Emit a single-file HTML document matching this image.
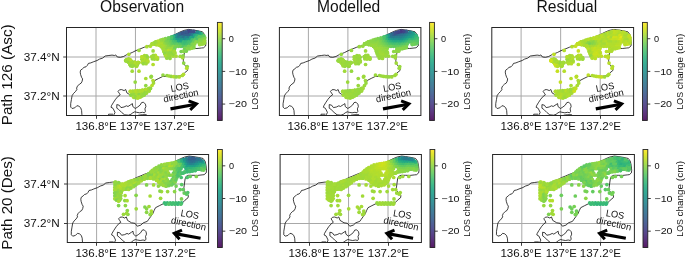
<!DOCTYPE html><html><head><meta charset="utf-8"><style>html,body{margin:0;padding:0;background:#fff;}svg{display:block;will-change:transform;}</style></head><body>
<svg width="685" height="258" viewBox="0 0 685 258" font-family="Liberation Sans, sans-serif">
<rect width="685" height="258" fill="#fff"/>
<defs><linearGradient id="cb" x1="0" y1="1" x2="0" y2="0">
<stop offset="0.000" stop-color="#440154"/>
<stop offset="0.050" stop-color="#471365"/>
<stop offset="0.100" stop-color="#482475"/>
<stop offset="0.150" stop-color="#463480"/>
<stop offset="0.200" stop-color="#414487"/>
<stop offset="0.250" stop-color="#3b528b"/>
<stop offset="0.300" stop-color="#355f8d"/>
<stop offset="0.350" stop-color="#2f6c8e"/>
<stop offset="0.400" stop-color="#2a788e"/>
<stop offset="0.450" stop-color="#25848e"/>
<stop offset="0.500" stop-color="#21918c"/>
<stop offset="0.550" stop-color="#1e9c89"/>
<stop offset="0.600" stop-color="#22a884"/>
<stop offset="0.650" stop-color="#2fb47c"/>
<stop offset="0.700" stop-color="#44bf70"/>
<stop offset="0.750" stop-color="#5ec962"/>
<stop offset="0.800" stop-color="#7ad151"/>
<stop offset="0.850" stop-color="#9bd93c"/>
<stop offset="0.900" stop-color="#bddf26"/>
<stop offset="0.950" stop-color="#dfe318"/>
<stop offset="1.000" stop-color="#440256"/>
</linearGradient></defs>
<text x="100.00" y="11.60" font-size="15.60" fill="#111" text-anchor="start" textLength="84.2" lengthAdjust="spacingAndGlyphs" >Observation</text>
<text x="317.00" y="11.60" font-size="15.60" fill="#111" text-anchor="start" textLength="63.3" lengthAdjust="spacingAndGlyphs" >Modelled</text>
<text x="536.40" y="11.60" font-size="15.60" fill="#111" text-anchor="start" textLength="60.9" lengthAdjust="spacingAndGlyphs" >Residual</text>
<text transform="translate(11.6,125.3) rotate(-90)" font-size="15.2" fill="#111" textLength="101" lengthAdjust="spacingAndGlyphs">Path 126 (Asc)</text>
<text transform="translate(11.6,249.7) rotate(-90)" font-size="15.2" fill="#111" textLength="93.5" lengthAdjust="spacingAndGlyphs">Path 20 (Des)</text>
<defs><path id="coast" d="M82.0 116.5 L81.9 114.6 L81.6 110.5 L80.7 107.8 L78.9 106.2 L76.9 105.7 L74.8 107.8 L72.1 108.5 L70.7 107.1 L70.7 103.7 L71.4 99.6 L72.1 95.6 L73.5 93.5 L75.5 91.5 L76.9 89.5 L76.6 88.1 L77.5 86.1 L79.6 84.0 L81.1 83.2 L82.1 81.3 L82.6 78.9 L81.6 77.4 L80.6 74.5 L80.2 72.1 L80.6 70.2 L82.6 68.7 L84.0 67.3 L86.0 66.8 L87.4 65.3 L88.4 63.4 L90.8 62.9 L93.2 61.9 L97.1 60.5 L99.5 59.1 L102.6 58.1 L105.2 56.0 L108.9 55.5 L112.0 55.1 L114.7 55.5 L115.7 54.9 L117.3 57.0 L120.4 57.3 L123.5 56.5 L127.1 54.5 L132.2 52.5 L135.7 50.7 L139.5 49.2 L144.3 47.2 L150.0 45.5 L156.0 43.0 L162.0 40.5 L168.0 38.0 L174.0 35.0 L180.0 32.0 L184.0 30.4 L188.6 29.4 L192.4 29.9 L198.1 30.8 L202.5 31.8 L204.5 34.5 L205.4 38.6 L205.9 43.4 L205.6 46.0 L203.5 47.8 L201.5 48.0 L197.0 48.5 L192.4 48.4 L188.0 48.4 L185.5 49.5 L184.5 52.0 L183.9 56.2 L183.3 60.8 L183.5 63.3 L185.2 65.6 L187.8 68.5 L187.5 70.5 L184.4 73.0 L181.8 75.7 L175.0 76.4 L168.3 76.4 L162.9 76.4 L158.8 78.4 L154.9 80.4 L153.5 83.2 L152.1 86.5 L150.1 89.2 L148.1 91.9 L146.7 93.9 L142.7 95.3 L140.2 97.6 L136.7 98.7 L134.3 95.8 L130.9 95.3 L126.9 92.9 L125.7 89.5 L124.1 90.6 L121.7 89.6 L119.5 89.8 L118.0 91.4 L119.2 93.2 L120.2 94.8 L118.2 96.2 L115.6 99.2 L113.2 102.8 L111.4 105.8 L111.0 107.3 L113.0 108.3 L115.0 112.4 L114.0 114.5 L113.5 116.5M116.8 104.6 L119.2 105.2 L121.0 107.6 L124.0 107.0 L126.4 105.8 L128.0 106.5 L130.9 104.6 L132.4 103.6 L132.8 106.5 L135.3 108.5 L137.7 107.0 L140.1 105.1 L141.6 102.6 L143.5 102.2 L145.4 104.1 L145.9 106.5 L144.9 108.9 L145.4 111.4 L144.5 112.8 L142.5 112.3 L139.6 112.8 L136.7 112.3 L134.8 111.8 L132.8 112.8 L130.9 114.3 L128.5 115.2 L124.6 114.8 L121.6 112.4 L118.6 109.4 L116.8 108.2 L116.8 104.6M108.2 116.5 L108.6 114.2 L113.0 114.2M137.0 116.5 L138.6 115.2 L142.5 114.7 L146.4 114.7 L147.0 116.5" fill="none" stroke="#000" stroke-width="0.75" stroke-linejoin="round"/></defs>
<clipPath id="c00"><rect x="66.50" y="27.50" width="142.00" height="88.00"/></clipPath>
<g stroke="#a8a8a8" stroke-width="1" fill="none">
<line x1="96.00" y1="27.50" x2="96.00" y2="115.50"/>
<line x1="135.45" y1="27.50" x2="135.45" y2="115.50"/>
<line x1="174.90" y1="27.50" x2="174.90" y2="115.50"/>
<line x1="66.50" y1="57.00" x2="208.50" y2="57.00"/>
<line x1="66.50" y1="96.00" x2="208.50" y2="96.00"/>
</g>
<g clip-path="url(#c00)">
<g transform="translate(96.000,0) scale(1.00000,1) translate(-96.0,0)">
<use href="#coast"/>
<circle cx="183.5" cy="33.3" r="1.85" fill="#306a8e"/>
<circle cx="186.0" cy="33.3" r="1.85" fill="#433d84"/>
<circle cx="188.5" cy="33.3" r="1.85" fill="#3a548c"/>
<circle cx="191.0" cy="33.3" r="1.85" fill="#2c718e"/>
<circle cx="193.5" cy="33.3" r="1.85" fill="#297b8e"/>
<circle cx="196.0" cy="33.3" r="1.85" fill="#238a8d"/>
<circle cx="198.5" cy="33.3" r="1.85" fill="#1fa088"/>
<circle cx="177.2" cy="35.4" r="1.85" fill="#23898e"/>
<circle cx="179.7" cy="35.4" r="1.85" fill="#287d8e"/>
<circle cx="182.2" cy="35.4" r="1.85" fill="#297a8e"/>
<circle cx="184.7" cy="35.4" r="1.85" fill="#31668e"/>
<circle cx="187.2" cy="35.4" r="1.85" fill="#34618d"/>
<circle cx="189.7" cy="35.4" r="1.85" fill="#32648e"/>
<circle cx="192.2" cy="35.4" r="1.85" fill="#277f8e"/>
<circle cx="194.7" cy="35.4" r="1.85" fill="#22a785"/>
<circle cx="197.2" cy="35.4" r="1.85" fill="#32b67a"/>
<circle cx="199.7" cy="35.4" r="1.85" fill="#5ac864"/>
<circle cx="202.2" cy="35.4" r="1.85" fill="#73d056"/>
<circle cx="171.0" cy="37.6" r="1.85" fill="#58c765"/>
<circle cx="173.5" cy="37.6" r="1.85" fill="#2cb17e"/>
<circle cx="176.0" cy="37.6" r="1.85" fill="#1e9b8a"/>
<circle cx="178.5" cy="37.6" r="1.85" fill="#27808e"/>
<circle cx="181.0" cy="37.6" r="1.85" fill="#25848e"/>
<circle cx="183.5" cy="37.6" r="1.85" fill="#2b758e"/>
<circle cx="186.0" cy="37.6" r="1.85" fill="#23898e"/>
<circle cx="188.5" cy="37.6" r="1.85" fill="#27808e"/>
<circle cx="191.0" cy="37.6" r="1.85" fill="#21a585"/>
<circle cx="193.5" cy="37.6" r="1.85" fill="#1fa088"/>
<circle cx="196.0" cy="37.6" r="1.85" fill="#40bd72"/>
<circle cx="198.5" cy="37.6" r="1.85" fill="#5ac864"/>
<circle cx="201.0" cy="37.6" r="1.85" fill="#5ec962"/>
<circle cx="203.5" cy="37.6" r="1.85" fill="#73d056"/>
<circle cx="162.2" cy="39.8" r="1.85" fill="#81d34d"/>
<circle cx="164.7" cy="39.8" r="1.85" fill="#89d548"/>
<circle cx="167.2" cy="39.8" r="1.85" fill="#69cd5b"/>
<circle cx="169.7" cy="39.8" r="1.85" fill="#63cb5f"/>
<circle cx="172.2" cy="39.8" r="1.85" fill="#42be71"/>
<circle cx="174.7" cy="39.8" r="1.85" fill="#2eb37c"/>
<circle cx="177.2" cy="39.8" r="1.85" fill="#1e9c89"/>
<circle cx="179.7" cy="39.8" r="1.85" fill="#1e9b8a"/>
<circle cx="182.2" cy="39.8" r="1.85" fill="#1e9d89"/>
<circle cx="184.7" cy="39.8" r="1.85" fill="#218f8d"/>
<circle cx="187.2" cy="39.8" r="1.85" fill="#1f9f88"/>
<circle cx="189.7" cy="39.8" r="1.85" fill="#22a884"/>
<circle cx="192.2" cy="39.8" r="1.85" fill="#46c06f"/>
<circle cx="194.7" cy="39.8" r="1.85" fill="#60ca60"/>
<circle cx="197.2" cy="39.8" r="1.85" fill="#52c569"/>
<circle cx="199.7" cy="39.8" r="1.85" fill="#7fd34e"/>
<circle cx="202.2" cy="39.8" r="1.85" fill="#7fd34e"/>
<circle cx="156.0" cy="41.9" r="1.85" fill="#98d83e"/>
<circle cx="158.5" cy="41.9" r="1.85" fill="#9bd93c"/>
<circle cx="161.0" cy="41.9" r="1.85" fill="#a8db34"/>
<circle cx="163.5" cy="41.9" r="1.85" fill="#98d83e"/>
<circle cx="166.0" cy="41.9" r="1.85" fill="#7cd250"/>
<circle cx="168.5" cy="41.9" r="1.85" fill="#77d153"/>
<circle cx="171.0" cy="41.9" r="1.85" fill="#67cc5c"/>
<circle cx="173.5" cy="41.9" r="1.85" fill="#4ec36b"/>
<circle cx="176.0" cy="41.9" r="1.85" fill="#44bf70"/>
<circle cx="178.5" cy="41.9" r="1.85" fill="#24aa83"/>
<circle cx="181.0" cy="41.9" r="1.85" fill="#21a685"/>
<circle cx="183.5" cy="41.9" r="1.85" fill="#38b977"/>
<circle cx="186.0" cy="41.9" r="1.85" fill="#37b878"/>
<circle cx="188.5" cy="41.9" r="1.85" fill="#42be71"/>
<circle cx="191.0" cy="41.9" r="1.85" fill="#46c06f"/>
<circle cx="193.5" cy="41.9" r="1.85" fill="#67cc5c"/>
<circle cx="196.0" cy="41.9" r="1.85" fill="#89d548"/>
<circle cx="198.5" cy="41.9" r="1.85" fill="#84d44b"/>
<circle cx="201.0" cy="41.9" r="1.85" fill="#89d548"/>
<circle cx="203.5" cy="41.9" r="1.85" fill="#93d741"/>
<circle cx="154.7" cy="44.1" r="1.85" fill="#addc30"/>
<circle cx="157.2" cy="44.1" r="1.85" fill="#90d743"/>
<circle cx="159.7" cy="44.1" r="1.85" fill="#aadc32"/>
<circle cx="162.2" cy="44.1" r="1.85" fill="#aadc32"/>
<circle cx="164.7" cy="44.1" r="1.85" fill="#93d741"/>
<circle cx="167.2" cy="44.1" r="1.85" fill="#81d34d"/>
<circle cx="169.7" cy="44.1" r="1.85" fill="#77d153"/>
<circle cx="172.2" cy="44.1" r="1.85" fill="#63cb5f"/>
<circle cx="174.7" cy="44.1" r="1.85" fill="#58c765"/>
<circle cx="177.2" cy="44.1" r="1.85" fill="#60ca60"/>
<circle cx="179.7" cy="44.1" r="1.85" fill="#56c667"/>
<circle cx="182.2" cy="44.1" r="1.85" fill="#44bf70"/>
<circle cx="184.7" cy="44.1" r="1.85" fill="#3bbb75"/>
<circle cx="187.2" cy="44.1" r="1.85" fill="#44bf70"/>
<circle cx="189.7" cy="44.1" r="1.85" fill="#4ec36b"/>
<circle cx="192.2" cy="44.1" r="1.85" fill="#7fd34e"/>
<circle cx="194.7" cy="44.1" r="1.85" fill="#8bd646"/>
<circle cx="199.7" cy="44.1" r="1.85" fill="#a5db36"/>
<circle cx="163.5" cy="46.3" r="1.85" fill="#b5de2b"/>
<circle cx="166.0" cy="46.3" r="1.85" fill="#9bd93c"/>
<circle cx="168.5" cy="46.3" r="1.85" fill="#89d548"/>
<circle cx="171.0" cy="46.3" r="1.85" fill="#7cd250"/>
<circle cx="173.5" cy="46.3" r="1.85" fill="#86d549"/>
<circle cx="176.0" cy="46.3" r="1.85" fill="#77d153"/>
<circle cx="178.5" cy="46.3" r="1.85" fill="#75d054"/>
<circle cx="181.0" cy="46.3" r="1.85" fill="#69cd5b"/>
<circle cx="183.5" cy="46.3" r="1.85" fill="#54c568"/>
<circle cx="186.0" cy="46.3" r="1.85" fill="#5ac864"/>
<circle cx="188.5" cy="46.3" r="1.85" fill="#77d153"/>
<circle cx="191.0" cy="46.3" r="1.85" fill="#77d153"/>
<circle cx="193.5" cy="46.3" r="1.85" fill="#86d549"/>
<circle cx="164.7" cy="48.4" r="1.85" fill="#a2da37"/>
<circle cx="167.2" cy="48.4" r="1.85" fill="#93d741"/>
<circle cx="169.7" cy="48.4" r="1.85" fill="#98d83e"/>
<circle cx="172.2" cy="48.4" r="1.85" fill="#9dd93b"/>
<circle cx="174.7" cy="48.4" r="1.85" fill="#75d054"/>
<circle cx="184.7" cy="48.4" r="1.85" fill="#81d34d"/>
<circle cx="187.2" cy="48.4" r="1.85" fill="#75d054"/>
<circle cx="189.7" cy="48.4" r="1.85" fill="#81d34d"/>
<circle cx="166.0" cy="50.6" r="1.85" fill="#9bd93c"/>
<circle cx="168.5" cy="50.6" r="1.85" fill="#b5de2b"/>
<circle cx="171.0" cy="50.6" r="1.85" fill="#aadc32"/>
<circle cx="173.5" cy="50.6" r="1.85" fill="#90d743"/>
<circle cx="164.7" cy="52.8" r="1.85" fill="#9bd93c"/>
<circle cx="167.2" cy="52.8" r="1.85" fill="#9bd93c"/>
<circle cx="169.7" cy="52.8" r="1.85" fill="#95d840"/>
<circle cx="172.2" cy="52.8" r="1.85" fill="#8ed645"/>
<circle cx="166.0" cy="54.9" r="1.85" fill="#addc30"/>
<circle cx="168.5" cy="54.9" r="1.85" fill="#98d83e"/>
<circle cx="171.0" cy="54.9" r="1.85" fill="#98d83e"/>
<circle cx="167.2" cy="57.1" r="1.85" fill="#a2da37"/>
<circle cx="169.7" cy="57.1" r="1.85" fill="#9dd93b"/>
<circle cx="152.2" cy="43.8" r="1.85" fill="#a5db36"/>
<circle cx="152.2" cy="43.9" r="1.85" fill="#a5db36"/>
<circle cx="152.6" cy="44.2" r="1.85" fill="#b2dd2d"/>
<circle cx="156.1" cy="44.4" r="1.85" fill="#98d83e"/>
<circle cx="156.2" cy="44.4" r="1.85" fill="#a0da39"/>
<circle cx="156.4" cy="44.4" r="1.85" fill="#a2da37"/>
<circle cx="156.5" cy="44.5" r="1.85" fill="#aadc32"/>
<circle cx="158.8" cy="45.2" r="1.85" fill="#b2dd2d"/>
<circle cx="161.0" cy="46.0" r="1.85" fill="#b0dd2f"/>
<circle cx="161.2" cy="46.0" r="1.85" fill="#9dd93b"/>
<circle cx="161.3" cy="46.1" r="1.85" fill="#b8de29"/>
<circle cx="161.4" cy="46.2" r="1.85" fill="#a2da37"/>
<circle cx="161.6" cy="46.3" r="1.85" fill="#addc30"/>
<circle cx="161.7" cy="46.4" r="1.85" fill="#b0dd2f"/>
<circle cx="161.8" cy="46.6" r="1.85" fill="#9dd93b"/>
<circle cx="161.9" cy="46.7" r="1.85" fill="#a5db36"/>
<circle cx="162.0" cy="46.9" r="1.85" fill="#a8db34"/>
<circle cx="163.0" cy="49.1" r="1.85" fill="#a0da39"/>
<circle cx="164.0" cy="51.4" r="1.85" fill="#b5de2b"/>
<circle cx="164.0" cy="51.5" r="1.85" fill="#a0da39"/>
<circle cx="164.7" cy="53.7" r="1.85" fill="#90d743"/>
<circle cx="165.5" cy="55.8" r="1.85" fill="#aadc32"/>
<circle cx="166.9" cy="58.2" r="1.85" fill="#98d83e"/>
<circle cx="170.0" cy="58.4" r="1.85" fill="#93d741"/>
<circle cx="173.1" cy="56.1" r="1.85" fill="#a5db36"/>
<circle cx="173.5" cy="54.1" r="1.85" fill="#90d743"/>
<circle cx="173.9" cy="52.2" r="1.85" fill="#90d743"/>
<circle cx="174.0" cy="52.0" r="1.85" fill="#a5db36"/>
<circle cx="174.0" cy="51.9" r="1.85" fill="#8ed645"/>
<circle cx="174.1" cy="51.7" r="1.85" fill="#9bd93c"/>
<circle cx="174.2" cy="51.6" r="1.85" fill="#9bd93c"/>
<circle cx="174.3" cy="51.5" r="1.85" fill="#a2da37"/>
<circle cx="184.6" cy="49.6" r="1.85" fill="#8bd646"/>
<circle cx="184.7" cy="49.6" r="1.85" fill="#6ccd5a"/>
<circle cx="187.2" cy="49.2" r="1.85" fill="#86d549"/>
<circle cx="189.7" cy="48.7" r="1.85" fill="#81d34d"/>
<circle cx="191.8" cy="48.2" r="1.85" fill="#98d83e"/>
<circle cx="193.9" cy="47.7" r="1.85" fill="#84d44b"/>
<circle cx="199.7" cy="44.6" r="1.85" fill="#9bd93c"/>
<circle cx="201.6" cy="44.2" r="1.85" fill="#98d83e"/>
<circle cx="203.5" cy="43.8" r="1.85" fill="#98d83e"/>
<circle cx="204.6" cy="42.9" r="1.85" fill="#9dd93b"/>
<circle cx="204.7" cy="40.4" r="1.85" fill="#9bd93c"/>
<circle cx="204.8" cy="37.8" r="1.85" fill="#84d44b"/>
<circle cx="203.7" cy="35.5" r="1.85" fill="#60ca60"/>
<circle cx="201.2" cy="33.6" r="1.85" fill="#32b67a"/>
<circle cx="199.4" cy="32.9" r="1.85" fill="#1fa287"/>
<circle cx="197.5" cy="32.1" r="1.85" fill="#23898e"/>
<circle cx="193.8" cy="31.4" r="1.85" fill="#3d4e8a"/>
<circle cx="191.2" cy="31.3" r="1.85" fill="#3d4e8a"/>
<circle cx="188.5" cy="31.1" r="1.85" fill="#404588"/>
<circle cx="186.0" cy="31.9" r="1.85" fill="#375a8c"/>
<circle cx="183.5" cy="32.7" r="1.85" fill="#375a8c"/>
<circle cx="181.5" cy="33.4" r="1.85" fill="#39558c"/>
<circle cx="179.6" cy="34.0" r="1.85" fill="#32658e"/>
<circle cx="177.6" cy="34.9" r="1.85" fill="#2c738e"/>
<circle cx="175.7" cy="35.8" r="1.85" fill="#25838e"/>
<circle cx="175.5" cy="35.8" r="1.85" fill="#218f8d"/>
<circle cx="173.5" cy="36.4" r="1.85" fill="#2cb17e"/>
<circle cx="171.5" cy="37.0" r="1.85" fill="#48c16e"/>
<circle cx="171.4" cy="37.1" r="1.85" fill="#4ec36b"/>
<circle cx="168.4" cy="37.8" r="1.85" fill="#6ece58"/>
<circle cx="165.4" cy="38.5" r="1.85" fill="#7fd34e"/>
<circle cx="163.0" cy="39.3" r="1.85" fill="#93d741"/>
<circle cx="160.5" cy="40.0" r="1.85" fill="#98d83e"/>
<circle cx="158.1" cy="41.0" r="1.85" fill="#b2dd2d"/>
<circle cx="155.7" cy="41.9" r="1.85" fill="#a0da39"/>
<circle cx="154.0" cy="42.9" r="1.85" fill="#9bd93c"/>
<circle cx="152.2" cy="43.8" r="1.85" fill="#a5db36"/>
<circle cx="127.1" cy="61.1" r="1.85" fill="#9bd93c"/>
<circle cx="129.6" cy="61.1" r="1.85" fill="#9dd93b"/>
<circle cx="130.8" cy="63.2" r="1.85" fill="#9dd93b"/>
<circle cx="133.3" cy="63.2" r="1.85" fill="#9dd93b"/>
<circle cx="135.8" cy="63.2" r="1.85" fill="#b8de29"/>
<circle cx="132.1" cy="65.4" r="1.85" fill="#a0da39"/>
<circle cx="134.6" cy="65.4" r="1.85" fill="#98d83e"/>
<circle cx="125.8" cy="60.5" r="1.85" fill="#9dd93b"/>
<circle cx="125.9" cy="61.0" r="1.85" fill="#98d83e"/>
<circle cx="127.4" cy="61.2" r="1.85" fill="#9bd93c"/>
<circle cx="127.5" cy="61.3" r="1.85" fill="#a0da39"/>
<circle cx="127.7" cy="61.3" r="1.85" fill="#9dd93b"/>
<circle cx="127.8" cy="61.4" r="1.85" fill="#93d741"/>
<circle cx="128.0" cy="61.5" r="1.85" fill="#95d840"/>
<circle cx="128.1" cy="61.6" r="1.85" fill="#b0dd2f"/>
<circle cx="128.2" cy="61.7" r="1.85" fill="#b2dd2d"/>
<circle cx="128.3" cy="61.8" r="1.85" fill="#93d741"/>
<circle cx="130.0" cy="63.9" r="1.85" fill="#93d741"/>
<circle cx="130.1" cy="64.0" r="1.85" fill="#b0dd2f"/>
<circle cx="130.2" cy="64.2" r="1.85" fill="#b2dd2d"/>
<circle cx="130.3" cy="64.3" r="1.85" fill="#98d83e"/>
<circle cx="130.3" cy="64.5" r="1.85" fill="#addc30"/>
<circle cx="130.4" cy="64.6" r="1.85" fill="#a0da39"/>
<circle cx="130.6" cy="65.8" r="1.85" fill="#93d741"/>
<circle cx="132.4" cy="66.3" r="1.85" fill="#98d83e"/>
<circle cx="136.2" cy="66.3" r="1.85" fill="#a2da37"/>
<circle cx="136.8" cy="66.1" r="1.85" fill="#a8db34"/>
<circle cx="136.6" cy="65.2" r="1.85" fill="#90d743"/>
<circle cx="136.6" cy="65.0" r="1.85" fill="#9dd93b"/>
<circle cx="136.6" cy="64.9" r="1.85" fill="#addc30"/>
<circle cx="136.6" cy="64.7" r="1.85" fill="#a0da39"/>
<circle cx="136.6" cy="64.6" r="1.85" fill="#90d743"/>
<circle cx="136.7" cy="64.4" r="1.85" fill="#95d840"/>
<circle cx="136.7" cy="64.3" r="1.85" fill="#b2dd2d"/>
<circle cx="136.8" cy="64.1" r="1.85" fill="#95d840"/>
<circle cx="136.9" cy="64.0" r="1.85" fill="#90d743"/>
<circle cx="137.0" cy="63.8" r="1.85" fill="#aadc32"/>
<circle cx="137.1" cy="63.7" r="1.85" fill="#b2dd2d"/>
<circle cx="137.2" cy="63.6" r="1.85" fill="#a8db34"/>
<circle cx="137.4" cy="63.5" r="1.85" fill="#b2dd2d"/>
<circle cx="138.7" cy="62.7" r="1.85" fill="#90d743"/>
<circle cx="138.7" cy="62.6" r="1.85" fill="#a0da39"/>
<circle cx="137.9" cy="62.3" r="1.85" fill="#addc30"/>
<circle cx="134.8" cy="62.3" r="1.85" fill="#9bd93c"/>
<circle cx="134.6" cy="62.3" r="1.85" fill="#a0da39"/>
<circle cx="134.5" cy="62.3" r="1.85" fill="#b2dd2d"/>
<circle cx="131.9" cy="61.8" r="1.85" fill="#a5db36"/>
<circle cx="131.8" cy="61.7" r="1.85" fill="#a0da39"/>
<circle cx="131.6" cy="61.7" r="1.85" fill="#95d840"/>
<circle cx="131.5" cy="61.6" r="1.85" fill="#98d83e"/>
<circle cx="131.3" cy="61.6" r="1.85" fill="#a0da39"/>
<circle cx="131.2" cy="61.5" r="1.85" fill="#b8de29"/>
<circle cx="131.1" cy="61.4" r="1.85" fill="#a8db34"/>
<circle cx="131.0" cy="61.3" r="1.85" fill="#b2dd2d"/>
<circle cx="130.9" cy="61.1" r="1.85" fill="#a2da37"/>
<circle cx="130.8" cy="61.0" r="1.85" fill="#aadc32"/>
<circle cx="130.8" cy="60.9" r="1.85" fill="#9bd93c"/>
<circle cx="130.2" cy="59.7" r="1.85" fill="#b8de29"/>
<circle cx="128.6" cy="58.9" r="1.85" fill="#a8db34"/>
<circle cx="126.4" cy="59.5" r="1.85" fill="#aadc32"/>
<circle cx="125.8" cy="60.5" r="1.85" fill="#9dd93b"/>
<circle cx="143.2" cy="57.6" r="1.85" fill="#9bd93c"/>
<circle cx="145.7" cy="57.6" r="1.85" fill="#b5de2b"/>
<circle cx="144.4" cy="59.8" r="1.85" fill="#b2dd2d"/>
<circle cx="146.9" cy="59.8" r="1.85" fill="#a5db36"/>
<circle cx="143.2" cy="62.0" r="1.85" fill="#b8de29"/>
<circle cx="145.7" cy="62.0" r="1.85" fill="#a8db34"/>
<circle cx="141.9" cy="56.9" r="1.85" fill="#b5de2b"/>
<circle cx="141.9" cy="59.3" r="1.85" fill="#a2da37"/>
<circle cx="142.3" cy="62.2" r="1.85" fill="#b2dd2d"/>
<circle cx="143.3" cy="63.7" r="1.85" fill="#95d840"/>
<circle cx="146.1" cy="63.7" r="1.85" fill="#a2da37"/>
<circle cx="147.8" cy="62.0" r="1.85" fill="#9dd93b"/>
<circle cx="147.9" cy="60.9" r="1.85" fill="#b5de2b"/>
<circle cx="147.7" cy="57.3" r="1.85" fill="#a0da39"/>
<circle cx="146.7" cy="55.8" r="1.85" fill="#90d743"/>
<circle cx="144.5" cy="55.5" r="1.85" fill="#a2da37"/>
<circle cx="141.9" cy="56.9" r="1.85" fill="#b5de2b"/>
<circle cx="153.1" cy="57.6" r="1.85" fill="#a0da39"/>
<circle cx="155.6" cy="57.6" r="1.85" fill="#b0dd2f"/>
<circle cx="151.9" cy="56.6" r="1.85" fill="#a2da37"/>
<circle cx="152.3" cy="58.8" r="1.85" fill="#95d840"/>
<circle cx="154.5" cy="59.1" r="1.85" fill="#a0da39"/>
<circle cx="157.3" cy="59.1" r="1.85" fill="#bade28"/>
<circle cx="157.6" cy="58.8" r="1.85" fill="#9dd93b"/>
<circle cx="157.3" cy="57.6" r="1.85" fill="#b0dd2f"/>
<circle cx="155.4" cy="55.4" r="1.85" fill="#b5de2b"/>
<circle cx="153.3" cy="55.4" r="1.85" fill="#9dd93b"/>
<circle cx="151.9" cy="56.6" r="1.85" fill="#a2da37"/>
<circle cx="144.1" cy="90.4" r="1.85" fill="#a8db34"/>
<circle cx="146.6" cy="90.4" r="1.85" fill="#addc30"/>
<circle cx="149.1" cy="90.4" r="1.85" fill="#90d743"/>
<circle cx="132.8" cy="92.6" r="1.85" fill="#98d83e"/>
<circle cx="135.3" cy="92.6" r="1.85" fill="#a8db34"/>
<circle cx="137.8" cy="92.6" r="1.85" fill="#b0dd2f"/>
<circle cx="140.3" cy="92.6" r="1.85" fill="#b0dd2f"/>
<circle cx="142.8" cy="92.6" r="1.85" fill="#a5db36"/>
<circle cx="145.3" cy="92.6" r="1.85" fill="#93d741"/>
<circle cx="131.6" cy="94.7" r="1.85" fill="#a0da39"/>
<circle cx="134.1" cy="94.7" r="1.85" fill="#95d840"/>
<circle cx="136.6" cy="94.7" r="1.85" fill="#a8db34"/>
<circle cx="139.1" cy="94.7" r="1.85" fill="#8ed645"/>
<circle cx="141.6" cy="94.7" r="1.85" fill="#9dd93b"/>
<circle cx="144.1" cy="94.7" r="1.85" fill="#8ed645"/>
<circle cx="135.3" cy="96.9" r="1.85" fill="#90d743"/>
<circle cx="137.8" cy="96.9" r="1.85" fill="#aadc32"/>
<circle cx="140.3" cy="96.9" r="1.85" fill="#addc30"/>
<circle cx="130.3" cy="91.4" r="1.85" fill="#b2dd2d"/>
<circle cx="130.8" cy="95.1" r="1.85" fill="#8ed645"/>
<circle cx="133.7" cy="97.3" r="1.85" fill="#a5db36"/>
<circle cx="135.7" cy="97.7" r="1.85" fill="#93d741"/>
<circle cx="137.8" cy="98.1" r="1.85" fill="#addc30"/>
<circle cx="139.9" cy="97.1" r="1.85" fill="#aadc32"/>
<circle cx="142.0" cy="96.1" r="1.85" fill="#98d83e"/>
<circle cx="144.1" cy="95.1" r="1.85" fill="#95d840"/>
<circle cx="146.6" cy="93.1" r="1.85" fill="#9bd93c"/>
<circle cx="149.1" cy="91.1" r="1.85" fill="#a2da37"/>
<circle cx="149.8" cy="88.5" r="1.85" fill="#a2da37"/>
<circle cx="149.8" cy="88.2" r="1.85" fill="#b2dd2d"/>
<circle cx="148.4" cy="88.5" r="1.85" fill="#a0da39"/>
<circle cx="145.4" cy="89.4" r="1.85" fill="#b0dd2f"/>
<circle cx="142.5" cy="90.3" r="1.85" fill="#98d83e"/>
<circle cx="142.3" cy="90.4" r="1.85" fill="#9dd93b"/>
<circle cx="142.1" cy="90.4" r="1.85" fill="#b0dd2f"/>
<circle cx="139.8" cy="90.6" r="1.85" fill="#b0dd2f"/>
<circle cx="137.5" cy="90.7" r="1.85" fill="#a8db34"/>
<circle cx="135.1" cy="90.9" r="1.85" fill="#b5de2b"/>
<circle cx="132.7" cy="91.2" r="1.85" fill="#a8db34"/>
<circle cx="130.3" cy="91.4" r="1.85" fill="#b2dd2d"/>
<circle cx="163.0" cy="75.0" r="1.85" fill="#93d741"/>
<circle cx="167.0" cy="75.5" r="1.85" fill="#93d741"/>
<circle cx="169.1" cy="76.0" r="1.85" fill="#a2da37"/>
<circle cx="171.2" cy="76.4" r="1.85" fill="#93d741"/>
<circle cx="173.7" cy="76.7" r="1.85" fill="#addc30"/>
<circle cx="176.2" cy="76.9" r="1.85" fill="#93d741"/>
<circle cx="179.2" cy="76.9" r="1.85" fill="#a8db34"/>
<circle cx="182.3" cy="75.5" r="1.85" fill="#a8db34"/>
<circle cx="183.5" cy="74.3" r="1.85" fill="#b0dd2f"/>
<circle cx="151.0" cy="77.1" r="1.85" fill="#9dd93b"/>
<circle cx="153.0" cy="80.6" r="1.85" fill="#b2dd2d"/>
<circle cx="153.5" cy="83.1" r="1.85" fill="#a0da39"/>
<circle cx="152.0" cy="85.5" r="1.85" fill="#b5de2b"/>
<circle cx="150.5" cy="88.5" r="1.85" fill="#90d743"/>
<circle cx="175.1" cy="53.0" r="1.85" fill="#a0da39"/>
<circle cx="176.1" cy="56.1" r="1.85" fill="#a8db34"/>
<circle cx="180.2" cy="56.3" r="1.85" fill="#a0da39"/>
<circle cx="183.0" cy="55.8" r="1.85" fill="#89d548"/>
<circle cx="181.2" cy="51.5" r="1.85" fill="#7ad151"/>
<circle cx="183.7" cy="51.4" r="1.85" fill="#86d549"/>
<circle cx="186.2" cy="51.2" r="1.85" fill="#7ad151"/>
<circle cx="128.8" cy="54.3" r="1.85" fill="#a8db34"/>
<circle cx="153.1" cy="64.5" r="1.85" fill="#b2dd2d"/>
<circle cx="132.2" cy="71.2" r="1.85" fill="#a0da39"/>
<circle cx="139.0" cy="71.2" r="1.85" fill="#addc30"/>
<circle cx="153.1" cy="50.9" r="1.85" fill="#9dd93b"/>
<circle cx="139.0" cy="50.4" r="1.85" fill="#9bd93c"/>
<circle cx="151.3" cy="76.3" r="1.85" fill="#93d741"/>
<circle cx="135.2" cy="82.1" r="1.85" fill="#93d741"/>
<circle cx="145.8" cy="78.5" r="1.85" fill="#a8db34"/>
<circle cx="145.8" cy="85.6" r="1.85" fill="#90d743"/>
<circle cx="146.8" cy="46.7" r="1.85" fill="#a8db34"/>
<circle cx="150.3" cy="46.2" r="1.85" fill="#aadc32"/>
<circle cx="183.7" cy="63.1" r="1.85" fill="#8ed645"/>
<circle cx="187.2" cy="66.5" r="1.85" fill="#8ed645"/>
<circle cx="186.7" cy="68.2" r="1.85" fill="#b5de2b"/>
<circle cx="182.7" cy="57.8" r="1.85" fill="#a0da39"/>
</g>
<g transform="translate(0.00,0)">
<text transform="translate(171.2,91.9) rotate(-10.4)" font-size="9.5" fill="#111" textLength="18.5" lengthAdjust="spacingAndGlyphs">LOS</text>
<text transform="translate(164,102.4) rotate(-11.7)" font-size="9.5" fill="#111" textLength="35.7" lengthAdjust="spacingAndGlyphs">direction</text>
<path d="M170.5 108.9 L195.8 104.2" stroke="#000" stroke-width="3.2" fill="none"/>
<path d="M188.6 100.9 L196.4 103.9 L190.2 109.8" stroke="#000" stroke-width="3.0" fill="none" stroke-linejoin="miter"/>
</g>
</g>
<rect x="66.50" y="27.50" width="142.00" height="88.00" fill="none" stroke="#262626" stroke-width="1"/>
<g stroke="#262626" stroke-width="0.9">
<line x1="96.50" y1="115.50" x2="96.50" y2="118.80"/>
<line x1="135.50" y1="115.50" x2="135.50" y2="118.80"/>
<line x1="174.50" y1="115.50" x2="174.50" y2="118.80"/>
<line x1="63.20" y1="57.00" x2="66.50" y2="57.00"/>
<line x1="63.20" y1="96.00" x2="66.50" y2="96.00"/>
</g>
<text x="96.05" y="129.60" font-size="10.70" fill="#111" text-anchor="middle" textLength="41.3" lengthAdjust="spacingAndGlyphs" >136.8°E</text>
<text x="135.35" y="129.60" font-size="10.70" fill="#111" text-anchor="middle" textLength="31.0" lengthAdjust="spacingAndGlyphs" >137°E</text>
<text x="174.40" y="129.60" font-size="10.70" fill="#111" text-anchor="middle" textLength="41.3" lengthAdjust="spacingAndGlyphs" >137.2°E</text>
<text x="23.70" y="60.90" font-size="10.70" fill="#111" text-anchor="start" textLength="36.0" lengthAdjust="spacingAndGlyphs" >37.4°N</text>
<text x="23.70" y="99.80" font-size="10.70" fill="#111" text-anchor="start" textLength="36.0" lengthAdjust="spacingAndGlyphs" >37.2°N</text>
<rect x="217.40" y="22.40" width="4.8" height="1.300" fill="#fbe723"/>
<rect x="217.40" y="23.40" width="4.8" height="1.300" fill="#f6e620"/>
<rect x="217.40" y="24.40" width="4.8" height="1.300" fill="#efe51c"/>
<rect x="217.40" y="25.40" width="4.8" height="1.300" fill="#e7e419"/>
<rect x="217.40" y="26.40" width="4.8" height="1.300" fill="#e2e418"/>
<rect x="217.40" y="27.40" width="4.8" height="1.300" fill="#dae319"/>
<rect x="217.40" y="28.40" width="4.8" height="1.300" fill="#d5e21a"/>
<rect x="217.40" y="29.40" width="4.8" height="1.300" fill="#cde11d"/>
<rect x="217.40" y="30.40" width="4.8" height="1.300" fill="#c5e021"/>
<rect x="217.40" y="31.40" width="4.8" height="1.300" fill="#c0df25"/>
<rect x="217.40" y="32.40" width="4.8" height="1.300" fill="#b8de29"/>
<rect x="217.40" y="33.40" width="4.8" height="1.300" fill="#b0dd2f"/>
<rect x="217.40" y="34.40" width="4.8" height="1.300" fill="#aadc32"/>
<rect x="217.40" y="35.40" width="4.8" height="1.300" fill="#a2da37"/>
<rect x="217.40" y="36.40" width="4.8" height="1.300" fill="#9dd93b"/>
<rect x="217.40" y="37.40" width="4.8" height="1.300" fill="#95d840"/>
<rect x="217.40" y="38.40" width="4.8" height="1.300" fill="#8ed645"/>
<rect x="217.40" y="39.40" width="4.8" height="1.300" fill="#89d548"/>
<rect x="217.40" y="40.40" width="4.8" height="1.300" fill="#81d34d"/>
<rect x="217.40" y="41.40" width="4.8" height="1.300" fill="#7cd250"/>
<rect x="217.40" y="42.40" width="4.8" height="1.300" fill="#75d054"/>
<rect x="217.40" y="43.40" width="4.8" height="1.300" fill="#6ece58"/>
<rect x="217.40" y="44.40" width="4.8" height="1.300" fill="#69cd5b"/>
<rect x="217.40" y="45.40" width="4.8" height="1.300" fill="#63cb5f"/>
<rect x="217.40" y="46.40" width="4.8" height="1.300" fill="#5ec962"/>
<rect x="217.40" y="47.40" width="4.8" height="1.300" fill="#58c765"/>
<rect x="217.40" y="48.40" width="4.8" height="1.300" fill="#52c569"/>
<rect x="217.40" y="49.40" width="4.8" height="1.300" fill="#4ec36b"/>
<rect x="217.40" y="50.40" width="4.8" height="1.300" fill="#48c16e"/>
<rect x="217.40" y="51.40" width="4.8" height="1.300" fill="#42be71"/>
<rect x="217.40" y="52.40" width="4.8" height="1.300" fill="#3fbc73"/>
<rect x="217.40" y="53.40" width="4.8" height="1.300" fill="#3aba76"/>
<rect x="217.40" y="54.40" width="4.8" height="1.300" fill="#37b878"/>
<rect x="217.40" y="55.40" width="4.8" height="1.300" fill="#32b67a"/>
<rect x="217.40" y="56.40" width="4.8" height="1.300" fill="#2eb37c"/>
<rect x="217.40" y="57.40" width="4.8" height="1.300" fill="#2cb17e"/>
<rect x="217.40" y="58.40" width="4.8" height="1.300" fill="#28ae80"/>
<rect x="217.40" y="59.40" width="4.8" height="1.300" fill="#26ad81"/>
<rect x="217.40" y="60.40" width="4.8" height="1.300" fill="#24aa83"/>
<rect x="217.40" y="61.40" width="4.8" height="1.300" fill="#22a785"/>
<rect x="217.40" y="62.40" width="4.8" height="1.300" fill="#21a585"/>
<rect x="217.40" y="63.40" width="4.8" height="1.300" fill="#1fa287"/>
<rect x="217.40" y="64.40" width="4.8" height="1.300" fill="#1fa088"/>
<rect x="217.40" y="65.40" width="4.8" height="1.300" fill="#1f9e89"/>
<rect x="217.40" y="66.40" width="4.8" height="1.300" fill="#1e9b8a"/>
<rect x="217.40" y="67.40" width="4.8" height="1.300" fill="#1f998a"/>
<rect x="217.40" y="68.40" width="4.8" height="1.300" fill="#1f968b"/>
<rect x="217.40" y="69.40" width="4.8" height="1.300" fill="#20938c"/>
<rect x="217.40" y="70.40" width="4.8" height="1.300" fill="#20928c"/>
<rect x="217.40" y="71.40" width="4.8" height="1.300" fill="#218f8d"/>
<rect x="217.40" y="72.40" width="4.8" height="1.300" fill="#228d8d"/>
<rect x="217.40" y="73.40" width="4.8" height="1.300" fill="#238a8d"/>
<rect x="217.40" y="74.40" width="4.8" height="1.300" fill="#24878e"/>
<rect x="217.40" y="75.40" width="4.8" height="1.300" fill="#25858e"/>
<rect x="217.40" y="76.40" width="4.8" height="1.300" fill="#26828e"/>
<rect x="217.40" y="77.40" width="4.8" height="1.300" fill="#26818e"/>
<rect x="217.40" y="78.40" width="4.8" height="1.300" fill="#277e8e"/>
<rect x="217.40" y="79.40" width="4.8" height="1.300" fill="#297b8e"/>
<rect x="217.40" y="80.40" width="4.8" height="1.300" fill="#29798e"/>
<rect x="217.40" y="81.40" width="4.8" height="1.300" fill="#2a768e"/>
<rect x="217.40" y="82.40" width="4.8" height="1.300" fill="#2c738e"/>
<rect x="217.40" y="83.40" width="4.8" height="1.300" fill="#2c718e"/>
<rect x="217.40" y="84.40" width="4.8" height="1.300" fill="#2e6f8e"/>
<rect x="217.40" y="85.40" width="4.8" height="1.300" fill="#2e6d8e"/>
<rect x="217.40" y="86.40" width="4.8" height="1.300" fill="#306a8e"/>
<rect x="217.40" y="87.40" width="4.8" height="1.300" fill="#31678e"/>
<rect x="217.40" y="88.40" width="4.8" height="1.300" fill="#32658e"/>
<rect x="217.40" y="89.40" width="4.8" height="1.300" fill="#33628d"/>
<rect x="217.40" y="90.40" width="4.8" height="1.300" fill="#34608d"/>
<rect x="217.40" y="91.40" width="4.8" height="1.300" fill="#365d8d"/>
<rect x="217.40" y="92.40" width="4.8" height="1.300" fill="#375a8c"/>
<rect x="217.40" y="93.40" width="4.8" height="1.300" fill="#38588c"/>
<rect x="217.40" y="94.40" width="4.8" height="1.300" fill="#3a548c"/>
<rect x="217.40" y="95.40" width="4.8" height="1.300" fill="#3b528b"/>
<rect x="217.40" y="96.40" width="4.8" height="1.300" fill="#3c4f8a"/>
<rect x="217.40" y="97.40" width="4.8" height="1.300" fill="#3e4c8a"/>
<rect x="217.40" y="98.40" width="4.8" height="1.300" fill="#3e4989"/>
<rect x="217.40" y="99.40" width="4.8" height="1.300" fill="#404688"/>
<rect x="217.40" y="100.40" width="4.8" height="1.300" fill="#414287"/>
<rect x="217.40" y="101.40" width="4.8" height="1.300" fill="#424086"/>
<rect x="217.40" y="102.40" width="4.8" height="1.300" fill="#433d84"/>
<rect x="217.40" y="103.40" width="4.8" height="1.300" fill="#443a83"/>
<rect x="217.40" y="104.40" width="4.8" height="1.300" fill="#453781"/>
<rect x="217.40" y="105.40" width="4.8" height="1.300" fill="#46337f"/>
<rect x="217.40" y="106.40" width="4.8" height="1.300" fill="#46307e"/>
<rect x="217.40" y="107.40" width="4.8" height="1.300" fill="#472d7b"/>
<rect x="217.40" y="108.40" width="4.8" height="1.300" fill="#472a7a"/>
<rect x="217.40" y="109.40" width="4.8" height="1.300" fill="#482677"/>
<rect x="217.40" y="110.40" width="4.8" height="1.300" fill="#482374"/>
<rect x="217.40" y="111.40" width="4.8" height="1.300" fill="#482071"/>
<rect x="217.40" y="112.40" width="4.8" height="1.300" fill="#481c6e"/>
<rect x="217.40" y="113.40" width="4.8" height="1.300" fill="#48186a"/>
<rect x="217.40" y="114.40" width="4.8" height="1.300" fill="#481668"/>
<rect x="217.40" y="115.40" width="4.8" height="1.300" fill="#471164"/>
<rect x="217.40" y="116.40" width="4.8" height="1.300" fill="#470e61"/>
<rect x="217.40" y="117.40" width="4.8" height="1.300" fill="#460a5d"/>
<rect x="217.40" y="118.40" width="4.8" height="1.300" fill="#450559"/>
<rect x="217.40" y="119.40" width="4.8" height="1.300" fill="#440256"/>
<rect x="217.40" y="22.40" width="4.8" height="98.00" fill="none" stroke="#262626" stroke-width="0.9"/>
<g stroke="#262626" stroke-width="0.9">
<line x1="222.20" y1="38.73" x2="225.20" y2="38.73"/>
<line x1="222.20" y1="71.40" x2="225.20" y2="71.40"/>
<line x1="222.20" y1="104.07" x2="225.20" y2="104.07"/>
</g>
<text x="228.80" y="42.03" font-size="9.20" fill="#111" text-anchor="start" textLength="5.1" lengthAdjust="spacingAndGlyphs" >0</text>
<text x="228.80" y="74.70" font-size="9.20" fill="#111" text-anchor="start" textLength="18.2" lengthAdjust="spacingAndGlyphs" >−10</text>
<text x="228.80" y="107.37" font-size="9.20" fill="#111" text-anchor="start" textLength="18.2" lengthAdjust="spacingAndGlyphs" >−20</text>
<text transform="translate(257.70,109.60) rotate(-90)" font-size="8.8" fill="#111" textLength="17.6" lengthAdjust="spacingAndGlyphs">LOS</text>
<text transform="translate(257.70,89.30) rotate(-90)" font-size="8.8" fill="#111" textLength="32.4" lengthAdjust="spacingAndGlyphs">change</text>
<text transform="translate(257.70,54.10) rotate(-90)" font-size="8.8" fill="#111" textLength="20.4" lengthAdjust="spacingAndGlyphs">(cm)</text>
<clipPath id="c01"><rect x="279.40" y="27.50" width="141.50" height="88.00"/></clipPath>
<g stroke="#a8a8a8" stroke-width="1" fill="none">
<line x1="308.40" y1="27.50" x2="308.40" y2="115.50"/>
<line x1="347.90" y1="27.50" x2="347.90" y2="115.50"/>
<line x1="387.40" y1="27.50" x2="387.40" y2="115.50"/>
<line x1="279.40" y1="57.00" x2="420.90" y2="57.00"/>
<line x1="279.40" y1="96.00" x2="420.90" y2="96.00"/>
</g>
<g clip-path="url(#c01)">
<g transform="translate(308.400,0) scale(1.00127,1) translate(-96.0,0)">
<use href="#coast"/>
<circle cx="183.5" cy="33.3" r="1.85" fill="#3c4f8a"/>
<circle cx="186.0" cy="33.3" r="1.85" fill="#3b518b"/>
<circle cx="188.5" cy="33.3" r="1.85" fill="#3a538b"/>
<circle cx="191.0" cy="33.3" r="1.85" fill="#375b8d"/>
<circle cx="193.5" cy="33.3" r="1.85" fill="#2f6b8e"/>
<circle cx="196.0" cy="33.3" r="1.85" fill="#287d8e"/>
<circle cx="198.5" cy="33.3" r="1.85" fill="#20938c"/>
<circle cx="177.2" cy="35.4" r="1.85" fill="#277e8e"/>
<circle cx="179.7" cy="35.4" r="1.85" fill="#306a8e"/>
<circle cx="182.2" cy="35.4" r="1.85" fill="#33628d"/>
<circle cx="184.7" cy="35.4" r="1.85" fill="#31688e"/>
<circle cx="187.2" cy="35.4" r="1.85" fill="#2f6c8e"/>
<circle cx="189.7" cy="35.4" r="1.85" fill="#2c718e"/>
<circle cx="192.2" cy="35.4" r="1.85" fill="#2a788e"/>
<circle cx="194.7" cy="35.4" r="1.85" fill="#24878e"/>
<circle cx="197.2" cy="35.4" r="1.85" fill="#20938c"/>
<circle cx="199.7" cy="35.4" r="1.85" fill="#1fa088"/>
<circle cx="202.2" cy="35.4" r="1.85" fill="#25ac82"/>
<circle cx="171.0" cy="37.6" r="1.85" fill="#56c667"/>
<circle cx="173.5" cy="37.6" r="1.85" fill="#38b977"/>
<circle cx="176.0" cy="37.6" r="1.85" fill="#1fa188"/>
<circle cx="178.5" cy="37.6" r="1.85" fill="#27808e"/>
<circle cx="181.0" cy="37.6" r="1.85" fill="#297a8e"/>
<circle cx="183.5" cy="37.6" r="1.85" fill="#277f8e"/>
<circle cx="186.0" cy="37.6" r="1.85" fill="#27808e"/>
<circle cx="188.5" cy="37.6" r="1.85" fill="#277f8e"/>
<circle cx="191.0" cy="37.6" r="1.85" fill="#24868e"/>
<circle cx="193.5" cy="37.6" r="1.85" fill="#20928c"/>
<circle cx="196.0" cy="37.6" r="1.85" fill="#1f9e89"/>
<circle cx="198.5" cy="37.6" r="1.85" fill="#1fa287"/>
<circle cx="201.0" cy="37.6" r="1.85" fill="#25ac82"/>
<circle cx="203.5" cy="37.6" r="1.85" fill="#38b977"/>
<circle cx="162.2" cy="39.8" r="1.85" fill="#89d548"/>
<circle cx="164.7" cy="39.8" r="1.85" fill="#86d549"/>
<circle cx="167.2" cy="39.8" r="1.85" fill="#77d153"/>
<circle cx="169.7" cy="39.8" r="1.85" fill="#65cb5e"/>
<circle cx="172.2" cy="39.8" r="1.85" fill="#52c569"/>
<circle cx="174.7" cy="39.8" r="1.85" fill="#35b779"/>
<circle cx="177.2" cy="39.8" r="1.85" fill="#21a585"/>
<circle cx="179.7" cy="39.8" r="1.85" fill="#1f988b"/>
<circle cx="182.2" cy="39.8" r="1.85" fill="#1f948c"/>
<circle cx="184.7" cy="39.8" r="1.85" fill="#1f958b"/>
<circle cx="187.2" cy="39.8" r="1.85" fill="#20928c"/>
<circle cx="189.7" cy="39.8" r="1.85" fill="#1f968b"/>
<circle cx="192.2" cy="39.8" r="1.85" fill="#1fa187"/>
<circle cx="194.7" cy="39.8" r="1.85" fill="#25ac82"/>
<circle cx="197.2" cy="39.8" r="1.85" fill="#37b878"/>
<circle cx="199.7" cy="39.8" r="1.85" fill="#34b679"/>
<circle cx="202.2" cy="39.8" r="1.85" fill="#3bbb75"/>
<circle cx="156.0" cy="41.9" r="1.85" fill="#90d743"/>
<circle cx="158.5" cy="41.9" r="1.85" fill="#8ed645"/>
<circle cx="161.0" cy="41.9" r="1.85" fill="#8bd646"/>
<circle cx="163.5" cy="41.9" r="1.85" fill="#89d548"/>
<circle cx="166.0" cy="41.9" r="1.85" fill="#8bd646"/>
<circle cx="168.5" cy="41.9" r="1.85" fill="#7cd250"/>
<circle cx="171.0" cy="41.9" r="1.85" fill="#67cc5c"/>
<circle cx="173.5" cy="41.9" r="1.85" fill="#54c568"/>
<circle cx="176.0" cy="41.9" r="1.85" fill="#3dbc74"/>
<circle cx="178.5" cy="41.9" r="1.85" fill="#2fb47c"/>
<circle cx="181.0" cy="41.9" r="1.85" fill="#28ae80"/>
<circle cx="183.5" cy="41.9" r="1.85" fill="#25ac82"/>
<circle cx="186.0" cy="41.9" r="1.85" fill="#28ae80"/>
<circle cx="188.5" cy="41.9" r="1.85" fill="#26ad81"/>
<circle cx="191.0" cy="41.9" r="1.85" fill="#2cb17e"/>
<circle cx="193.5" cy="41.9" r="1.85" fill="#38b977"/>
<circle cx="196.0" cy="41.9" r="1.85" fill="#46c06f"/>
<circle cx="198.5" cy="41.9" r="1.85" fill="#56c667"/>
<circle cx="201.0" cy="41.9" r="1.85" fill="#58c765"/>
<circle cx="203.5" cy="41.9" r="1.85" fill="#5ec962"/>
<circle cx="154.7" cy="44.1" r="1.85" fill="#8ed645"/>
<circle cx="157.2" cy="44.1" r="1.85" fill="#93d741"/>
<circle cx="159.7" cy="44.1" r="1.85" fill="#90d743"/>
<circle cx="162.2" cy="44.1" r="1.85" fill="#90d743"/>
<circle cx="164.7" cy="44.1" r="1.85" fill="#93d741"/>
<circle cx="167.2" cy="44.1" r="1.85" fill="#89d548"/>
<circle cx="169.7" cy="44.1" r="1.85" fill="#7cd250"/>
<circle cx="172.2" cy="44.1" r="1.85" fill="#70cf57"/>
<circle cx="174.7" cy="44.1" r="1.85" fill="#60ca60"/>
<circle cx="177.2" cy="44.1" r="1.85" fill="#50c46a"/>
<circle cx="179.7" cy="44.1" r="1.85" fill="#46c06f"/>
<circle cx="182.2" cy="44.1" r="1.85" fill="#42be71"/>
<circle cx="184.7" cy="44.1" r="1.85" fill="#48c16e"/>
<circle cx="187.2" cy="44.1" r="1.85" fill="#42be71"/>
<circle cx="189.7" cy="44.1" r="1.85" fill="#4ec36b"/>
<circle cx="192.2" cy="44.1" r="1.85" fill="#54c568"/>
<circle cx="194.7" cy="44.1" r="1.85" fill="#63cb5f"/>
<circle cx="199.7" cy="44.1" r="1.85" fill="#65cb5e"/>
<circle cx="163.5" cy="46.3" r="1.85" fill="#9bd93c"/>
<circle cx="166.0" cy="46.3" r="1.85" fill="#90d743"/>
<circle cx="168.5" cy="46.3" r="1.85" fill="#90d743"/>
<circle cx="171.0" cy="46.3" r="1.85" fill="#84d44b"/>
<circle cx="173.5" cy="46.3" r="1.85" fill="#77d153"/>
<circle cx="176.0" cy="46.3" r="1.85" fill="#6ece58"/>
<circle cx="178.5" cy="46.3" r="1.85" fill="#6ccd5a"/>
<circle cx="181.0" cy="46.3" r="1.85" fill="#63cb5f"/>
<circle cx="183.5" cy="46.3" r="1.85" fill="#5ec962"/>
<circle cx="186.0" cy="46.3" r="1.85" fill="#5ec962"/>
<circle cx="188.5" cy="46.3" r="1.85" fill="#65cb5e"/>
<circle cx="191.0" cy="46.3" r="1.85" fill="#6ece58"/>
<circle cx="193.5" cy="46.3" r="1.85" fill="#75d054"/>
<circle cx="164.7" cy="48.4" r="1.85" fill="#a0da39"/>
<circle cx="167.2" cy="48.4" r="1.85" fill="#9bd93c"/>
<circle cx="169.7" cy="48.4" r="1.85" fill="#98d83e"/>
<circle cx="172.2" cy="48.4" r="1.85" fill="#90d743"/>
<circle cx="174.7" cy="48.4" r="1.85" fill="#8bd646"/>
<circle cx="184.7" cy="48.4" r="1.85" fill="#7cd250"/>
<circle cx="187.2" cy="48.4" r="1.85" fill="#81d34d"/>
<circle cx="189.7" cy="48.4" r="1.85" fill="#84d44b"/>
<circle cx="166.0" cy="50.6" r="1.85" fill="#9bd93c"/>
<circle cx="168.5" cy="50.6" r="1.85" fill="#9bd93c"/>
<circle cx="171.0" cy="50.6" r="1.85" fill="#95d840"/>
<circle cx="173.5" cy="50.6" r="1.85" fill="#9bd93c"/>
<circle cx="164.7" cy="52.8" r="1.85" fill="#a2da37"/>
<circle cx="167.2" cy="52.8" r="1.85" fill="#a2da37"/>
<circle cx="169.7" cy="52.8" r="1.85" fill="#9dd93b"/>
<circle cx="172.2" cy="52.8" r="1.85" fill="#9bd93c"/>
<circle cx="166.0" cy="54.9" r="1.85" fill="#a0da39"/>
<circle cx="168.5" cy="54.9" r="1.85" fill="#a0da39"/>
<circle cx="171.0" cy="54.9" r="1.85" fill="#a2da37"/>
<circle cx="167.2" cy="57.1" r="1.85" fill="#9bd93c"/>
<circle cx="169.7" cy="57.1" r="1.85" fill="#9bd93c"/>
<circle cx="152.2" cy="43.8" r="1.85" fill="#90d743"/>
<circle cx="152.2" cy="43.9" r="1.85" fill="#90d743"/>
<circle cx="152.6" cy="44.2" r="1.85" fill="#95d840"/>
<circle cx="156.1" cy="44.4" r="1.85" fill="#98d83e"/>
<circle cx="156.2" cy="44.4" r="1.85" fill="#98d83e"/>
<circle cx="156.4" cy="44.4" r="1.85" fill="#90d743"/>
<circle cx="156.5" cy="44.5" r="1.85" fill="#90d743"/>
<circle cx="158.8" cy="45.2" r="1.85" fill="#95d840"/>
<circle cx="161.0" cy="46.0" r="1.85" fill="#95d840"/>
<circle cx="161.2" cy="46.0" r="1.85" fill="#9dd93b"/>
<circle cx="161.3" cy="46.1" r="1.85" fill="#98d83e"/>
<circle cx="161.4" cy="46.2" r="1.85" fill="#a0da39"/>
<circle cx="161.6" cy="46.3" r="1.85" fill="#98d83e"/>
<circle cx="161.7" cy="46.4" r="1.85" fill="#98d83e"/>
<circle cx="161.8" cy="46.6" r="1.85" fill="#98d83e"/>
<circle cx="161.9" cy="46.7" r="1.85" fill="#a0da39"/>
<circle cx="162.0" cy="46.9" r="1.85" fill="#95d840"/>
<circle cx="163.0" cy="49.1" r="1.85" fill="#9dd93b"/>
<circle cx="164.0" cy="51.4" r="1.85" fill="#95d840"/>
<circle cx="164.0" cy="51.5" r="1.85" fill="#95d840"/>
<circle cx="164.7" cy="53.7" r="1.85" fill="#95d840"/>
<circle cx="165.5" cy="55.8" r="1.85" fill="#98d83e"/>
<circle cx="166.9" cy="58.2" r="1.85" fill="#98d83e"/>
<circle cx="170.0" cy="58.4" r="1.85" fill="#9dd93b"/>
<circle cx="173.1" cy="56.1" r="1.85" fill="#9bd93c"/>
<circle cx="173.5" cy="54.1" r="1.85" fill="#9dd93b"/>
<circle cx="173.9" cy="52.2" r="1.85" fill="#98d83e"/>
<circle cx="174.0" cy="52.0" r="1.85" fill="#95d840"/>
<circle cx="174.0" cy="51.9" r="1.85" fill="#9bd93c"/>
<circle cx="174.1" cy="51.7" r="1.85" fill="#98d83e"/>
<circle cx="174.2" cy="51.6" r="1.85" fill="#93d741"/>
<circle cx="174.3" cy="51.5" r="1.85" fill="#93d741"/>
<circle cx="184.6" cy="49.6" r="1.85" fill="#7fd34e"/>
<circle cx="184.7" cy="49.6" r="1.85" fill="#86d549"/>
<circle cx="187.2" cy="49.2" r="1.85" fill="#84d44b"/>
<circle cx="189.7" cy="48.7" r="1.85" fill="#86d549"/>
<circle cx="191.8" cy="48.2" r="1.85" fill="#84d44b"/>
<circle cx="193.9" cy="47.7" r="1.85" fill="#81d34d"/>
<circle cx="199.7" cy="44.6" r="1.85" fill="#6ece58"/>
<circle cx="201.6" cy="44.2" r="1.85" fill="#70cf57"/>
<circle cx="203.5" cy="43.8" r="1.85" fill="#6ccd5a"/>
<circle cx="204.6" cy="42.9" r="1.85" fill="#63cb5f"/>
<circle cx="204.7" cy="40.4" r="1.85" fill="#54c568"/>
<circle cx="204.8" cy="37.8" r="1.85" fill="#42be71"/>
<circle cx="203.7" cy="35.5" r="1.85" fill="#31b57b"/>
<circle cx="201.2" cy="33.6" r="1.85" fill="#20a486"/>
<circle cx="199.4" cy="32.9" r="1.85" fill="#1f978b"/>
<circle cx="197.5" cy="32.1" r="1.85" fill="#25848e"/>
<circle cx="193.8" cy="31.4" r="1.85" fill="#355f8d"/>
<circle cx="191.2" cy="31.3" r="1.85" fill="#404688"/>
<circle cx="188.5" cy="31.1" r="1.85" fill="#443983"/>
<circle cx="186.0" cy="31.9" r="1.85" fill="#414487"/>
<circle cx="183.5" cy="32.7" r="1.85" fill="#3e4a89"/>
<circle cx="181.5" cy="33.4" r="1.85" fill="#3a538b"/>
<circle cx="179.6" cy="34.0" r="1.85" fill="#31668e"/>
<circle cx="177.6" cy="34.9" r="1.85" fill="#2b748e"/>
<circle cx="175.7" cy="35.8" r="1.85" fill="#1f958b"/>
<circle cx="175.5" cy="35.8" r="1.85" fill="#1e9b8a"/>
<circle cx="173.5" cy="36.4" r="1.85" fill="#2fb47c"/>
<circle cx="171.5" cy="37.0" r="1.85" fill="#4cc26c"/>
<circle cx="171.4" cy="37.1" r="1.85" fill="#4cc26c"/>
<circle cx="168.4" cy="37.8" r="1.85" fill="#6ccd5a"/>
<circle cx="165.4" cy="38.5" r="1.85" fill="#7cd250"/>
<circle cx="163.0" cy="39.3" r="1.85" fill="#81d34d"/>
<circle cx="160.5" cy="40.0" r="1.85" fill="#89d548"/>
<circle cx="158.1" cy="41.0" r="1.85" fill="#8bd646"/>
<circle cx="155.7" cy="41.9" r="1.85" fill="#8ed645"/>
<circle cx="154.0" cy="42.9" r="1.85" fill="#90d743"/>
<circle cx="152.2" cy="43.8" r="1.85" fill="#90d743"/>
<circle cx="127.1" cy="61.1" r="1.85" fill="#95d840"/>
<circle cx="129.6" cy="61.1" r="1.85" fill="#a0da39"/>
<circle cx="130.8" cy="63.2" r="1.85" fill="#9dd93b"/>
<circle cx="133.3" cy="63.2" r="1.85" fill="#95d840"/>
<circle cx="135.8" cy="63.2" r="1.85" fill="#9dd93b"/>
<circle cx="132.1" cy="65.4" r="1.85" fill="#95d840"/>
<circle cx="134.6" cy="65.4" r="1.85" fill="#9dd93b"/>
<circle cx="125.8" cy="60.5" r="1.85" fill="#95d840"/>
<circle cx="125.9" cy="61.0" r="1.85" fill="#9dd93b"/>
<circle cx="127.4" cy="61.2" r="1.85" fill="#9dd93b"/>
<circle cx="127.5" cy="61.3" r="1.85" fill="#98d83e"/>
<circle cx="127.7" cy="61.3" r="1.85" fill="#95d840"/>
<circle cx="127.8" cy="61.4" r="1.85" fill="#9bd93c"/>
<circle cx="128.0" cy="61.5" r="1.85" fill="#9bd93c"/>
<circle cx="128.1" cy="61.6" r="1.85" fill="#a0da39"/>
<circle cx="128.2" cy="61.7" r="1.85" fill="#9dd93b"/>
<circle cx="128.3" cy="61.8" r="1.85" fill="#a0da39"/>
<circle cx="130.0" cy="63.9" r="1.85" fill="#9dd93b"/>
<circle cx="130.1" cy="64.0" r="1.85" fill="#98d83e"/>
<circle cx="130.2" cy="64.2" r="1.85" fill="#9bd93c"/>
<circle cx="130.3" cy="64.3" r="1.85" fill="#a0da39"/>
<circle cx="130.3" cy="64.5" r="1.85" fill="#95d840"/>
<circle cx="130.4" cy="64.6" r="1.85" fill="#9bd93c"/>
<circle cx="130.6" cy="65.8" r="1.85" fill="#a0da39"/>
<circle cx="132.4" cy="66.3" r="1.85" fill="#98d83e"/>
<circle cx="136.2" cy="66.3" r="1.85" fill="#9dd93b"/>
<circle cx="136.8" cy="66.1" r="1.85" fill="#98d83e"/>
<circle cx="136.6" cy="65.2" r="1.85" fill="#95d840"/>
<circle cx="136.6" cy="65.0" r="1.85" fill="#98d83e"/>
<circle cx="136.6" cy="64.9" r="1.85" fill="#98d83e"/>
<circle cx="136.6" cy="64.7" r="1.85" fill="#9dd93b"/>
<circle cx="136.6" cy="64.6" r="1.85" fill="#9bd93c"/>
<circle cx="136.7" cy="64.4" r="1.85" fill="#98d83e"/>
<circle cx="136.7" cy="64.3" r="1.85" fill="#9bd93c"/>
<circle cx="136.8" cy="64.1" r="1.85" fill="#a2da37"/>
<circle cx="136.9" cy="64.0" r="1.85" fill="#9dd93b"/>
<circle cx="137.0" cy="63.8" r="1.85" fill="#98d83e"/>
<circle cx="137.1" cy="63.7" r="1.85" fill="#a0da39"/>
<circle cx="137.2" cy="63.6" r="1.85" fill="#98d83e"/>
<circle cx="137.4" cy="63.5" r="1.85" fill="#a0da39"/>
<circle cx="138.7" cy="62.7" r="1.85" fill="#9bd93c"/>
<circle cx="138.7" cy="62.6" r="1.85" fill="#95d840"/>
<circle cx="137.9" cy="62.3" r="1.85" fill="#9bd93c"/>
<circle cx="134.8" cy="62.3" r="1.85" fill="#9bd93c"/>
<circle cx="134.6" cy="62.3" r="1.85" fill="#a0da39"/>
<circle cx="134.5" cy="62.3" r="1.85" fill="#95d840"/>
<circle cx="131.9" cy="61.8" r="1.85" fill="#98d83e"/>
<circle cx="131.8" cy="61.7" r="1.85" fill="#9bd93c"/>
<circle cx="131.6" cy="61.7" r="1.85" fill="#a0da39"/>
<circle cx="131.5" cy="61.6" r="1.85" fill="#95d840"/>
<circle cx="131.3" cy="61.6" r="1.85" fill="#a0da39"/>
<circle cx="131.2" cy="61.5" r="1.85" fill="#a0da39"/>
<circle cx="131.1" cy="61.4" r="1.85" fill="#9bd93c"/>
<circle cx="131.0" cy="61.3" r="1.85" fill="#9bd93c"/>
<circle cx="130.9" cy="61.1" r="1.85" fill="#98d83e"/>
<circle cx="130.8" cy="61.0" r="1.85" fill="#a2da37"/>
<circle cx="130.8" cy="60.9" r="1.85" fill="#9bd93c"/>
<circle cx="130.2" cy="59.7" r="1.85" fill="#a0da39"/>
<circle cx="128.6" cy="58.9" r="1.85" fill="#9bd93c"/>
<circle cx="126.4" cy="59.5" r="1.85" fill="#9bd93c"/>
<circle cx="125.8" cy="60.5" r="1.85" fill="#95d840"/>
<circle cx="143.2" cy="57.6" r="1.85" fill="#9bd93c"/>
<circle cx="145.7" cy="57.6" r="1.85" fill="#98d83e"/>
<circle cx="144.4" cy="59.8" r="1.85" fill="#98d83e"/>
<circle cx="146.9" cy="59.8" r="1.85" fill="#95d840"/>
<circle cx="143.2" cy="62.0" r="1.85" fill="#a0da39"/>
<circle cx="145.7" cy="62.0" r="1.85" fill="#9dd93b"/>
<circle cx="141.9" cy="56.9" r="1.85" fill="#9bd93c"/>
<circle cx="141.9" cy="59.3" r="1.85" fill="#a0da39"/>
<circle cx="142.3" cy="62.2" r="1.85" fill="#9dd93b"/>
<circle cx="143.3" cy="63.7" r="1.85" fill="#9dd93b"/>
<circle cx="146.1" cy="63.7" r="1.85" fill="#95d840"/>
<circle cx="147.8" cy="62.0" r="1.85" fill="#9dd93b"/>
<circle cx="147.9" cy="60.9" r="1.85" fill="#9dd93b"/>
<circle cx="147.7" cy="57.3" r="1.85" fill="#95d840"/>
<circle cx="146.7" cy="55.8" r="1.85" fill="#9dd93b"/>
<circle cx="144.5" cy="55.5" r="1.85" fill="#98d83e"/>
<circle cx="141.9" cy="56.9" r="1.85" fill="#9bd93c"/>
<circle cx="153.1" cy="57.6" r="1.85" fill="#9dd93b"/>
<circle cx="155.6" cy="57.6" r="1.85" fill="#9dd93b"/>
<circle cx="151.9" cy="56.6" r="1.85" fill="#98d83e"/>
<circle cx="152.3" cy="58.8" r="1.85" fill="#9bd93c"/>
<circle cx="154.5" cy="59.1" r="1.85" fill="#a0da39"/>
<circle cx="157.3" cy="59.1" r="1.85" fill="#95d840"/>
<circle cx="157.6" cy="58.8" r="1.85" fill="#a0da39"/>
<circle cx="157.3" cy="57.6" r="1.85" fill="#a0da39"/>
<circle cx="155.4" cy="55.4" r="1.85" fill="#9bd93c"/>
<circle cx="153.3" cy="55.4" r="1.85" fill="#9dd93b"/>
<circle cx="151.9" cy="56.6" r="1.85" fill="#98d83e"/>
<circle cx="144.1" cy="90.4" r="1.85" fill="#a0da39"/>
<circle cx="146.6" cy="90.4" r="1.85" fill="#95d840"/>
<circle cx="149.1" cy="90.4" r="1.85" fill="#9bd93c"/>
<circle cx="132.8" cy="92.6" r="1.85" fill="#a2da37"/>
<circle cx="135.3" cy="92.6" r="1.85" fill="#98d83e"/>
<circle cx="137.8" cy="92.6" r="1.85" fill="#a2da37"/>
<circle cx="140.3" cy="92.6" r="1.85" fill="#95d840"/>
<circle cx="142.8" cy="92.6" r="1.85" fill="#9dd93b"/>
<circle cx="145.3" cy="92.6" r="1.85" fill="#98d83e"/>
<circle cx="131.6" cy="94.7" r="1.85" fill="#95d840"/>
<circle cx="134.1" cy="94.7" r="1.85" fill="#a0da39"/>
<circle cx="136.6" cy="94.7" r="1.85" fill="#9bd93c"/>
<circle cx="139.1" cy="94.7" r="1.85" fill="#9dd93b"/>
<circle cx="141.6" cy="94.7" r="1.85" fill="#95d840"/>
<circle cx="144.1" cy="94.7" r="1.85" fill="#95d840"/>
<circle cx="135.3" cy="96.9" r="1.85" fill="#9dd93b"/>
<circle cx="137.8" cy="96.9" r="1.85" fill="#9bd93c"/>
<circle cx="140.3" cy="96.9" r="1.85" fill="#a0da39"/>
<circle cx="130.3" cy="91.4" r="1.85" fill="#a0da39"/>
<circle cx="130.8" cy="95.1" r="1.85" fill="#9dd93b"/>
<circle cx="133.7" cy="97.3" r="1.85" fill="#9dd93b"/>
<circle cx="135.7" cy="97.7" r="1.85" fill="#a0da39"/>
<circle cx="137.8" cy="98.1" r="1.85" fill="#98d83e"/>
<circle cx="139.9" cy="97.1" r="1.85" fill="#98d83e"/>
<circle cx="142.0" cy="96.1" r="1.85" fill="#9bd93c"/>
<circle cx="144.1" cy="95.1" r="1.85" fill="#95d840"/>
<circle cx="146.6" cy="93.1" r="1.85" fill="#95d840"/>
<circle cx="149.1" cy="91.1" r="1.85" fill="#9dd93b"/>
<circle cx="149.8" cy="88.5" r="1.85" fill="#9dd93b"/>
<circle cx="149.8" cy="88.2" r="1.85" fill="#9bd93c"/>
<circle cx="148.4" cy="88.5" r="1.85" fill="#98d83e"/>
<circle cx="145.4" cy="89.4" r="1.85" fill="#95d840"/>
<circle cx="142.5" cy="90.3" r="1.85" fill="#9dd93b"/>
<circle cx="142.3" cy="90.4" r="1.85" fill="#a0da39"/>
<circle cx="142.1" cy="90.4" r="1.85" fill="#95d840"/>
<circle cx="139.8" cy="90.6" r="1.85" fill="#a0da39"/>
<circle cx="137.5" cy="90.7" r="1.85" fill="#95d840"/>
<circle cx="135.1" cy="90.9" r="1.85" fill="#95d840"/>
<circle cx="132.7" cy="91.2" r="1.85" fill="#98d83e"/>
<circle cx="130.3" cy="91.4" r="1.85" fill="#a0da39"/>
<circle cx="163.0" cy="75.0" r="1.85" fill="#9bd93c"/>
<circle cx="167.0" cy="75.5" r="1.85" fill="#98d83e"/>
<circle cx="169.1" cy="76.0" r="1.85" fill="#98d83e"/>
<circle cx="171.2" cy="76.4" r="1.85" fill="#9dd93b"/>
<circle cx="173.7" cy="76.7" r="1.85" fill="#9bd93c"/>
<circle cx="176.2" cy="76.9" r="1.85" fill="#95d840"/>
<circle cx="179.2" cy="76.9" r="1.85" fill="#9dd93b"/>
<circle cx="182.3" cy="75.5" r="1.85" fill="#9dd93b"/>
<circle cx="183.5" cy="74.3" r="1.85" fill="#a0da39"/>
<circle cx="151.0" cy="77.1" r="1.85" fill="#a0da39"/>
<circle cx="153.0" cy="80.6" r="1.85" fill="#9bd93c"/>
<circle cx="153.5" cy="83.1" r="1.85" fill="#95d840"/>
<circle cx="152.0" cy="85.5" r="1.85" fill="#9bd93c"/>
<circle cx="150.5" cy="88.5" r="1.85" fill="#a0da39"/>
<circle cx="175.1" cy="53.0" r="1.85" fill="#98d83e"/>
<circle cx="176.1" cy="56.1" r="1.85" fill="#9bd93c"/>
<circle cx="180.2" cy="56.3" r="1.85" fill="#98d83e"/>
<circle cx="183.0" cy="55.8" r="1.85" fill="#98d83e"/>
<circle cx="181.2" cy="51.5" r="1.85" fill="#8ed645"/>
<circle cx="183.7" cy="51.4" r="1.85" fill="#90d743"/>
<circle cx="186.2" cy="51.2" r="1.85" fill="#8ed645"/>
<circle cx="128.8" cy="54.3" r="1.85" fill="#95d840"/>
<circle cx="153.1" cy="64.5" r="1.85" fill="#9dd93b"/>
<circle cx="132.2" cy="71.2" r="1.85" fill="#a0da39"/>
<circle cx="139.0" cy="71.2" r="1.85" fill="#95d840"/>
<circle cx="153.1" cy="50.9" r="1.85" fill="#9dd93b"/>
<circle cx="139.0" cy="50.4" r="1.85" fill="#98d83e"/>
<circle cx="151.3" cy="76.3" r="1.85" fill="#9bd93c"/>
<circle cx="135.2" cy="82.1" r="1.85" fill="#9bd93c"/>
<circle cx="145.8" cy="78.5" r="1.85" fill="#98d83e"/>
<circle cx="145.8" cy="85.6" r="1.85" fill="#98d83e"/>
<circle cx="146.8" cy="46.7" r="1.85" fill="#98d83e"/>
<circle cx="150.3" cy="46.2" r="1.85" fill="#95d840"/>
<circle cx="183.7" cy="63.1" r="1.85" fill="#a0da39"/>
<circle cx="187.2" cy="66.5" r="1.85" fill="#98d83e"/>
<circle cx="186.7" cy="68.2" r="1.85" fill="#98d83e"/>
<circle cx="182.7" cy="57.8" r="1.85" fill="#9dd93b"/>
</g>
<g transform="translate(212.50,0)">
<text transform="translate(171.2,91.9) rotate(-10.4)" font-size="9.5" fill="#111" textLength="18.5" lengthAdjust="spacingAndGlyphs">LOS</text>
<text transform="translate(164,102.4) rotate(-11.7)" font-size="9.5" fill="#111" textLength="35.7" lengthAdjust="spacingAndGlyphs">direction</text>
<path d="M170.5 108.9 L195.8 104.2" stroke="#000" stroke-width="3.2" fill="none"/>
<path d="M188.6 100.9 L196.4 103.9 L190.2 109.8" stroke="#000" stroke-width="3.0" fill="none" stroke-linejoin="miter"/>
</g>
</g>
<rect x="279.40" y="27.50" width="141.50" height="88.00" fill="none" stroke="#262626" stroke-width="1"/>
<g stroke="#262626" stroke-width="0.9">
<line x1="308.50" y1="115.50" x2="308.50" y2="118.80"/>
<line x1="347.50" y1="115.50" x2="347.50" y2="118.80"/>
<line x1="387.50" y1="115.50" x2="387.50" y2="118.80"/>
</g>
<text x="308.05" y="129.60" font-size="10.70" fill="#111" text-anchor="middle" textLength="41.3" lengthAdjust="spacingAndGlyphs" >136.8°E</text>
<text x="347.35" y="129.60" font-size="10.70" fill="#111" text-anchor="middle" textLength="31.0" lengthAdjust="spacingAndGlyphs" >137°E</text>
<text x="387.40" y="129.60" font-size="10.70" fill="#111" text-anchor="middle" textLength="41.3" lengthAdjust="spacingAndGlyphs" >137.2°E</text>
<rect x="429.60" y="22.40" width="4.8" height="1.300" fill="#fbe723"/>
<rect x="429.60" y="23.40" width="4.8" height="1.300" fill="#f6e620"/>
<rect x="429.60" y="24.40" width="4.8" height="1.300" fill="#efe51c"/>
<rect x="429.60" y="25.40" width="4.8" height="1.300" fill="#e7e419"/>
<rect x="429.60" y="26.40" width="4.8" height="1.300" fill="#e2e418"/>
<rect x="429.60" y="27.40" width="4.8" height="1.300" fill="#dae319"/>
<rect x="429.60" y="28.40" width="4.8" height="1.300" fill="#d5e21a"/>
<rect x="429.60" y="29.40" width="4.8" height="1.300" fill="#cde11d"/>
<rect x="429.60" y="30.40" width="4.8" height="1.300" fill="#c5e021"/>
<rect x="429.60" y="31.40" width="4.8" height="1.300" fill="#c0df25"/>
<rect x="429.60" y="32.40" width="4.8" height="1.300" fill="#b8de29"/>
<rect x="429.60" y="33.40" width="4.8" height="1.300" fill="#b0dd2f"/>
<rect x="429.60" y="34.40" width="4.8" height="1.300" fill="#aadc32"/>
<rect x="429.60" y="35.40" width="4.8" height="1.300" fill="#a2da37"/>
<rect x="429.60" y="36.40" width="4.8" height="1.300" fill="#9dd93b"/>
<rect x="429.60" y="37.40" width="4.8" height="1.300" fill="#95d840"/>
<rect x="429.60" y="38.40" width="4.8" height="1.300" fill="#8ed645"/>
<rect x="429.60" y="39.40" width="4.8" height="1.300" fill="#89d548"/>
<rect x="429.60" y="40.40" width="4.8" height="1.300" fill="#81d34d"/>
<rect x="429.60" y="41.40" width="4.8" height="1.300" fill="#7cd250"/>
<rect x="429.60" y="42.40" width="4.8" height="1.300" fill="#75d054"/>
<rect x="429.60" y="43.40" width="4.8" height="1.300" fill="#6ece58"/>
<rect x="429.60" y="44.40" width="4.8" height="1.300" fill="#69cd5b"/>
<rect x="429.60" y="45.40" width="4.8" height="1.300" fill="#63cb5f"/>
<rect x="429.60" y="46.40" width="4.8" height="1.300" fill="#5ec962"/>
<rect x="429.60" y="47.40" width="4.8" height="1.300" fill="#58c765"/>
<rect x="429.60" y="48.40" width="4.8" height="1.300" fill="#52c569"/>
<rect x="429.60" y="49.40" width="4.8" height="1.300" fill="#4ec36b"/>
<rect x="429.60" y="50.40" width="4.8" height="1.300" fill="#48c16e"/>
<rect x="429.60" y="51.40" width="4.8" height="1.300" fill="#42be71"/>
<rect x="429.60" y="52.40" width="4.8" height="1.300" fill="#3fbc73"/>
<rect x="429.60" y="53.40" width="4.8" height="1.300" fill="#3aba76"/>
<rect x="429.60" y="54.40" width="4.8" height="1.300" fill="#37b878"/>
<rect x="429.60" y="55.40" width="4.8" height="1.300" fill="#32b67a"/>
<rect x="429.60" y="56.40" width="4.8" height="1.300" fill="#2eb37c"/>
<rect x="429.60" y="57.40" width="4.8" height="1.300" fill="#2cb17e"/>
<rect x="429.60" y="58.40" width="4.8" height="1.300" fill="#28ae80"/>
<rect x="429.60" y="59.40" width="4.8" height="1.300" fill="#26ad81"/>
<rect x="429.60" y="60.40" width="4.8" height="1.300" fill="#24aa83"/>
<rect x="429.60" y="61.40" width="4.8" height="1.300" fill="#22a785"/>
<rect x="429.60" y="62.40" width="4.8" height="1.300" fill="#21a585"/>
<rect x="429.60" y="63.40" width="4.8" height="1.300" fill="#1fa287"/>
<rect x="429.60" y="64.40" width="4.8" height="1.300" fill="#1fa088"/>
<rect x="429.60" y="65.40" width="4.8" height="1.300" fill="#1f9e89"/>
<rect x="429.60" y="66.40" width="4.8" height="1.300" fill="#1e9b8a"/>
<rect x="429.60" y="67.40" width="4.8" height="1.300" fill="#1f998a"/>
<rect x="429.60" y="68.40" width="4.8" height="1.300" fill="#1f968b"/>
<rect x="429.60" y="69.40" width="4.8" height="1.300" fill="#20938c"/>
<rect x="429.60" y="70.40" width="4.8" height="1.300" fill="#20928c"/>
<rect x="429.60" y="71.40" width="4.8" height="1.300" fill="#218f8d"/>
<rect x="429.60" y="72.40" width="4.8" height="1.300" fill="#228d8d"/>
<rect x="429.60" y="73.40" width="4.8" height="1.300" fill="#238a8d"/>
<rect x="429.60" y="74.40" width="4.8" height="1.300" fill="#24878e"/>
<rect x="429.60" y="75.40" width="4.8" height="1.300" fill="#25858e"/>
<rect x="429.60" y="76.40" width="4.8" height="1.300" fill="#26828e"/>
<rect x="429.60" y="77.40" width="4.8" height="1.300" fill="#26818e"/>
<rect x="429.60" y="78.40" width="4.8" height="1.300" fill="#277e8e"/>
<rect x="429.60" y="79.40" width="4.8" height="1.300" fill="#297b8e"/>
<rect x="429.60" y="80.40" width="4.8" height="1.300" fill="#29798e"/>
<rect x="429.60" y="81.40" width="4.8" height="1.300" fill="#2a768e"/>
<rect x="429.60" y="82.40" width="4.8" height="1.300" fill="#2c738e"/>
<rect x="429.60" y="83.40" width="4.8" height="1.300" fill="#2c718e"/>
<rect x="429.60" y="84.40" width="4.8" height="1.300" fill="#2e6f8e"/>
<rect x="429.60" y="85.40" width="4.8" height="1.300" fill="#2e6d8e"/>
<rect x="429.60" y="86.40" width="4.8" height="1.300" fill="#306a8e"/>
<rect x="429.60" y="87.40" width="4.8" height="1.300" fill="#31678e"/>
<rect x="429.60" y="88.40" width="4.8" height="1.300" fill="#32658e"/>
<rect x="429.60" y="89.40" width="4.8" height="1.300" fill="#33628d"/>
<rect x="429.60" y="90.40" width="4.8" height="1.300" fill="#34608d"/>
<rect x="429.60" y="91.40" width="4.8" height="1.300" fill="#365d8d"/>
<rect x="429.60" y="92.40" width="4.8" height="1.300" fill="#375a8c"/>
<rect x="429.60" y="93.40" width="4.8" height="1.300" fill="#38588c"/>
<rect x="429.60" y="94.40" width="4.8" height="1.300" fill="#3a548c"/>
<rect x="429.60" y="95.40" width="4.8" height="1.300" fill="#3b528b"/>
<rect x="429.60" y="96.40" width="4.8" height="1.300" fill="#3c4f8a"/>
<rect x="429.60" y="97.40" width="4.8" height="1.300" fill="#3e4c8a"/>
<rect x="429.60" y="98.40" width="4.8" height="1.300" fill="#3e4989"/>
<rect x="429.60" y="99.40" width="4.8" height="1.300" fill="#404688"/>
<rect x="429.60" y="100.40" width="4.8" height="1.300" fill="#414287"/>
<rect x="429.60" y="101.40" width="4.8" height="1.300" fill="#424086"/>
<rect x="429.60" y="102.40" width="4.8" height="1.300" fill="#433d84"/>
<rect x="429.60" y="103.40" width="4.8" height="1.300" fill="#443a83"/>
<rect x="429.60" y="104.40" width="4.8" height="1.300" fill="#453781"/>
<rect x="429.60" y="105.40" width="4.8" height="1.300" fill="#46337f"/>
<rect x="429.60" y="106.40" width="4.8" height="1.300" fill="#46307e"/>
<rect x="429.60" y="107.40" width="4.8" height="1.300" fill="#472d7b"/>
<rect x="429.60" y="108.40" width="4.8" height="1.300" fill="#472a7a"/>
<rect x="429.60" y="109.40" width="4.8" height="1.300" fill="#482677"/>
<rect x="429.60" y="110.40" width="4.8" height="1.300" fill="#482374"/>
<rect x="429.60" y="111.40" width="4.8" height="1.300" fill="#482071"/>
<rect x="429.60" y="112.40" width="4.8" height="1.300" fill="#481c6e"/>
<rect x="429.60" y="113.40" width="4.8" height="1.300" fill="#48186a"/>
<rect x="429.60" y="114.40" width="4.8" height="1.300" fill="#481668"/>
<rect x="429.60" y="115.40" width="4.8" height="1.300" fill="#471164"/>
<rect x="429.60" y="116.40" width="4.8" height="1.300" fill="#470e61"/>
<rect x="429.60" y="117.40" width="4.8" height="1.300" fill="#460a5d"/>
<rect x="429.60" y="118.40" width="4.8" height="1.300" fill="#450559"/>
<rect x="429.60" y="119.40" width="4.8" height="1.300" fill="#440256"/>
<rect x="429.60" y="22.40" width="4.8" height="98.00" fill="none" stroke="#262626" stroke-width="0.9"/>
<g stroke="#262626" stroke-width="0.9">
<line x1="434.40" y1="38.73" x2="437.40" y2="38.73"/>
<line x1="434.40" y1="71.40" x2="437.40" y2="71.40"/>
<line x1="434.40" y1="104.07" x2="437.40" y2="104.07"/>
</g>
<text x="441.00" y="42.03" font-size="9.20" fill="#111" text-anchor="start" textLength="5.1" lengthAdjust="spacingAndGlyphs" >0</text>
<text x="441.00" y="74.70" font-size="9.20" fill="#111" text-anchor="start" textLength="18.2" lengthAdjust="spacingAndGlyphs" >−10</text>
<text x="441.00" y="107.37" font-size="9.20" fill="#111" text-anchor="start" textLength="18.2" lengthAdjust="spacingAndGlyphs" >−20</text>
<text transform="translate(469.90,109.60) rotate(-90)" font-size="8.8" fill="#111" textLength="17.6" lengthAdjust="spacingAndGlyphs">LOS</text>
<text transform="translate(469.90,89.30) rotate(-90)" font-size="8.8" fill="#111" textLength="32.4" lengthAdjust="spacingAndGlyphs">change</text>
<text transform="translate(469.90,54.10) rotate(-90)" font-size="8.8" fill="#111" textLength="20.4" lengthAdjust="spacingAndGlyphs">(cm)</text>
<clipPath id="c02"><rect x="491.80" y="27.50" width="141.80" height="88.00"/></clipPath>
<g stroke="#a8a8a8" stroke-width="1" fill="none">
<line x1="521.10" y1="27.50" x2="521.10" y2="115.50"/>
<line x1="560.65" y1="27.50" x2="560.65" y2="115.50"/>
<line x1="600.20" y1="27.50" x2="600.20" y2="115.50"/>
<line x1="491.80" y1="57.00" x2="633.60" y2="57.00"/>
<line x1="491.80" y1="96.00" x2="633.60" y2="96.00"/>
</g>
<g clip-path="url(#c02)">
<g transform="translate(521.100,0) scale(1.00253,1) translate(-96.0,0)">
<use href="#coast"/>
<circle cx="183.5" cy="33.3" r="1.85" fill="#a0da39"/>
<circle cx="186.0" cy="33.3" r="1.85" fill="#a0da39"/>
<circle cx="188.5" cy="33.3" r="1.85" fill="#c2df23"/>
<circle cx="191.0" cy="33.3" r="1.85" fill="#c0df25"/>
<circle cx="193.5" cy="33.3" r="1.85" fill="#addc30"/>
<circle cx="196.0" cy="33.3" r="1.85" fill="#b2dd2d"/>
<circle cx="198.5" cy="33.3" r="1.85" fill="#bade28"/>
<circle cx="177.2" cy="35.4" r="1.85" fill="#b8de29"/>
<circle cx="179.7" cy="35.4" r="1.85" fill="#b5de2b"/>
<circle cx="182.2" cy="35.4" r="1.85" fill="#addc30"/>
<circle cx="184.7" cy="35.4" r="1.85" fill="#b2dd2d"/>
<circle cx="187.2" cy="35.4" r="1.85" fill="#b2dd2d"/>
<circle cx="189.7" cy="35.4" r="1.85" fill="#b8de29"/>
<circle cx="192.2" cy="35.4" r="1.85" fill="#b0dd2f"/>
<circle cx="194.7" cy="35.4" r="1.85" fill="#d0e11c"/>
<circle cx="197.2" cy="35.4" r="1.85" fill="#c0df25"/>
<circle cx="199.7" cy="35.4" r="1.85" fill="#a5db36"/>
<circle cx="202.2" cy="35.4" r="1.85" fill="#addc30"/>
<circle cx="171.0" cy="37.6" r="1.85" fill="#addc30"/>
<circle cx="173.5" cy="37.6" r="1.85" fill="#b8de29"/>
<circle cx="176.0" cy="37.6" r="1.85" fill="#b8de29"/>
<circle cx="178.5" cy="37.6" r="1.85" fill="#b8de29"/>
<circle cx="181.0" cy="37.6" r="1.85" fill="#aadc32"/>
<circle cx="183.5" cy="37.6" r="1.85" fill="#c2df23"/>
<circle cx="186.0" cy="37.6" r="1.85" fill="#a5db36"/>
<circle cx="188.5" cy="37.6" r="1.85" fill="#d0e11c"/>
<circle cx="191.0" cy="37.6" r="1.85" fill="#cde11d"/>
<circle cx="193.5" cy="37.6" r="1.85" fill="#c5e021"/>
<circle cx="196.0" cy="37.6" r="1.85" fill="#e5e419"/>
<circle cx="198.5" cy="37.6" r="1.85" fill="#b0dd2f"/>
<circle cx="201.0" cy="37.6" r="1.85" fill="#addc30"/>
<circle cx="203.5" cy="37.6" r="1.85" fill="#b5de2b"/>
<circle cx="162.2" cy="39.8" r="1.85" fill="#aadc32"/>
<circle cx="164.7" cy="39.8" r="1.85" fill="#a8db34"/>
<circle cx="167.2" cy="39.8" r="1.85" fill="#b5de2b"/>
<circle cx="169.7" cy="39.8" r="1.85" fill="#bade28"/>
<circle cx="172.2" cy="39.8" r="1.85" fill="#b8de29"/>
<circle cx="174.7" cy="39.8" r="1.85" fill="#b8de29"/>
<circle cx="177.2" cy="39.8" r="1.85" fill="#aadc32"/>
<circle cx="179.7" cy="39.8" r="1.85" fill="#b2dd2d"/>
<circle cx="182.2" cy="39.8" r="1.85" fill="#aadc32"/>
<circle cx="184.7" cy="39.8" r="1.85" fill="#bade28"/>
<circle cx="187.2" cy="39.8" r="1.85" fill="#c5e021"/>
<circle cx="189.7" cy="39.8" r="1.85" fill="#c0df25"/>
<circle cx="192.2" cy="39.8" r="1.85" fill="#c5e021"/>
<circle cx="194.7" cy="39.8" r="1.85" fill="#d5e21a"/>
<circle cx="197.2" cy="39.8" r="1.85" fill="#c2df23"/>
<circle cx="199.7" cy="39.8" r="1.85" fill="#a5db36"/>
<circle cx="202.2" cy="39.8" r="1.85" fill="#a2da37"/>
<circle cx="156.0" cy="41.9" r="1.85" fill="#b2dd2d"/>
<circle cx="158.5" cy="41.9" r="1.85" fill="#b5de2b"/>
<circle cx="161.0" cy="41.9" r="1.85" fill="#9dd93b"/>
<circle cx="163.5" cy="41.9" r="1.85" fill="#89d548"/>
<circle cx="166.0" cy="41.9" r="1.85" fill="#90d743"/>
<circle cx="168.5" cy="41.9" r="1.85" fill="#89d548"/>
<circle cx="171.0" cy="41.9" r="1.85" fill="#9bd93c"/>
<circle cx="173.5" cy="41.9" r="1.85" fill="#b0dd2f"/>
<circle cx="176.0" cy="41.9" r="1.85" fill="#a0da39"/>
<circle cx="178.5" cy="41.9" r="1.85" fill="#b0dd2f"/>
<circle cx="181.0" cy="41.9" r="1.85" fill="#b5de2b"/>
<circle cx="183.5" cy="41.9" r="1.85" fill="#a5db36"/>
<circle cx="186.0" cy="41.9" r="1.85" fill="#a5db36"/>
<circle cx="188.5" cy="41.9" r="1.85" fill="#b0dd2f"/>
<circle cx="191.0" cy="41.9" r="1.85" fill="#aadc32"/>
<circle cx="193.5" cy="41.9" r="1.85" fill="#b2dd2d"/>
<circle cx="196.0" cy="41.9" r="1.85" fill="#c2df23"/>
<circle cx="198.5" cy="41.9" r="1.85" fill="#b2dd2d"/>
<circle cx="201.0" cy="41.9" r="1.85" fill="#bade28"/>
<circle cx="203.5" cy="41.9" r="1.85" fill="#aadc32"/>
<circle cx="154.7" cy="44.1" r="1.85" fill="#aadc32"/>
<circle cx="157.2" cy="44.1" r="1.85" fill="#b2dd2d"/>
<circle cx="159.7" cy="44.1" r="1.85" fill="#9dd93b"/>
<circle cx="162.2" cy="44.1" r="1.85" fill="#89d548"/>
<circle cx="164.7" cy="44.1" r="1.85" fill="#77d153"/>
<circle cx="167.2" cy="44.1" r="1.85" fill="#84d44b"/>
<circle cx="169.7" cy="44.1" r="1.85" fill="#8ed645"/>
<circle cx="172.2" cy="44.1" r="1.85" fill="#a2da37"/>
<circle cx="174.7" cy="44.1" r="1.85" fill="#b0dd2f"/>
<circle cx="177.2" cy="44.1" r="1.85" fill="#a5db36"/>
<circle cx="179.7" cy="44.1" r="1.85" fill="#a2da37"/>
<circle cx="182.2" cy="44.1" r="1.85" fill="#b8de29"/>
<circle cx="184.7" cy="44.1" r="1.85" fill="#b2dd2d"/>
<circle cx="187.2" cy="44.1" r="1.85" fill="#b0dd2f"/>
<circle cx="189.7" cy="44.1" r="1.85" fill="#b2dd2d"/>
<circle cx="192.2" cy="44.1" r="1.85" fill="#b5de2b"/>
<circle cx="194.7" cy="44.1" r="1.85" fill="#bade28"/>
<circle cx="199.7" cy="44.1" r="1.85" fill="#bddf26"/>
<circle cx="163.5" cy="46.3" r="1.85" fill="#9bd93c"/>
<circle cx="166.0" cy="46.3" r="1.85" fill="#a2da37"/>
<circle cx="168.5" cy="46.3" r="1.85" fill="#a2da37"/>
<circle cx="171.0" cy="46.3" r="1.85" fill="#aadc32"/>
<circle cx="173.5" cy="46.3" r="1.85" fill="#bade28"/>
<circle cx="176.0" cy="46.3" r="1.85" fill="#aadc32"/>
<circle cx="178.5" cy="46.3" r="1.85" fill="#b2dd2d"/>
<circle cx="181.0" cy="46.3" r="1.85" fill="#b2dd2d"/>
<circle cx="183.5" cy="46.3" r="1.85" fill="#b0dd2f"/>
<circle cx="186.0" cy="46.3" r="1.85" fill="#b2dd2d"/>
<circle cx="188.5" cy="46.3" r="1.85" fill="#b2dd2d"/>
<circle cx="191.0" cy="46.3" r="1.85" fill="#bddf26"/>
<circle cx="193.5" cy="46.3" r="1.85" fill="#bddf26"/>
<circle cx="164.7" cy="48.4" r="1.85" fill="#a5db36"/>
<circle cx="167.2" cy="48.4" r="1.85" fill="#bade28"/>
<circle cx="169.7" cy="48.4" r="1.85" fill="#c5e021"/>
<circle cx="172.2" cy="48.4" r="1.85" fill="#bddf26"/>
<circle cx="174.7" cy="48.4" r="1.85" fill="#bddf26"/>
<circle cx="184.7" cy="48.4" r="1.85" fill="#aadc32"/>
<circle cx="187.2" cy="48.4" r="1.85" fill="#bade28"/>
<circle cx="189.7" cy="48.4" r="1.85" fill="#addc30"/>
<circle cx="166.0" cy="50.6" r="1.85" fill="#b2dd2d"/>
<circle cx="168.5" cy="50.6" r="1.85" fill="#c2df23"/>
<circle cx="171.0" cy="50.6" r="1.85" fill="#c0df25"/>
<circle cx="173.5" cy="50.6" r="1.85" fill="#c8e020"/>
<circle cx="164.7" cy="52.8" r="1.85" fill="#b0dd2f"/>
<circle cx="167.2" cy="52.8" r="1.85" fill="#b0dd2f"/>
<circle cx="169.7" cy="52.8" r="1.85" fill="#c5e021"/>
<circle cx="172.2" cy="52.8" r="1.85" fill="#cae11f"/>
<circle cx="166.0" cy="54.9" r="1.85" fill="#98d83e"/>
<circle cx="168.5" cy="54.9" r="1.85" fill="#c8e020"/>
<circle cx="171.0" cy="54.9" r="1.85" fill="#cae11f"/>
<circle cx="167.2" cy="57.1" r="1.85" fill="#b2dd2d"/>
<circle cx="169.7" cy="57.1" r="1.85" fill="#c5e021"/>
<circle cx="152.2" cy="43.8" r="1.85" fill="#bddf26"/>
<circle cx="152.2" cy="43.9" r="1.85" fill="#bddf26"/>
<circle cx="152.6" cy="44.2" r="1.85" fill="#c2df23"/>
<circle cx="156.1" cy="44.4" r="1.85" fill="#addc30"/>
<circle cx="156.2" cy="44.4" r="1.85" fill="#a5db36"/>
<circle cx="156.4" cy="44.4" r="1.85" fill="#b8de29"/>
<circle cx="156.5" cy="44.5" r="1.85" fill="#b8de29"/>
<circle cx="158.8" cy="45.2" r="1.85" fill="#a8db34"/>
<circle cx="161.0" cy="46.0" r="1.85" fill="#a5db36"/>
<circle cx="161.2" cy="46.0" r="1.85" fill="#b8de29"/>
<circle cx="161.3" cy="46.1" r="1.85" fill="#a8db34"/>
<circle cx="161.4" cy="46.2" r="1.85" fill="#b2dd2d"/>
<circle cx="161.6" cy="46.3" r="1.85" fill="#a0da39"/>
<circle cx="161.7" cy="46.4" r="1.85" fill="#a2da37"/>
<circle cx="161.8" cy="46.6" r="1.85" fill="#bade28"/>
<circle cx="161.9" cy="46.7" r="1.85" fill="#b8de29"/>
<circle cx="162.0" cy="46.9" r="1.85" fill="#aadc32"/>
<circle cx="163.0" cy="49.1" r="1.85" fill="#bddf26"/>
<circle cx="164.0" cy="51.4" r="1.85" fill="#a8db34"/>
<circle cx="164.0" cy="51.5" r="1.85" fill="#a2da37"/>
<circle cx="164.7" cy="53.7" r="1.85" fill="#addc30"/>
<circle cx="165.5" cy="55.8" r="1.85" fill="#95d840"/>
<circle cx="166.9" cy="58.2" r="1.85" fill="#b0dd2f"/>
<circle cx="170.0" cy="58.4" r="1.85" fill="#bade28"/>
<circle cx="173.1" cy="56.1" r="1.85" fill="#b8de29"/>
<circle cx="173.5" cy="54.1" r="1.85" fill="#c8e020"/>
<circle cx="173.9" cy="52.2" r="1.85" fill="#c5e021"/>
<circle cx="174.0" cy="52.0" r="1.85" fill="#d0e11c"/>
<circle cx="174.0" cy="51.9" r="1.85" fill="#cde11d"/>
<circle cx="174.1" cy="51.7" r="1.85" fill="#cae11f"/>
<circle cx="174.2" cy="51.6" r="1.85" fill="#bade28"/>
<circle cx="174.3" cy="51.5" r="1.85" fill="#c0df25"/>
<circle cx="184.6" cy="49.6" r="1.85" fill="#b0dd2f"/>
<circle cx="184.7" cy="49.6" r="1.85" fill="#b5de2b"/>
<circle cx="187.2" cy="49.2" r="1.85" fill="#addc30"/>
<circle cx="189.7" cy="48.7" r="1.85" fill="#b0dd2f"/>
<circle cx="191.8" cy="48.2" r="1.85" fill="#b2dd2d"/>
<circle cx="193.9" cy="47.7" r="1.85" fill="#b5de2b"/>
<circle cx="199.7" cy="44.6" r="1.85" fill="#b8de29"/>
<circle cx="201.6" cy="44.2" r="1.85" fill="#bade28"/>
<circle cx="203.5" cy="43.8" r="1.85" fill="#cae11f"/>
<circle cx="204.6" cy="42.9" r="1.85" fill="#b0dd2f"/>
<circle cx="204.7" cy="40.4" r="1.85" fill="#b5de2b"/>
<circle cx="204.8" cy="37.8" r="1.85" fill="#bddf26"/>
<circle cx="203.7" cy="35.5" r="1.85" fill="#c2df23"/>
<circle cx="201.2" cy="33.6" r="1.85" fill="#a5db36"/>
<circle cx="199.4" cy="32.9" r="1.85" fill="#b0dd2f"/>
<circle cx="197.5" cy="32.1" r="1.85" fill="#b8de29"/>
<circle cx="193.8" cy="31.4" r="1.85" fill="#b2dd2d"/>
<circle cx="191.2" cy="31.3" r="1.85" fill="#bade28"/>
<circle cx="188.5" cy="31.1" r="1.85" fill="#c2df23"/>
<circle cx="186.0" cy="31.9" r="1.85" fill="#addc30"/>
<circle cx="183.5" cy="32.7" r="1.85" fill="#a5db36"/>
<circle cx="181.5" cy="33.4" r="1.85" fill="#b8de29"/>
<circle cx="179.6" cy="34.0" r="1.85" fill="#a0da39"/>
<circle cx="177.6" cy="34.9" r="1.85" fill="#addc30"/>
<circle cx="175.7" cy="35.8" r="1.85" fill="#b5de2b"/>
<circle cx="175.5" cy="35.8" r="1.85" fill="#bddf26"/>
<circle cx="173.5" cy="36.4" r="1.85" fill="#addc30"/>
<circle cx="171.5" cy="37.0" r="1.85" fill="#a8db34"/>
<circle cx="171.4" cy="37.1" r="1.85" fill="#b8de29"/>
<circle cx="168.4" cy="37.8" r="1.85" fill="#bade28"/>
<circle cx="165.4" cy="38.5" r="1.85" fill="#aadc32"/>
<circle cx="163.0" cy="39.3" r="1.85" fill="#b5de2b"/>
<circle cx="160.5" cy="40.0" r="1.85" fill="#addc30"/>
<circle cx="158.1" cy="41.0" r="1.85" fill="#a5db36"/>
<circle cx="155.7" cy="41.9" r="1.85" fill="#aadc32"/>
<circle cx="154.0" cy="42.9" r="1.85" fill="#bddf26"/>
<circle cx="152.2" cy="43.8" r="1.85" fill="#bddf26"/>
<circle cx="127.1" cy="61.1" r="1.85" fill="#bddf26"/>
<circle cx="129.6" cy="61.1" r="1.85" fill="#9bd93c"/>
<circle cx="130.8" cy="63.2" r="1.85" fill="#bddf26"/>
<circle cx="133.3" cy="63.2" r="1.85" fill="#a0da39"/>
<circle cx="135.8" cy="63.2" r="1.85" fill="#a8db34"/>
<circle cx="132.1" cy="65.4" r="1.85" fill="#bade28"/>
<circle cx="134.6" cy="65.4" r="1.85" fill="#a5db36"/>
<circle cx="125.8" cy="60.5" r="1.85" fill="#d0e11c"/>
<circle cx="125.9" cy="61.0" r="1.85" fill="#c8e020"/>
<circle cx="127.4" cy="61.2" r="1.85" fill="#bade28"/>
<circle cx="127.5" cy="61.3" r="1.85" fill="#bade28"/>
<circle cx="127.7" cy="61.3" r="1.85" fill="#b8de29"/>
<circle cx="127.8" cy="61.4" r="1.85" fill="#bade28"/>
<circle cx="128.0" cy="61.5" r="1.85" fill="#bddf26"/>
<circle cx="128.1" cy="61.6" r="1.85" fill="#b0dd2f"/>
<circle cx="128.2" cy="61.7" r="1.85" fill="#aadc32"/>
<circle cx="128.3" cy="61.8" r="1.85" fill="#b0dd2f"/>
<circle cx="130.0" cy="63.9" r="1.85" fill="#c0df25"/>
<circle cx="130.1" cy="64.0" r="1.85" fill="#b5de2b"/>
<circle cx="130.2" cy="64.2" r="1.85" fill="#bddf26"/>
<circle cx="130.3" cy="64.3" r="1.85" fill="#cde11d"/>
<circle cx="130.3" cy="64.5" r="1.85" fill="#c2df23"/>
<circle cx="130.4" cy="64.6" r="1.85" fill="#cae11f"/>
<circle cx="130.6" cy="65.8" r="1.85" fill="#c8e020"/>
<circle cx="132.4" cy="66.3" r="1.85" fill="#b5de2b"/>
<circle cx="136.2" cy="66.3" r="1.85" fill="#b5de2b"/>
<circle cx="136.8" cy="66.1" r="1.85" fill="#a2da37"/>
<circle cx="136.6" cy="65.2" r="1.85" fill="#a5db36"/>
<circle cx="136.6" cy="65.0" r="1.85" fill="#9dd93b"/>
<circle cx="136.6" cy="64.9" r="1.85" fill="#9dd93b"/>
<circle cx="136.6" cy="64.7" r="1.85" fill="#addc30"/>
<circle cx="136.6" cy="64.6" r="1.85" fill="#a8db34"/>
<circle cx="136.7" cy="64.4" r="1.85" fill="#a0da39"/>
<circle cx="136.7" cy="64.3" r="1.85" fill="#a5db36"/>
<circle cx="136.8" cy="64.1" r="1.85" fill="#b0dd2f"/>
<circle cx="136.9" cy="64.0" r="1.85" fill="#aadc32"/>
<circle cx="137.0" cy="63.8" r="1.85" fill="#9dd93b"/>
<circle cx="137.1" cy="63.7" r="1.85" fill="#a5db36"/>
<circle cx="137.2" cy="63.6" r="1.85" fill="#9bd93c"/>
<circle cx="137.4" cy="63.5" r="1.85" fill="#addc30"/>
<circle cx="138.7" cy="62.7" r="1.85" fill="#a8db34"/>
<circle cx="138.7" cy="62.6" r="1.85" fill="#9dd93b"/>
<circle cx="137.9" cy="62.3" r="1.85" fill="#a2da37"/>
<circle cx="134.8" cy="62.3" r="1.85" fill="#a8db34"/>
<circle cx="134.6" cy="62.3" r="1.85" fill="#a8db34"/>
<circle cx="134.5" cy="62.3" r="1.85" fill="#98d83e"/>
<circle cx="131.9" cy="61.8" r="1.85" fill="#9dd93b"/>
<circle cx="131.8" cy="61.7" r="1.85" fill="#addc30"/>
<circle cx="131.6" cy="61.7" r="1.85" fill="#b5de2b"/>
<circle cx="131.5" cy="61.6" r="1.85" fill="#b2dd2d"/>
<circle cx="131.3" cy="61.6" r="1.85" fill="#a8db34"/>
<circle cx="131.2" cy="61.5" r="1.85" fill="#addc30"/>
<circle cx="131.1" cy="61.4" r="1.85" fill="#a2da37"/>
<circle cx="131.0" cy="61.3" r="1.85" fill="#addc30"/>
<circle cx="130.9" cy="61.1" r="1.85" fill="#9dd93b"/>
<circle cx="130.8" cy="61.0" r="1.85" fill="#9bd93c"/>
<circle cx="130.8" cy="60.9" r="1.85" fill="#b0dd2f"/>
<circle cx="130.2" cy="59.7" r="1.85" fill="#a2da37"/>
<circle cx="128.6" cy="58.9" r="1.85" fill="#a8db34"/>
<circle cx="126.4" cy="59.5" r="1.85" fill="#b2dd2d"/>
<circle cx="125.8" cy="60.5" r="1.85" fill="#d0e11c"/>
<circle cx="143.2" cy="57.6" r="1.85" fill="#a8db34"/>
<circle cx="145.7" cy="57.6" r="1.85" fill="#a5db36"/>
<circle cx="144.4" cy="59.8" r="1.85" fill="#a8db34"/>
<circle cx="146.9" cy="59.8" r="1.85" fill="#b8de29"/>
<circle cx="143.2" cy="62.0" r="1.85" fill="#aadc32"/>
<circle cx="145.7" cy="62.0" r="1.85" fill="#a5db36"/>
<circle cx="141.9" cy="56.9" r="1.85" fill="#b2dd2d"/>
<circle cx="141.9" cy="59.3" r="1.85" fill="#98d83e"/>
<circle cx="142.3" cy="62.2" r="1.85" fill="#a8db34"/>
<circle cx="143.3" cy="63.7" r="1.85" fill="#b0dd2f"/>
<circle cx="146.1" cy="63.7" r="1.85" fill="#b2dd2d"/>
<circle cx="147.8" cy="62.0" r="1.85" fill="#b8de29"/>
<circle cx="147.9" cy="60.9" r="1.85" fill="#a5db36"/>
<circle cx="147.7" cy="57.3" r="1.85" fill="#b5de2b"/>
<circle cx="146.7" cy="55.8" r="1.85" fill="#addc30"/>
<circle cx="144.5" cy="55.5" r="1.85" fill="#a8db34"/>
<circle cx="141.9" cy="56.9" r="1.85" fill="#b2dd2d"/>
<circle cx="153.1" cy="57.6" r="1.85" fill="#addc30"/>
<circle cx="155.6" cy="57.6" r="1.85" fill="#b0dd2f"/>
<circle cx="151.9" cy="56.6" r="1.85" fill="#aadc32"/>
<circle cx="152.3" cy="58.8" r="1.85" fill="#a8db34"/>
<circle cx="154.5" cy="59.1" r="1.85" fill="#a2da37"/>
<circle cx="157.3" cy="59.1" r="1.85" fill="#a0da39"/>
<circle cx="157.6" cy="58.8" r="1.85" fill="#9bd93c"/>
<circle cx="157.3" cy="57.6" r="1.85" fill="#9dd93b"/>
<circle cx="155.4" cy="55.4" r="1.85" fill="#a8db34"/>
<circle cx="153.3" cy="55.4" r="1.85" fill="#bade28"/>
<circle cx="151.9" cy="56.6" r="1.85" fill="#aadc32"/>
<circle cx="144.1" cy="90.4" r="1.85" fill="#a5db36"/>
<circle cx="146.6" cy="90.4" r="1.85" fill="#b2dd2d"/>
<circle cx="149.1" cy="90.4" r="1.85" fill="#c5e021"/>
<circle cx="132.8" cy="92.6" r="1.85" fill="#b2dd2d"/>
<circle cx="135.3" cy="92.6" r="1.85" fill="#bddf26"/>
<circle cx="137.8" cy="92.6" r="1.85" fill="#aadc32"/>
<circle cx="140.3" cy="92.6" r="1.85" fill="#a5db36"/>
<circle cx="142.8" cy="92.6" r="1.85" fill="#b2dd2d"/>
<circle cx="145.3" cy="92.6" r="1.85" fill="#a2da37"/>
<circle cx="131.6" cy="94.7" r="1.85" fill="#b2dd2d"/>
<circle cx="134.1" cy="94.7" r="1.85" fill="#addc30"/>
<circle cx="136.6" cy="94.7" r="1.85" fill="#b2dd2d"/>
<circle cx="139.1" cy="94.7" r="1.85" fill="#aadc32"/>
<circle cx="141.6" cy="94.7" r="1.85" fill="#a8db34"/>
<circle cx="144.1" cy="94.7" r="1.85" fill="#a8db34"/>
<circle cx="135.3" cy="96.9" r="1.85" fill="#b8de29"/>
<circle cx="137.8" cy="96.9" r="1.85" fill="#aadc32"/>
<circle cx="140.3" cy="96.9" r="1.85" fill="#aadc32"/>
<circle cx="130.3" cy="91.4" r="1.85" fill="#b0dd2f"/>
<circle cx="130.8" cy="95.1" r="1.85" fill="#a5db36"/>
<circle cx="133.7" cy="97.3" r="1.85" fill="#aadc32"/>
<circle cx="135.7" cy="97.7" r="1.85" fill="#bade28"/>
<circle cx="137.8" cy="98.1" r="1.85" fill="#a5db36"/>
<circle cx="139.9" cy="97.1" r="1.85" fill="#9dd93b"/>
<circle cx="142.0" cy="96.1" r="1.85" fill="#addc30"/>
<circle cx="144.1" cy="95.1" r="1.85" fill="#b0dd2f"/>
<circle cx="146.6" cy="93.1" r="1.85" fill="#a5db36"/>
<circle cx="149.1" cy="91.1" r="1.85" fill="#cae11f"/>
<circle cx="149.8" cy="88.5" r="1.85" fill="#b5de2b"/>
<circle cx="149.8" cy="88.2" r="1.85" fill="#b5de2b"/>
<circle cx="148.4" cy="88.5" r="1.85" fill="#b0dd2f"/>
<circle cx="145.4" cy="89.4" r="1.85" fill="#9dd93b"/>
<circle cx="142.5" cy="90.3" r="1.85" fill="#a0da39"/>
<circle cx="142.3" cy="90.4" r="1.85" fill="#b2dd2d"/>
<circle cx="142.1" cy="90.4" r="1.85" fill="#a8db34"/>
<circle cx="139.8" cy="90.6" r="1.85" fill="#b8de29"/>
<circle cx="137.5" cy="90.7" r="1.85" fill="#a0da39"/>
<circle cx="135.1" cy="90.9" r="1.85" fill="#a5db36"/>
<circle cx="132.7" cy="91.2" r="1.85" fill="#a5db36"/>
<circle cx="130.3" cy="91.4" r="1.85" fill="#b0dd2f"/>
<circle cx="163.0" cy="75.0" r="1.85" fill="#bddf26"/>
<circle cx="167.0" cy="75.5" r="1.85" fill="#addc30"/>
<circle cx="169.1" cy="76.0" r="1.85" fill="#addc30"/>
<circle cx="171.2" cy="76.4" r="1.85" fill="#b5de2b"/>
<circle cx="173.7" cy="76.7" r="1.85" fill="#c0df25"/>
<circle cx="176.2" cy="76.9" r="1.85" fill="#c5e021"/>
<circle cx="179.2" cy="76.9" r="1.85" fill="#a0da39"/>
<circle cx="182.3" cy="75.5" r="1.85" fill="#9dd93b"/>
<circle cx="183.5" cy="74.3" r="1.85" fill="#aadc32"/>
<circle cx="151.0" cy="77.1" r="1.85" fill="#c8e020"/>
<circle cx="153.0" cy="80.6" r="1.85" fill="#a8db34"/>
<circle cx="153.5" cy="83.1" r="1.85" fill="#a5db36"/>
<circle cx="152.0" cy="85.5" r="1.85" fill="#a8db34"/>
<circle cx="150.5" cy="88.5" r="1.85" fill="#c2df23"/>
<circle cx="175.1" cy="53.0" r="1.85" fill="#bade28"/>
<circle cx="176.1" cy="56.1" r="1.85" fill="#c0df25"/>
<circle cx="180.2" cy="56.3" r="1.85" fill="#bade28"/>
<circle cx="183.0" cy="55.8" r="1.85" fill="#b0dd2f"/>
<circle cx="181.2" cy="51.5" r="1.85" fill="#b8de29"/>
<circle cx="183.7" cy="51.4" r="1.85" fill="#bade28"/>
<circle cx="186.2" cy="51.2" r="1.85" fill="#addc30"/>
<circle cx="128.8" cy="54.3" r="1.85" fill="#bddf26"/>
<circle cx="153.1" cy="64.5" r="1.85" fill="#b2dd2d"/>
<circle cx="132.2" cy="71.2" r="1.85" fill="#c5e021"/>
<circle cx="139.0" cy="71.2" r="1.85" fill="#b5de2b"/>
<circle cx="153.1" cy="50.9" r="1.85" fill="#c8e020"/>
<circle cx="139.0" cy="50.4" r="1.85" fill="#b2dd2d"/>
<circle cx="151.3" cy="76.3" r="1.85" fill="#b5de2b"/>
<circle cx="135.2" cy="82.1" r="1.85" fill="#c2df23"/>
<circle cx="145.8" cy="78.5" r="1.85" fill="#b5de2b"/>
<circle cx="145.8" cy="85.6" r="1.85" fill="#aadc32"/>
<circle cx="146.8" cy="46.7" r="1.85" fill="#b2dd2d"/>
<circle cx="150.3" cy="46.2" r="1.85" fill="#c5e021"/>
<circle cx="183.7" cy="63.1" r="1.85" fill="#b8de29"/>
<circle cx="187.2" cy="66.5" r="1.85" fill="#addc30"/>
<circle cx="186.7" cy="68.2" r="1.85" fill="#b8de29"/>
<circle cx="182.7" cy="57.8" r="1.85" fill="#c2df23"/>
</g>
<g transform="translate(425.30,0)">
<text transform="translate(171.2,91.9) rotate(-10.4)" font-size="9.5" fill="#111" textLength="18.5" lengthAdjust="spacingAndGlyphs">LOS</text>
<text transform="translate(164,102.4) rotate(-11.7)" font-size="9.5" fill="#111" textLength="35.7" lengthAdjust="spacingAndGlyphs">direction</text>
<path d="M170.5 108.9 L195.8 104.2" stroke="#000" stroke-width="3.2" fill="none"/>
<path d="M188.6 100.9 L196.4 103.9 L190.2 109.8" stroke="#000" stroke-width="3.0" fill="none" stroke-linejoin="miter"/>
</g>
</g>
<rect x="491.80" y="27.50" width="141.80" height="88.00" fill="none" stroke="#262626" stroke-width="1"/>
<g stroke="#262626" stroke-width="0.9">
<line x1="521.50" y1="115.50" x2="521.50" y2="118.80"/>
<line x1="560.50" y1="115.50" x2="560.50" y2="118.80"/>
<line x1="600.50" y1="115.50" x2="600.50" y2="118.80"/>
</g>
<text x="521.05" y="129.60" font-size="10.70" fill="#111" text-anchor="middle" textLength="41.3" lengthAdjust="spacingAndGlyphs" >136.8°E</text>
<text x="560.35" y="129.60" font-size="10.70" fill="#111" text-anchor="middle" textLength="31.0" lengthAdjust="spacingAndGlyphs" >137°E</text>
<text x="600.40" y="129.60" font-size="10.70" fill="#111" text-anchor="middle" textLength="41.3" lengthAdjust="spacingAndGlyphs" >137.2°E</text>
<rect x="642.50" y="22.40" width="4.8" height="1.300" fill="#fbe723"/>
<rect x="642.50" y="23.40" width="4.8" height="1.300" fill="#f6e620"/>
<rect x="642.50" y="24.40" width="4.8" height="1.300" fill="#efe51c"/>
<rect x="642.50" y="25.40" width="4.8" height="1.300" fill="#e7e419"/>
<rect x="642.50" y="26.40" width="4.8" height="1.300" fill="#e2e418"/>
<rect x="642.50" y="27.40" width="4.8" height="1.300" fill="#dae319"/>
<rect x="642.50" y="28.40" width="4.8" height="1.300" fill="#d5e21a"/>
<rect x="642.50" y="29.40" width="4.8" height="1.300" fill="#cde11d"/>
<rect x="642.50" y="30.40" width="4.8" height="1.300" fill="#c5e021"/>
<rect x="642.50" y="31.40" width="4.8" height="1.300" fill="#c0df25"/>
<rect x="642.50" y="32.40" width="4.8" height="1.300" fill="#b8de29"/>
<rect x="642.50" y="33.40" width="4.8" height="1.300" fill="#b0dd2f"/>
<rect x="642.50" y="34.40" width="4.8" height="1.300" fill="#aadc32"/>
<rect x="642.50" y="35.40" width="4.8" height="1.300" fill="#a2da37"/>
<rect x="642.50" y="36.40" width="4.8" height="1.300" fill="#9dd93b"/>
<rect x="642.50" y="37.40" width="4.8" height="1.300" fill="#95d840"/>
<rect x="642.50" y="38.40" width="4.8" height="1.300" fill="#8ed645"/>
<rect x="642.50" y="39.40" width="4.8" height="1.300" fill="#89d548"/>
<rect x="642.50" y="40.40" width="4.8" height="1.300" fill="#81d34d"/>
<rect x="642.50" y="41.40" width="4.8" height="1.300" fill="#7cd250"/>
<rect x="642.50" y="42.40" width="4.8" height="1.300" fill="#75d054"/>
<rect x="642.50" y="43.40" width="4.8" height="1.300" fill="#6ece58"/>
<rect x="642.50" y="44.40" width="4.8" height="1.300" fill="#69cd5b"/>
<rect x="642.50" y="45.40" width="4.8" height="1.300" fill="#63cb5f"/>
<rect x="642.50" y="46.40" width="4.8" height="1.300" fill="#5ec962"/>
<rect x="642.50" y="47.40" width="4.8" height="1.300" fill="#58c765"/>
<rect x="642.50" y="48.40" width="4.8" height="1.300" fill="#52c569"/>
<rect x="642.50" y="49.40" width="4.8" height="1.300" fill="#4ec36b"/>
<rect x="642.50" y="50.40" width="4.8" height="1.300" fill="#48c16e"/>
<rect x="642.50" y="51.40" width="4.8" height="1.300" fill="#42be71"/>
<rect x="642.50" y="52.40" width="4.8" height="1.300" fill="#3fbc73"/>
<rect x="642.50" y="53.40" width="4.8" height="1.300" fill="#3aba76"/>
<rect x="642.50" y="54.40" width="4.8" height="1.300" fill="#37b878"/>
<rect x="642.50" y="55.40" width="4.8" height="1.300" fill="#32b67a"/>
<rect x="642.50" y="56.40" width="4.8" height="1.300" fill="#2eb37c"/>
<rect x="642.50" y="57.40" width="4.8" height="1.300" fill="#2cb17e"/>
<rect x="642.50" y="58.40" width="4.8" height="1.300" fill="#28ae80"/>
<rect x="642.50" y="59.40" width="4.8" height="1.300" fill="#26ad81"/>
<rect x="642.50" y="60.40" width="4.8" height="1.300" fill="#24aa83"/>
<rect x="642.50" y="61.40" width="4.8" height="1.300" fill="#22a785"/>
<rect x="642.50" y="62.40" width="4.8" height="1.300" fill="#21a585"/>
<rect x="642.50" y="63.40" width="4.8" height="1.300" fill="#1fa287"/>
<rect x="642.50" y="64.40" width="4.8" height="1.300" fill="#1fa088"/>
<rect x="642.50" y="65.40" width="4.8" height="1.300" fill="#1f9e89"/>
<rect x="642.50" y="66.40" width="4.8" height="1.300" fill="#1e9b8a"/>
<rect x="642.50" y="67.40" width="4.8" height="1.300" fill="#1f998a"/>
<rect x="642.50" y="68.40" width="4.8" height="1.300" fill="#1f968b"/>
<rect x="642.50" y="69.40" width="4.8" height="1.300" fill="#20938c"/>
<rect x="642.50" y="70.40" width="4.8" height="1.300" fill="#20928c"/>
<rect x="642.50" y="71.40" width="4.8" height="1.300" fill="#218f8d"/>
<rect x="642.50" y="72.40" width="4.8" height="1.300" fill="#228d8d"/>
<rect x="642.50" y="73.40" width="4.8" height="1.300" fill="#238a8d"/>
<rect x="642.50" y="74.40" width="4.8" height="1.300" fill="#24878e"/>
<rect x="642.50" y="75.40" width="4.8" height="1.300" fill="#25858e"/>
<rect x="642.50" y="76.40" width="4.8" height="1.300" fill="#26828e"/>
<rect x="642.50" y="77.40" width="4.8" height="1.300" fill="#26818e"/>
<rect x="642.50" y="78.40" width="4.8" height="1.300" fill="#277e8e"/>
<rect x="642.50" y="79.40" width="4.8" height="1.300" fill="#297b8e"/>
<rect x="642.50" y="80.40" width="4.8" height="1.300" fill="#29798e"/>
<rect x="642.50" y="81.40" width="4.8" height="1.300" fill="#2a768e"/>
<rect x="642.50" y="82.40" width="4.8" height="1.300" fill="#2c738e"/>
<rect x="642.50" y="83.40" width="4.8" height="1.300" fill="#2c718e"/>
<rect x="642.50" y="84.40" width="4.8" height="1.300" fill="#2e6f8e"/>
<rect x="642.50" y="85.40" width="4.8" height="1.300" fill="#2e6d8e"/>
<rect x="642.50" y="86.40" width="4.8" height="1.300" fill="#306a8e"/>
<rect x="642.50" y="87.40" width="4.8" height="1.300" fill="#31678e"/>
<rect x="642.50" y="88.40" width="4.8" height="1.300" fill="#32658e"/>
<rect x="642.50" y="89.40" width="4.8" height="1.300" fill="#33628d"/>
<rect x="642.50" y="90.40" width="4.8" height="1.300" fill="#34608d"/>
<rect x="642.50" y="91.40" width="4.8" height="1.300" fill="#365d8d"/>
<rect x="642.50" y="92.40" width="4.8" height="1.300" fill="#375a8c"/>
<rect x="642.50" y="93.40" width="4.8" height="1.300" fill="#38588c"/>
<rect x="642.50" y="94.40" width="4.8" height="1.300" fill="#3a548c"/>
<rect x="642.50" y="95.40" width="4.8" height="1.300" fill="#3b528b"/>
<rect x="642.50" y="96.40" width="4.8" height="1.300" fill="#3c4f8a"/>
<rect x="642.50" y="97.40" width="4.8" height="1.300" fill="#3e4c8a"/>
<rect x="642.50" y="98.40" width="4.8" height="1.300" fill="#3e4989"/>
<rect x="642.50" y="99.40" width="4.8" height="1.300" fill="#404688"/>
<rect x="642.50" y="100.40" width="4.8" height="1.300" fill="#414287"/>
<rect x="642.50" y="101.40" width="4.8" height="1.300" fill="#424086"/>
<rect x="642.50" y="102.40" width="4.8" height="1.300" fill="#433d84"/>
<rect x="642.50" y="103.40" width="4.8" height="1.300" fill="#443a83"/>
<rect x="642.50" y="104.40" width="4.8" height="1.300" fill="#453781"/>
<rect x="642.50" y="105.40" width="4.8" height="1.300" fill="#46337f"/>
<rect x="642.50" y="106.40" width="4.8" height="1.300" fill="#46307e"/>
<rect x="642.50" y="107.40" width="4.8" height="1.300" fill="#472d7b"/>
<rect x="642.50" y="108.40" width="4.8" height="1.300" fill="#472a7a"/>
<rect x="642.50" y="109.40" width="4.8" height="1.300" fill="#482677"/>
<rect x="642.50" y="110.40" width="4.8" height="1.300" fill="#482374"/>
<rect x="642.50" y="111.40" width="4.8" height="1.300" fill="#482071"/>
<rect x="642.50" y="112.40" width="4.8" height="1.300" fill="#481c6e"/>
<rect x="642.50" y="113.40" width="4.8" height="1.300" fill="#48186a"/>
<rect x="642.50" y="114.40" width="4.8" height="1.300" fill="#481668"/>
<rect x="642.50" y="115.40" width="4.8" height="1.300" fill="#471164"/>
<rect x="642.50" y="116.40" width="4.8" height="1.300" fill="#470e61"/>
<rect x="642.50" y="117.40" width="4.8" height="1.300" fill="#460a5d"/>
<rect x="642.50" y="118.40" width="4.8" height="1.300" fill="#450559"/>
<rect x="642.50" y="119.40" width="4.8" height="1.300" fill="#440256"/>
<rect x="642.50" y="22.40" width="4.8" height="98.00" fill="none" stroke="#262626" stroke-width="0.9"/>
<g stroke="#262626" stroke-width="0.9">
<line x1="647.30" y1="38.73" x2="650.30" y2="38.73"/>
<line x1="647.30" y1="71.40" x2="650.30" y2="71.40"/>
<line x1="647.30" y1="104.07" x2="650.30" y2="104.07"/>
</g>
<text x="653.90" y="42.03" font-size="9.20" fill="#111" text-anchor="start" textLength="5.1" lengthAdjust="spacingAndGlyphs" >0</text>
<text x="653.90" y="74.70" font-size="9.20" fill="#111" text-anchor="start" textLength="18.2" lengthAdjust="spacingAndGlyphs" >−10</text>
<text x="653.90" y="107.37" font-size="9.20" fill="#111" text-anchor="start" textLength="18.2" lengthAdjust="spacingAndGlyphs" >−20</text>
<text transform="translate(682.80,109.60) rotate(-90)" font-size="8.8" fill="#111" textLength="17.6" lengthAdjust="spacingAndGlyphs">LOS</text>
<text transform="translate(682.80,89.30) rotate(-90)" font-size="8.8" fill="#111" textLength="32.4" lengthAdjust="spacingAndGlyphs">change</text>
<text transform="translate(682.80,54.10) rotate(-90)" font-size="8.8" fill="#111" textLength="20.4" lengthAdjust="spacingAndGlyphs">(cm)</text>
<clipPath id="c10"><rect x="67.30" y="154.50" width="141.30" height="88.00"/></clipPath>
<g stroke="#a8a8a8" stroke-width="1" fill="none">
<line x1="96.60" y1="154.50" x2="96.60" y2="242.50"/>
<line x1="136.05" y1="154.50" x2="136.05" y2="242.50"/>
<line x1="175.50" y1="154.50" x2="175.50" y2="242.50"/>
<line x1="67.30" y1="184.00" x2="208.60" y2="184.00"/>
<line x1="67.30" y1="223.50" x2="208.60" y2="223.50"/>
</g>
<g clip-path="url(#c10)">
<g transform="translate(96.600,184.0) scale(1.00000,1.0128) translate(-96.0,-57.0)">
<use href="#coast"/>
</g>
<g transform="translate(96.600,0) scale(1.00000,1) translate(-96.6,0)">
<circle cx="183.5" cy="160.1" r="1.85" fill="#20a486"/>
<circle cx="186.0" cy="160.1" r="1.85" fill="#26828e"/>
<circle cx="188.5" cy="160.1" r="1.85" fill="#2e6d8e"/>
<circle cx="191.0" cy="160.1" r="1.85" fill="#33638d"/>
<circle cx="193.5" cy="160.1" r="1.85" fill="#2d718e"/>
<circle cx="196.0" cy="160.1" r="1.85" fill="#2c738e"/>
<circle cx="198.5" cy="160.1" r="1.85" fill="#287d8e"/>
<circle cx="177.2" cy="162.2" r="1.85" fill="#6ccd5a"/>
<circle cx="179.7" cy="162.2" r="1.85" fill="#56c667"/>
<circle cx="182.2" cy="162.2" r="1.85" fill="#2fb47c"/>
<circle cx="184.7" cy="162.2" r="1.85" fill="#20a386"/>
<circle cx="187.2" cy="162.2" r="1.85" fill="#25848e"/>
<circle cx="189.7" cy="162.2" r="1.85" fill="#2b758e"/>
<circle cx="192.2" cy="162.2" r="1.85" fill="#2e6d8e"/>
<circle cx="194.7" cy="162.2" r="1.85" fill="#2c718e"/>
<circle cx="197.2" cy="162.2" r="1.85" fill="#277f8e"/>
<circle cx="199.7" cy="162.2" r="1.85" fill="#218e8d"/>
<circle cx="202.2" cy="162.2" r="1.85" fill="#1f958b"/>
<circle cx="166.0" cy="164.4" r="1.85" fill="#89d548"/>
<circle cx="168.5" cy="164.4" r="1.85" fill="#addc30"/>
<circle cx="171.0" cy="164.4" r="1.85" fill="#bade28"/>
<circle cx="173.5" cy="164.4" r="1.85" fill="#95d840"/>
<circle cx="176.0" cy="164.4" r="1.85" fill="#9dd93b"/>
<circle cx="178.5" cy="164.4" r="1.85" fill="#7cd250"/>
<circle cx="181.0" cy="164.4" r="1.85" fill="#65cb5e"/>
<circle cx="183.5" cy="164.4" r="1.85" fill="#37b878"/>
<circle cx="186.0" cy="164.4" r="1.85" fill="#1fa188"/>
<circle cx="188.5" cy="164.4" r="1.85" fill="#228b8d"/>
<circle cx="191.0" cy="164.4" r="1.85" fill="#27808e"/>
<circle cx="193.5" cy="164.4" r="1.85" fill="#25858e"/>
<circle cx="196.0" cy="164.4" r="1.85" fill="#1f948c"/>
<circle cx="198.5" cy="164.4" r="1.85" fill="#1e9d89"/>
<circle cx="201.0" cy="164.4" r="1.85" fill="#26ad81"/>
<circle cx="203.5" cy="164.4" r="1.85" fill="#35b779"/>
<circle cx="159.7" cy="166.6" r="1.85" fill="#7fd34e"/>
<circle cx="162.2" cy="166.6" r="1.85" fill="#7cd250"/>
<circle cx="164.7" cy="166.6" r="1.85" fill="#8bd646"/>
<circle cx="167.2" cy="166.6" r="1.85" fill="#84d44b"/>
<circle cx="169.7" cy="166.6" r="1.85" fill="#b8de29"/>
<circle cx="172.2" cy="166.6" r="1.85" fill="#aadc32"/>
<circle cx="174.7" cy="166.6" r="1.85" fill="#93d741"/>
<circle cx="177.2" cy="166.6" r="1.85" fill="#70cf57"/>
<circle cx="179.7" cy="166.6" r="1.85" fill="#7cd250"/>
<circle cx="182.2" cy="166.6" r="1.85" fill="#4cc26c"/>
<circle cx="184.7" cy="166.6" r="1.85" fill="#37b878"/>
<circle cx="187.2" cy="166.6" r="1.85" fill="#1fa088"/>
<circle cx="189.7" cy="166.6" r="1.85" fill="#1fa287"/>
<circle cx="192.2" cy="166.6" r="1.85" fill="#1f9e89"/>
<circle cx="194.7" cy="166.6" r="1.85" fill="#1f9f88"/>
<circle cx="197.2" cy="166.6" r="1.85" fill="#24aa83"/>
<circle cx="199.7" cy="166.6" r="1.85" fill="#2db27d"/>
<circle cx="202.2" cy="166.6" r="1.85" fill="#37b878"/>
<circle cx="156.0" cy="168.7" r="1.85" fill="#a5db36"/>
<circle cx="158.5" cy="168.7" r="1.85" fill="#93d741"/>
<circle cx="161.0" cy="168.7" r="1.85" fill="#7fd34e"/>
<circle cx="163.5" cy="168.7" r="1.85" fill="#aadc32"/>
<circle cx="166.0" cy="168.7" r="1.85" fill="#9bd93c"/>
<circle cx="168.5" cy="168.7" r="1.85" fill="#95d840"/>
<circle cx="171.0" cy="168.7" r="1.85" fill="#8ed645"/>
<circle cx="173.5" cy="168.7" r="1.85" fill="#81d34d"/>
<circle cx="176.0" cy="168.7" r="1.85" fill="#69cd5b"/>
<circle cx="178.5" cy="168.7" r="1.85" fill="#54c568"/>
<circle cx="181.0" cy="168.7" r="1.85" fill="#48c16e"/>
<circle cx="186.0" cy="168.7" r="1.85" fill="#2cb17e"/>
<circle cx="188.5" cy="168.7" r="1.85" fill="#34b679"/>
<circle cx="191.0" cy="168.7" r="1.85" fill="#2eb37c"/>
<circle cx="193.5" cy="168.7" r="1.85" fill="#35b779"/>
<circle cx="196.0" cy="168.7" r="1.85" fill="#3aba76"/>
<circle cx="198.5" cy="168.7" r="1.85" fill="#3aba76"/>
<circle cx="201.0" cy="168.7" r="1.85" fill="#60ca60"/>
<circle cx="203.5" cy="168.7" r="1.85" fill="#60ca60"/>
<circle cx="152.2" cy="170.9" r="1.85" fill="#95d840"/>
<circle cx="154.7" cy="170.9" r="1.85" fill="#9bd93c"/>
<circle cx="157.2" cy="170.9" r="1.85" fill="#98d83e"/>
<circle cx="159.7" cy="170.9" r="1.85" fill="#84d44b"/>
<circle cx="162.2" cy="170.9" r="1.85" fill="#8bd646"/>
<circle cx="164.7" cy="170.9" r="1.85" fill="#98d83e"/>
<circle cx="167.2" cy="170.9" r="1.85" fill="#9bd93c"/>
<circle cx="174.7" cy="170.9" r="1.85" fill="#81d34d"/>
<circle cx="177.2" cy="170.9" r="1.85" fill="#58c765"/>
<circle cx="179.7" cy="170.9" r="1.85" fill="#4cc26c"/>
<circle cx="187.2" cy="170.9" r="1.85" fill="#35b779"/>
<circle cx="189.7" cy="170.9" r="1.85" fill="#4ec36b"/>
<circle cx="192.2" cy="170.9" r="1.85" fill="#3bbb75"/>
<circle cx="151.0" cy="173.1" r="1.85" fill="#89d548"/>
<circle cx="153.5" cy="173.1" r="1.85" fill="#9bd93c"/>
<circle cx="156.0" cy="173.1" r="1.85" fill="#8ed645"/>
<circle cx="158.5" cy="173.1" r="1.85" fill="#a5db36"/>
<circle cx="161.0" cy="173.1" r="1.85" fill="#89d548"/>
<circle cx="163.5" cy="173.1" r="1.85" fill="#98d83e"/>
<circle cx="166.0" cy="173.1" r="1.85" fill="#84d44b"/>
<circle cx="168.5" cy="173.1" r="1.85" fill="#9bd93c"/>
<circle cx="173.5" cy="173.1" r="1.85" fill="#67cc5c"/>
<circle cx="176.0" cy="173.1" r="1.85" fill="#6ccd5a"/>
<circle cx="178.5" cy="173.1" r="1.85" fill="#46c06f"/>
<circle cx="181.0" cy="173.1" r="1.85" fill="#56c667"/>
<circle cx="147.2" cy="175.2" r="1.85" fill="#9bd93c"/>
<circle cx="149.7" cy="175.2" r="1.85" fill="#81d34d"/>
<circle cx="152.2" cy="175.2" r="1.85" fill="#81d34d"/>
<circle cx="154.7" cy="175.2" r="1.85" fill="#a8db34"/>
<circle cx="157.2" cy="175.2" r="1.85" fill="#8ed645"/>
<circle cx="159.7" cy="175.2" r="1.85" fill="#a0da39"/>
<circle cx="162.2" cy="175.2" r="1.85" fill="#9dd93b"/>
<circle cx="164.7" cy="175.2" r="1.85" fill="#95d840"/>
<circle cx="167.2" cy="175.2" r="1.85" fill="#8bd646"/>
<circle cx="169.7" cy="175.2" r="1.85" fill="#81d34d"/>
<circle cx="172.2" cy="175.2" r="1.85" fill="#8bd646"/>
<circle cx="174.7" cy="175.2" r="1.85" fill="#7ad151"/>
<circle cx="177.2" cy="175.2" r="1.85" fill="#69cd5b"/>
<circle cx="143.5" cy="177.4" r="1.85" fill="#8bd646"/>
<circle cx="146.0" cy="177.4" r="1.85" fill="#95d840"/>
<circle cx="148.5" cy="177.4" r="1.85" fill="#81d34d"/>
<circle cx="151.0" cy="177.4" r="1.85" fill="#90d743"/>
<circle cx="153.5" cy="177.4" r="1.85" fill="#9bd93c"/>
<circle cx="156.0" cy="177.4" r="1.85" fill="#93d741"/>
<circle cx="158.5" cy="177.4" r="1.85" fill="#a8db34"/>
<circle cx="161.0" cy="177.4" r="1.85" fill="#98d83e"/>
<circle cx="163.5" cy="177.4" r="1.85" fill="#7fd34e"/>
<circle cx="166.0" cy="177.4" r="1.85" fill="#93d741"/>
<circle cx="173.5" cy="177.4" r="1.85" fill="#69cd5b"/>
<circle cx="176.0" cy="177.4" r="1.85" fill="#7cd250"/>
<circle cx="137.2" cy="179.6" r="1.85" fill="#aadc32"/>
<circle cx="139.7" cy="179.6" r="1.85" fill="#8ed645"/>
<circle cx="142.2" cy="179.6" r="1.85" fill="#90d743"/>
<circle cx="157.2" cy="179.6" r="1.85" fill="#8ed645"/>
<circle cx="159.7" cy="179.6" r="1.85" fill="#84d44b"/>
<circle cx="162.2" cy="179.6" r="1.85" fill="#a2da37"/>
<circle cx="164.7" cy="179.6" r="1.85" fill="#a5db36"/>
<circle cx="167.2" cy="179.6" r="1.85" fill="#8ed645"/>
<circle cx="172.2" cy="179.6" r="1.85" fill="#6ece58"/>
<circle cx="174.7" cy="179.6" r="1.85" fill="#84d44b"/>
<circle cx="131.0" cy="181.7" r="1.85" fill="#b8de29"/>
<circle cx="133.5" cy="181.7" r="1.85" fill="#9bd93c"/>
<circle cx="136.0" cy="181.7" r="1.85" fill="#b0dd2f"/>
<circle cx="138.5" cy="181.7" r="1.85" fill="#90d743"/>
<circle cx="158.5" cy="181.7" r="1.85" fill="#86d549"/>
<circle cx="161.0" cy="181.7" r="1.85" fill="#a5db36"/>
<circle cx="163.5" cy="181.7" r="1.85" fill="#84d44b"/>
<circle cx="166.0" cy="181.7" r="1.85" fill="#95d840"/>
<circle cx="168.5" cy="181.7" r="1.85" fill="#86d549"/>
<circle cx="171.0" cy="181.7" r="1.85" fill="#6ccd5a"/>
<circle cx="173.5" cy="181.7" r="1.85" fill="#77d153"/>
<circle cx="117.2" cy="183.9" r="1.85" fill="#8ed645"/>
<circle cx="119.7" cy="183.9" r="1.85" fill="#9dd93b"/>
<circle cx="124.7" cy="183.9" r="1.85" fill="#b2dd2d"/>
<circle cx="127.2" cy="183.9" r="1.85" fill="#a0da39"/>
<circle cx="129.7" cy="183.9" r="1.85" fill="#a0da39"/>
<circle cx="132.2" cy="183.9" r="1.85" fill="#9dd93b"/>
<circle cx="134.7" cy="183.9" r="1.85" fill="#b0dd2f"/>
<circle cx="162.2" cy="183.9" r="1.85" fill="#9dd93b"/>
<circle cx="164.7" cy="183.9" r="1.85" fill="#84d44b"/>
<circle cx="167.2" cy="183.9" r="1.85" fill="#84d44b"/>
<circle cx="169.7" cy="183.9" r="1.85" fill="#81d34d"/>
<circle cx="172.2" cy="183.9" r="1.85" fill="#84d44b"/>
<circle cx="116.0" cy="186.1" r="1.85" fill="#a8db34"/>
<circle cx="118.5" cy="186.1" r="1.85" fill="#addc30"/>
<circle cx="121.0" cy="186.1" r="1.85" fill="#c8e020"/>
<circle cx="123.5" cy="186.1" r="1.85" fill="#98d83e"/>
<circle cx="126.0" cy="186.1" r="1.85" fill="#aadc32"/>
<circle cx="128.5" cy="186.1" r="1.85" fill="#a0da39"/>
<circle cx="131.0" cy="186.1" r="1.85" fill="#b0dd2f"/>
<circle cx="133.5" cy="186.1" r="1.85" fill="#90d743"/>
<circle cx="166.0" cy="186.1" r="1.85" fill="#7ad151"/>
<circle cx="117.2" cy="188.2" r="1.85" fill="#aadc32"/>
<circle cx="119.7" cy="188.2" r="1.85" fill="#b2dd2d"/>
<circle cx="122.2" cy="188.2" r="1.85" fill="#addc30"/>
<circle cx="124.7" cy="188.2" r="1.85" fill="#b0dd2f"/>
<circle cx="127.2" cy="188.2" r="1.85" fill="#8ed645"/>
<circle cx="129.7" cy="188.2" r="1.85" fill="#8bd646"/>
<circle cx="116.0" cy="190.4" r="1.85" fill="#a5db36"/>
<circle cx="118.5" cy="190.4" r="1.85" fill="#95d840"/>
<circle cx="121.0" cy="190.4" r="1.85" fill="#b0dd2f"/>
<circle cx="117.2" cy="192.6" r="1.85" fill="#89d548"/>
<circle cx="119.7" cy="192.6" r="1.85" fill="#90d743"/>
<circle cx="116.0" cy="194.7" r="1.85" fill="#98d83e"/>
<circle cx="118.5" cy="194.7" r="1.85" fill="#93d741"/>
<circle cx="117.2" cy="196.9" r="1.85" fill="#9bd93c"/>
<circle cx="119.7" cy="196.9" r="1.85" fill="#95d840"/>
<circle cx="116.0" cy="199.1" r="1.85" fill="#a8db34"/>
<circle cx="118.5" cy="199.1" r="1.85" fill="#98d83e"/>
<circle cx="115.0" cy="182.3" r="1.85" fill="#93d741"/>
<circle cx="114.9" cy="184.9" r="1.85" fill="#89d548"/>
<circle cx="114.8" cy="187.4" r="1.85" fill="#9bd93c"/>
<circle cx="114.7" cy="190.0" r="1.85" fill="#a5db36"/>
<circle cx="114.7" cy="192.9" r="1.85" fill="#84d44b"/>
<circle cx="114.8" cy="195.8" r="1.85" fill="#84d44b"/>
<circle cx="114.8" cy="198.7" r="1.85" fill="#a2da37"/>
<circle cx="116.6" cy="200.2" r="1.85" fill="#81d34d"/>
<circle cx="119.6" cy="200.2" r="1.85" fill="#81d34d"/>
<circle cx="120.7" cy="198.5" r="1.85" fill="#93d741"/>
<circle cx="120.9" cy="195.5" r="1.85" fill="#90d743"/>
<circle cx="121.0" cy="192.4" r="1.85" fill="#8ed645"/>
<circle cx="121.0" cy="192.3" r="1.85" fill="#a5db36"/>
<circle cx="121.0" cy="192.1" r="1.85" fill="#8bd646"/>
<circle cx="121.1" cy="191.9" r="1.85" fill="#a5db36"/>
<circle cx="121.2" cy="191.8" r="1.85" fill="#a5db36"/>
<circle cx="121.2" cy="191.7" r="1.85" fill="#b0dd2f"/>
<circle cx="121.3" cy="191.5" r="1.85" fill="#9dd93b"/>
<circle cx="121.4" cy="191.4" r="1.85" fill="#90d743"/>
<circle cx="123.3" cy="189.4" r="1.85" fill="#b0dd2f"/>
<circle cx="123.5" cy="189.3" r="1.85" fill="#9dd93b"/>
<circle cx="123.6" cy="189.2" r="1.85" fill="#b2dd2d"/>
<circle cx="123.7" cy="189.1" r="1.85" fill="#a5db36"/>
<circle cx="123.8" cy="189.0" r="1.85" fill="#8ed645"/>
<circle cx="124.0" cy="189.0" r="1.85" fill="#aadc32"/>
<circle cx="124.1" cy="188.9" r="1.85" fill="#9dd93b"/>
<circle cx="124.3" cy="188.9" r="1.85" fill="#aadc32"/>
<circle cx="124.4" cy="188.9" r="1.85" fill="#a5db36"/>
<circle cx="124.6" cy="188.9" r="1.85" fill="#93d741"/>
<circle cx="124.7" cy="188.9" r="1.85" fill="#a0da39"/>
<circle cx="126.7" cy="189.2" r="1.85" fill="#8bd646"/>
<circle cx="128.7" cy="189.5" r="1.85" fill="#a0da39"/>
<circle cx="131.0" cy="188.1" r="1.85" fill="#8bd646"/>
<circle cx="133.4" cy="186.7" r="1.85" fill="#9dd93b"/>
<circle cx="135.1" cy="185.4" r="1.85" fill="#8bd646"/>
<circle cx="136.9" cy="184.0" r="1.85" fill="#90d743"/>
<circle cx="138.6" cy="182.7" r="1.85" fill="#9dd93b"/>
<circle cx="138.7" cy="182.7" r="1.85" fill="#9dd93b"/>
<circle cx="141.3" cy="180.8" r="1.85" fill="#a2da37"/>
<circle cx="143.9" cy="178.9" r="1.85" fill="#98d83e"/>
<circle cx="144.0" cy="178.8" r="1.85" fill="#a2da37"/>
<circle cx="144.1" cy="178.7" r="1.85" fill="#93d741"/>
<circle cx="144.3" cy="178.7" r="1.85" fill="#9dd93b"/>
<circle cx="144.4" cy="178.6" r="1.85" fill="#a0da39"/>
<circle cx="144.6" cy="178.6" r="1.85" fill="#9dd93b"/>
<circle cx="147.2" cy="178.3" r="1.85" fill="#8ed645"/>
<circle cx="149.8" cy="177.9" r="1.85" fill="#9dd93b"/>
<circle cx="149.9" cy="177.9" r="1.85" fill="#93d741"/>
<circle cx="150.1" cy="177.9" r="1.85" fill="#86d549"/>
<circle cx="150.2" cy="177.9" r="1.85" fill="#7fd34e"/>
<circle cx="150.4" cy="177.9" r="1.85" fill="#aadc32"/>
<circle cx="150.5" cy="178.0" r="1.85" fill="#a8db34"/>
<circle cx="153.5" cy="179.0" r="1.85" fill="#98d83e"/>
<circle cx="156.5" cy="180.0" r="1.85" fill="#9bd93c"/>
<circle cx="156.7" cy="180.0" r="1.85" fill="#a0da39"/>
<circle cx="156.8" cy="180.1" r="1.85" fill="#81d34d"/>
<circle cx="156.9" cy="180.2" r="1.85" fill="#a5db36"/>
<circle cx="157.1" cy="180.3" r="1.85" fill="#98d83e"/>
<circle cx="157.2" cy="180.4" r="1.85" fill="#aadc32"/>
<circle cx="159.0" cy="182.5" r="1.85" fill="#a8db34"/>
<circle cx="160.9" cy="184.6" r="1.85" fill="#95d840"/>
<circle cx="163.5" cy="185.4" r="1.85" fill="#9bd93c"/>
<circle cx="166.1" cy="186.2" r="1.85" fill="#8ed645"/>
<circle cx="168.8" cy="185.6" r="1.85" fill="#77d153"/>
<circle cx="171.5" cy="185.0" r="1.85" fill="#70cf57"/>
<circle cx="173.3" cy="183.5" r="1.85" fill="#69cd5b"/>
<circle cx="175.2" cy="182.0" r="1.85" fill="#86d549"/>
<circle cx="175.9" cy="180.0" r="1.85" fill="#63cb5f"/>
<circle cx="176.7" cy="178.0" r="1.85" fill="#65cb5e"/>
<circle cx="177.5" cy="175.9" r="1.85" fill="#60ca60"/>
<circle cx="177.6" cy="175.8" r="1.85" fill="#54c568"/>
<circle cx="177.6" cy="175.7" r="1.85" fill="#60ca60"/>
<circle cx="177.7" cy="175.5" r="1.85" fill="#50c46a"/>
<circle cx="177.8" cy="175.4" r="1.85" fill="#5ec962"/>
<circle cx="177.9" cy="175.3" r="1.85" fill="#67cc5c"/>
<circle cx="178.0" cy="175.2" r="1.85" fill="#60ca60"/>
<circle cx="178.2" cy="175.1" r="1.85" fill="#4cc26c"/>
<circle cx="178.3" cy="175.1" r="1.85" fill="#4cc26c"/>
<circle cx="180.3" cy="174.1" r="1.85" fill="#58c765"/>
<circle cx="182.3" cy="173.1" r="1.85" fill="#40bd72"/>
<circle cx="184.6" cy="172.1" r="1.85" fill="#46c06f"/>
<circle cx="184.7" cy="172.0" r="1.85" fill="#4ac16d"/>
<circle cx="184.9" cy="172.0" r="1.85" fill="#4cc26c"/>
<circle cx="187.3" cy="171.8" r="1.85" fill="#3aba76"/>
<circle cx="189.8" cy="171.6" r="1.85" fill="#40bd72"/>
<circle cx="192.3" cy="171.0" r="1.85" fill="#42be71"/>
<circle cx="194.8" cy="170.5" r="1.85" fill="#44bf70"/>
<circle cx="197.6" cy="169.2" r="1.85" fill="#56c667"/>
<circle cx="197.8" cy="169.1" r="1.85" fill="#42be71"/>
<circle cx="197.9" cy="169.0" r="1.85" fill="#44bf70"/>
<circle cx="198.1" cy="169.0" r="1.85" fill="#3dbc74"/>
<circle cx="198.2" cy="169.0" r="1.85" fill="#42be71"/>
<circle cx="198.4" cy="169.0" r="1.85" fill="#3dbc74"/>
<circle cx="198.6" cy="169.0" r="1.85" fill="#3fbc73"/>
<circle cx="198.7" cy="169.1" r="1.85" fill="#48c16e"/>
<circle cx="201.6" cy="169.8" r="1.85" fill="#5cc863"/>
<circle cx="203.6" cy="170.1" r="1.85" fill="#6ece58"/>
<circle cx="204.4" cy="168.7" r="1.85" fill="#67cc5c"/>
<circle cx="204.2" cy="166.6" r="1.85" fill="#4ec36b"/>
<circle cx="204.0" cy="164.5" r="1.85" fill="#37b878"/>
<circle cx="203.1" cy="161.9" r="1.85" fill="#1f9e89"/>
<circle cx="201.4" cy="160.6" r="1.85" fill="#24878e"/>
<circle cx="199.6" cy="159.3" r="1.85" fill="#2a778e"/>
<circle cx="196.9" cy="158.9" r="1.85" fill="#2c718e"/>
<circle cx="194.1" cy="158.4" r="1.85" fill="#355f8d"/>
<circle cx="191.7" cy="158.2" r="1.85" fill="#365d8d"/>
<circle cx="189.3" cy="157.9" r="1.85" fill="#32658e"/>
<circle cx="186.4" cy="158.5" r="1.85" fill="#297b8e"/>
<circle cx="183.7" cy="159.5" r="1.85" fill="#1e9b8a"/>
<circle cx="183.7" cy="159.5" r="1.85" fill="#1f958b"/>
<circle cx="181.1" cy="160.3" r="1.85" fill="#2cb17e"/>
<circle cx="178.6" cy="161.0" r="1.85" fill="#50c46a"/>
<circle cx="175.7" cy="162.3" r="1.85" fill="#6ccd5a"/>
<circle cx="175.6" cy="162.3" r="1.85" fill="#75d054"/>
<circle cx="175.5" cy="162.4" r="1.85" fill="#8ed645"/>
<circle cx="173.4" cy="162.9" r="1.85" fill="#93d741"/>
<circle cx="171.4" cy="163.4" r="1.85" fill="#a0da39"/>
<circle cx="171.2" cy="163.4" r="1.85" fill="#8bd646"/>
<circle cx="169.2" cy="163.6" r="1.85" fill="#a5db36"/>
<circle cx="167.2" cy="163.9" r="1.85" fill="#98d83e"/>
<circle cx="164.4" cy="164.4" r="1.85" fill="#9bd93c"/>
<circle cx="161.5" cy="164.9" r="1.85" fill="#93d741"/>
<circle cx="158.9" cy="166.2" r="1.85" fill="#86d549"/>
<circle cx="156.2" cy="167.5" r="1.85" fill="#8ed645"/>
<circle cx="154.3" cy="168.9" r="1.85" fill="#90d743"/>
<circle cx="152.4" cy="170.3" r="1.85" fill="#98d83e"/>
<circle cx="150.5" cy="172.2" r="1.85" fill="#98d83e"/>
<circle cx="148.6" cy="174.1" r="1.85" fill="#81d34d"/>
<circle cx="148.5" cy="174.2" r="1.85" fill="#84d44b"/>
<circle cx="148.4" cy="174.3" r="1.85" fill="#7fd34e"/>
<circle cx="148.2" cy="174.4" r="1.85" fill="#81d34d"/>
<circle cx="145.2" cy="175.9" r="1.85" fill="#9bd93c"/>
<circle cx="143.4" cy="176.9" r="1.85" fill="#9bd93c"/>
<circle cx="141.6" cy="177.8" r="1.85" fill="#98d83e"/>
<circle cx="141.5" cy="177.9" r="1.85" fill="#89d548"/>
<circle cx="141.4" cy="177.9" r="1.85" fill="#86d549"/>
<circle cx="139.2" cy="178.6" r="1.85" fill="#9bd93c"/>
<circle cx="137.0" cy="179.3" r="1.85" fill="#89d548"/>
<circle cx="134.8" cy="179.9" r="1.85" fill="#93d741"/>
<circle cx="132.6" cy="180.6" r="1.85" fill="#a2da37"/>
<circle cx="130.5" cy="181.2" r="1.85" fill="#9bd93c"/>
<circle cx="128.3" cy="181.9" r="1.85" fill="#9dd93b"/>
<circle cx="125.8" cy="183.2" r="1.85" fill="#a8db34"/>
<circle cx="123.2" cy="184.4" r="1.85" fill="#bade28"/>
<circle cx="123.1" cy="184.5" r="1.85" fill="#bade28"/>
<circle cx="122.9" cy="184.5" r="1.85" fill="#a0da39"/>
<circle cx="122.8" cy="184.6" r="1.85" fill="#b2dd2d"/>
<circle cx="122.6" cy="184.6" r="1.85" fill="#b0dd2f"/>
<circle cx="122.4" cy="184.6" r="1.85" fill="#c2df23"/>
<circle cx="122.3" cy="184.6" r="1.85" fill="#9bd93c"/>
<circle cx="122.1" cy="184.5" r="1.85" fill="#b8de29"/>
<circle cx="121.9" cy="184.5" r="1.85" fill="#c0df25"/>
<circle cx="121.8" cy="184.4" r="1.85" fill="#98d83e"/>
<circle cx="121.7" cy="184.4" r="1.85" fill="#addc30"/>
<circle cx="118.7" cy="182.5" r="1.85" fill="#89d548"/>
<circle cx="115.9" cy="182.0" r="1.85" fill="#90d743"/>
<circle cx="115.0" cy="182.3" r="1.85" fill="#93d741"/>
<circle cx="164.5" cy="202.9" r="1.85" fill="#3aba76"/>
<circle cx="167.3" cy="202.9" r="1.85" fill="#3aba76"/>
<circle cx="170.2" cy="202.9" r="1.85" fill="#42be71"/>
<circle cx="173.0" cy="202.9" r="1.85" fill="#40bd72"/>
<circle cx="175.8" cy="202.9" r="1.85" fill="#40bd72"/>
<circle cx="178.7" cy="202.9" r="1.85" fill="#3bbb75"/>
<circle cx="181.5" cy="202.9" r="1.85" fill="#38b977"/>
<circle cx="165.8" cy="204.2" r="1.85" fill="#3dbc74"/>
<circle cx="168.8" cy="204.2" r="1.85" fill="#54c568"/>
<circle cx="171.8" cy="204.2" r="1.85" fill="#42be71"/>
<circle cx="174.8" cy="204.2" r="1.85" fill="#42be71"/>
<circle cx="177.8" cy="204.2" r="1.85" fill="#38b977"/>
<circle cx="180.8" cy="204.2" r="1.85" fill="#4ec36b"/>
<circle cx="181.5" cy="198.9" r="1.85" fill="#7cd250"/>
<circle cx="160.6" cy="198.3" r="1.85" fill="#9dd93b"/>
<circle cx="136.2" cy="208.8" r="1.85" fill="#9dd93b"/>
<circle cx="144.9" cy="207.0" r="1.85" fill="#81d34d"/>
<circle cx="149.0" cy="206.5" r="1.85" fill="#a0da39"/>
<circle cx="146.6" cy="208.8" r="1.85" fill="#89d548"/>
<circle cx="146.6" cy="212.3" r="1.85" fill="#8bd646"/>
<circle cx="151.3" cy="211.1" r="1.85" fill="#aadc32"/>
<circle cx="151.3" cy="213.4" r="1.85" fill="#a0da39"/>
<circle cx="150.1" cy="214.6" r="1.85" fill="#90d743"/>
<circle cx="150.1" cy="196.0" r="1.85" fill="#a5db36"/>
<circle cx="118.6" cy="201.2" r="1.85" fill="#a8db34"/>
<circle cx="124.8" cy="200.6" r="1.85" fill="#8bd646"/>
<circle cx="118.6" cy="205.6" r="1.85" fill="#81d34d"/>
<circle cx="125.4" cy="205.6" r="1.85" fill="#8ed645"/>
<circle cx="127.3" cy="210.5" r="1.85" fill="#8bd646"/>
<circle cx="123.5" cy="214.3" r="1.85" fill="#9bd93c"/>
<circle cx="127.9" cy="214.3" r="1.85" fill="#89d548"/>
<circle cx="181.2" cy="177.5" r="1.85" fill="#46c06f"/>
<circle cx="187.2" cy="177.5" r="1.85" fill="#4ac16d"/>
<circle cx="190.2" cy="176.5" r="1.85" fill="#65cb5e"/>
<circle cx="196.3" cy="176.5" r="1.85" fill="#81d34d"/>
<circle cx="176.1" cy="186.1" r="1.85" fill="#73d056"/>
<circle cx="181.7" cy="184.6" r="1.85" fill="#58c765"/>
<circle cx="180.2" cy="189.6" r="1.85" fill="#63cb5f"/>
<circle cx="183.2" cy="189.6" r="1.85" fill="#63cb5f"/>
<circle cx="184.2" cy="193.1" r="1.85" fill="#67cc5c"/>
<circle cx="187.7" cy="192.6" r="1.85" fill="#4ec36b"/>
<circle cx="186.7" cy="194.2" r="1.85" fill="#5ac864"/>
<circle cx="174.6" cy="191.6" r="1.85" fill="#8bd646"/>
<circle cx="167.6" cy="191.6" r="1.85" fill="#98d83e"/>
<circle cx="161.5" cy="191.6" r="1.85" fill="#a0da39"/>
<circle cx="146.6" cy="184.9" r="1.85" fill="#81d34d"/>
<circle cx="153.6" cy="184.9" r="1.85" fill="#a0da39"/>
<circle cx="136.1" cy="195.3" r="1.85" fill="#86d549"/>
<circle cx="125.1" cy="195.6" r="1.85" fill="#a5db36"/>
<circle cx="127.1" cy="200.7" r="1.85" fill="#a8db34"/>
<circle cx="158.4" cy="186.1" r="1.85" fill="#90d743"/>
<circle cx="159.9" cy="191.1" r="1.85" fill="#89d548"/>
<circle cx="126.6" cy="213.4" r="1.85" fill="#9dd93b"/>
<circle cx="195.3" cy="170.6" r="1.85" fill="#42be71"/>
<circle cx="183.2" cy="173.2" r="1.85" fill="#44bf70"/>
</g>
<g transform="translate(0.00,0)">
<text transform="translate(180.2,215.9) rotate(10)" font-size="9.5" fill="#111" textLength="18.5" lengthAdjust="spacingAndGlyphs">LOS</text>
<text transform="translate(170.5,223.0) rotate(12.2)" font-size="9.5" fill="#111" textLength="35.7" lengthAdjust="spacingAndGlyphs">direction</text>
<path d="M200.6 238.3 L175 233.6" stroke="#000" stroke-width="3.2" fill="none"/>
<path d="M182 230.1 L174.3 233.3 L179.6 239.2" stroke="#000" stroke-width="3.0" fill="none" stroke-linejoin="miter"/>
</g>
</g>
<rect x="67.30" y="154.50" width="141.30" height="88.00" fill="none" stroke="#262626" stroke-width="1"/>
<g stroke="#262626" stroke-width="0.9">
<line x1="96.50" y1="242.50" x2="96.50" y2="245.80"/>
<line x1="136.50" y1="242.50" x2="136.50" y2="245.80"/>
<line x1="175.50" y1="242.50" x2="175.50" y2="245.80"/>
<line x1="64.00" y1="184.00" x2="67.30" y2="184.00"/>
<line x1="64.00" y1="223.50" x2="67.30" y2="223.50"/>
</g>
<text x="96.05" y="256.70" font-size="10.70" fill="#111" text-anchor="middle" textLength="41.3" lengthAdjust="spacingAndGlyphs" >136.8°E</text>
<text x="136.35" y="256.70" font-size="10.70" fill="#111" text-anchor="middle" textLength="31.0" lengthAdjust="spacingAndGlyphs" >137°E</text>
<text x="175.40" y="256.70" font-size="10.70" fill="#111" text-anchor="middle" textLength="41.3" lengthAdjust="spacingAndGlyphs" >137.2°E</text>
<text x="23.70" y="187.90" font-size="10.70" fill="#111" text-anchor="start" textLength="36.0" lengthAdjust="spacingAndGlyphs" >37.4°N</text>
<text x="23.70" y="227.30" font-size="10.70" fill="#111" text-anchor="start" textLength="36.0" lengthAdjust="spacingAndGlyphs" >37.2°N</text>
<rect x="217.50" y="149.50" width="4.8" height="1.300" fill="#fbe723"/>
<rect x="217.50" y="150.50" width="4.8" height="1.300" fill="#f6e620"/>
<rect x="217.50" y="151.50" width="4.8" height="1.300" fill="#efe51c"/>
<rect x="217.50" y="152.50" width="4.8" height="1.300" fill="#e7e419"/>
<rect x="217.50" y="153.50" width="4.8" height="1.300" fill="#e2e418"/>
<rect x="217.50" y="154.50" width="4.8" height="1.300" fill="#dae319"/>
<rect x="217.50" y="155.50" width="4.8" height="1.300" fill="#d5e21a"/>
<rect x="217.50" y="156.50" width="4.8" height="1.300" fill="#cde11d"/>
<rect x="217.50" y="157.50" width="4.8" height="1.300" fill="#c5e021"/>
<rect x="217.50" y="158.50" width="4.8" height="1.300" fill="#c0df25"/>
<rect x="217.50" y="159.50" width="4.8" height="1.300" fill="#b8de29"/>
<rect x="217.50" y="160.50" width="4.8" height="1.300" fill="#b0dd2f"/>
<rect x="217.50" y="161.50" width="4.8" height="1.300" fill="#aadc32"/>
<rect x="217.50" y="162.50" width="4.8" height="1.300" fill="#a2da37"/>
<rect x="217.50" y="163.50" width="4.8" height="1.300" fill="#9dd93b"/>
<rect x="217.50" y="164.50" width="4.8" height="1.300" fill="#95d840"/>
<rect x="217.50" y="165.50" width="4.8" height="1.300" fill="#8ed645"/>
<rect x="217.50" y="166.50" width="4.8" height="1.300" fill="#89d548"/>
<rect x="217.50" y="167.50" width="4.8" height="1.300" fill="#81d34d"/>
<rect x="217.50" y="168.50" width="4.8" height="1.300" fill="#7cd250"/>
<rect x="217.50" y="169.50" width="4.8" height="1.300" fill="#75d054"/>
<rect x="217.50" y="170.50" width="4.8" height="1.300" fill="#6ece58"/>
<rect x="217.50" y="171.50" width="4.8" height="1.300" fill="#69cd5b"/>
<rect x="217.50" y="172.50" width="4.8" height="1.300" fill="#63cb5f"/>
<rect x="217.50" y="173.50" width="4.8" height="1.300" fill="#5ec962"/>
<rect x="217.50" y="174.50" width="4.8" height="1.300" fill="#58c765"/>
<rect x="217.50" y="175.50" width="4.8" height="1.300" fill="#52c569"/>
<rect x="217.50" y="176.50" width="4.8" height="1.300" fill="#4ec36b"/>
<rect x="217.50" y="177.50" width="4.8" height="1.300" fill="#48c16e"/>
<rect x="217.50" y="178.50" width="4.8" height="1.300" fill="#42be71"/>
<rect x="217.50" y="179.50" width="4.8" height="1.300" fill="#3fbc73"/>
<rect x="217.50" y="180.50" width="4.8" height="1.300" fill="#3aba76"/>
<rect x="217.50" y="181.50" width="4.8" height="1.300" fill="#37b878"/>
<rect x="217.50" y="182.50" width="4.8" height="1.300" fill="#32b67a"/>
<rect x="217.50" y="183.50" width="4.8" height="1.300" fill="#2eb37c"/>
<rect x="217.50" y="184.50" width="4.8" height="1.300" fill="#2cb17e"/>
<rect x="217.50" y="185.50" width="4.8" height="1.300" fill="#28ae80"/>
<rect x="217.50" y="186.50" width="4.8" height="1.300" fill="#26ad81"/>
<rect x="217.50" y="187.50" width="4.8" height="1.300" fill="#24aa83"/>
<rect x="217.50" y="188.50" width="4.8" height="1.300" fill="#22a785"/>
<rect x="217.50" y="189.50" width="4.8" height="1.300" fill="#21a585"/>
<rect x="217.50" y="190.50" width="4.8" height="1.300" fill="#1fa287"/>
<rect x="217.50" y="191.50" width="4.8" height="1.300" fill="#1fa088"/>
<rect x="217.50" y="192.50" width="4.8" height="1.300" fill="#1f9e89"/>
<rect x="217.50" y="193.50" width="4.8" height="1.300" fill="#1e9b8a"/>
<rect x="217.50" y="194.50" width="4.8" height="1.300" fill="#1f998a"/>
<rect x="217.50" y="195.50" width="4.8" height="1.300" fill="#1f968b"/>
<rect x="217.50" y="196.50" width="4.8" height="1.300" fill="#20938c"/>
<rect x="217.50" y="197.50" width="4.8" height="1.300" fill="#20928c"/>
<rect x="217.50" y="198.50" width="4.8" height="1.300" fill="#218f8d"/>
<rect x="217.50" y="199.50" width="4.8" height="1.300" fill="#228d8d"/>
<rect x="217.50" y="200.50" width="4.8" height="1.300" fill="#238a8d"/>
<rect x="217.50" y="201.50" width="4.8" height="1.300" fill="#24878e"/>
<rect x="217.50" y="202.50" width="4.8" height="1.300" fill="#25858e"/>
<rect x="217.50" y="203.50" width="4.8" height="1.300" fill="#26828e"/>
<rect x="217.50" y="204.50" width="4.8" height="1.300" fill="#26818e"/>
<rect x="217.50" y="205.50" width="4.8" height="1.300" fill="#277e8e"/>
<rect x="217.50" y="206.50" width="4.8" height="1.300" fill="#297b8e"/>
<rect x="217.50" y="207.50" width="4.8" height="1.300" fill="#29798e"/>
<rect x="217.50" y="208.50" width="4.8" height="1.300" fill="#2a768e"/>
<rect x="217.50" y="209.50" width="4.8" height="1.300" fill="#2c738e"/>
<rect x="217.50" y="210.50" width="4.8" height="1.300" fill="#2c718e"/>
<rect x="217.50" y="211.50" width="4.8" height="1.300" fill="#2e6f8e"/>
<rect x="217.50" y="212.50" width="4.8" height="1.300" fill="#2e6d8e"/>
<rect x="217.50" y="213.50" width="4.8" height="1.300" fill="#306a8e"/>
<rect x="217.50" y="214.50" width="4.8" height="1.300" fill="#31678e"/>
<rect x="217.50" y="215.50" width="4.8" height="1.300" fill="#32658e"/>
<rect x="217.50" y="216.50" width="4.8" height="1.300" fill="#33628d"/>
<rect x="217.50" y="217.50" width="4.8" height="1.300" fill="#34608d"/>
<rect x="217.50" y="218.50" width="4.8" height="1.300" fill="#365d8d"/>
<rect x="217.50" y="219.50" width="4.8" height="1.300" fill="#375a8c"/>
<rect x="217.50" y="220.50" width="4.8" height="1.300" fill="#38588c"/>
<rect x="217.50" y="221.50" width="4.8" height="1.300" fill="#3a548c"/>
<rect x="217.50" y="222.50" width="4.8" height="1.300" fill="#3b528b"/>
<rect x="217.50" y="223.50" width="4.8" height="1.300" fill="#3c4f8a"/>
<rect x="217.50" y="224.50" width="4.8" height="1.300" fill="#3e4c8a"/>
<rect x="217.50" y="225.50" width="4.8" height="1.300" fill="#3e4989"/>
<rect x="217.50" y="226.50" width="4.8" height="1.300" fill="#404688"/>
<rect x="217.50" y="227.50" width="4.8" height="1.300" fill="#414287"/>
<rect x="217.50" y="228.50" width="4.8" height="1.300" fill="#424086"/>
<rect x="217.50" y="229.50" width="4.8" height="1.300" fill="#433d84"/>
<rect x="217.50" y="230.50" width="4.8" height="1.300" fill="#443a83"/>
<rect x="217.50" y="231.50" width="4.8" height="1.300" fill="#453781"/>
<rect x="217.50" y="232.50" width="4.8" height="1.300" fill="#46337f"/>
<rect x="217.50" y="233.50" width="4.8" height="1.300" fill="#46307e"/>
<rect x="217.50" y="234.50" width="4.8" height="1.300" fill="#472d7b"/>
<rect x="217.50" y="235.50" width="4.8" height="1.300" fill="#472a7a"/>
<rect x="217.50" y="236.50" width="4.8" height="1.300" fill="#482677"/>
<rect x="217.50" y="237.50" width="4.8" height="1.300" fill="#482374"/>
<rect x="217.50" y="238.50" width="4.8" height="1.300" fill="#482071"/>
<rect x="217.50" y="239.50" width="4.8" height="1.300" fill="#481c6e"/>
<rect x="217.50" y="240.50" width="4.8" height="1.300" fill="#48186a"/>
<rect x="217.50" y="241.50" width="4.8" height="1.300" fill="#481668"/>
<rect x="217.50" y="242.50" width="4.8" height="1.300" fill="#471164"/>
<rect x="217.50" y="243.50" width="4.8" height="1.300" fill="#470e61"/>
<rect x="217.50" y="244.50" width="4.8" height="1.300" fill="#460a5d"/>
<rect x="217.50" y="245.50" width="4.8" height="1.300" fill="#450559"/>
<rect x="217.50" y="246.50" width="4.8" height="1.300" fill="#440256"/>
<rect x="217.50" y="149.50" width="4.8" height="98.00" fill="none" stroke="#262626" stroke-width="0.9"/>
<g stroke="#262626" stroke-width="0.9">
<line x1="222.30" y1="165.83" x2="225.30" y2="165.83"/>
<line x1="222.30" y1="198.50" x2="225.30" y2="198.50"/>
<line x1="222.30" y1="231.17" x2="225.30" y2="231.17"/>
</g>
<text x="228.90" y="169.13" font-size="9.20" fill="#111" text-anchor="start" textLength="5.1" lengthAdjust="spacingAndGlyphs" >0</text>
<text x="228.90" y="201.80" font-size="9.20" fill="#111" text-anchor="start" textLength="18.2" lengthAdjust="spacingAndGlyphs" >−10</text>
<text x="228.90" y="234.47" font-size="9.20" fill="#111" text-anchor="start" textLength="18.2" lengthAdjust="spacingAndGlyphs" >−20</text>
<text transform="translate(257.80,236.70) rotate(-90)" font-size="8.8" fill="#111" textLength="17.6" lengthAdjust="spacingAndGlyphs">LOS</text>
<text transform="translate(257.80,216.40) rotate(-90)" font-size="8.8" fill="#111" textLength="32.4" lengthAdjust="spacingAndGlyphs">change</text>
<text transform="translate(257.80,181.20) rotate(-90)" font-size="8.8" fill="#111" textLength="20.4" lengthAdjust="spacingAndGlyphs">(cm)</text>
<clipPath id="c11"><rect x="280.10" y="154.50" width="141.30" height="88.00"/></clipPath>
<g stroke="#a8a8a8" stroke-width="1" fill="none">
<line x1="309.10" y1="154.50" x2="309.10" y2="242.50"/>
<line x1="348.55" y1="154.50" x2="348.55" y2="242.50"/>
<line x1="388.00" y1="154.50" x2="388.00" y2="242.50"/>
<line x1="280.10" y1="184.00" x2="421.40" y2="184.00"/>
<line x1="280.10" y1="223.50" x2="421.40" y2="223.50"/>
</g>
<g clip-path="url(#c11)">
<g transform="translate(309.100,184.0) scale(1.00000,1.0128) translate(-96.0,-57.0)">
<use href="#coast"/>
</g>
<g transform="translate(309.100,0) scale(1.00000,1) translate(-96.6,0)">
<circle cx="183.5" cy="160.1" r="1.85" fill="#42be71"/>
<circle cx="186.0" cy="160.1" r="1.85" fill="#24aa83"/>
<circle cx="188.5" cy="160.1" r="1.85" fill="#1e9b8a"/>
<circle cx="191.0" cy="160.1" r="1.85" fill="#20928c"/>
<circle cx="193.5" cy="160.1" r="1.85" fill="#21908d"/>
<circle cx="196.0" cy="160.1" r="1.85" fill="#218f8d"/>
<circle cx="198.5" cy="160.1" r="1.85" fill="#21918c"/>
<circle cx="177.2" cy="162.2" r="1.85" fill="#93d741"/>
<circle cx="179.7" cy="162.2" r="1.85" fill="#7cd250"/>
<circle cx="182.2" cy="162.2" r="1.85" fill="#63cb5f"/>
<circle cx="184.7" cy="162.2" r="1.85" fill="#4cc26c"/>
<circle cx="187.2" cy="162.2" r="1.85" fill="#2eb37c"/>
<circle cx="189.7" cy="162.2" r="1.85" fill="#26ad81"/>
<circle cx="192.2" cy="162.2" r="1.85" fill="#22a884"/>
<circle cx="194.7" cy="162.2" r="1.85" fill="#22a785"/>
<circle cx="197.2" cy="162.2" r="1.85" fill="#25ab82"/>
<circle cx="199.7" cy="162.2" r="1.85" fill="#24aa83"/>
<circle cx="202.2" cy="162.2" r="1.85" fill="#2eb37c"/>
<circle cx="166.0" cy="164.4" r="1.85" fill="#bddf26"/>
<circle cx="168.5" cy="164.4" r="1.85" fill="#c2df23"/>
<circle cx="171.0" cy="164.4" r="1.85" fill="#c5e021"/>
<circle cx="173.5" cy="164.4" r="1.85" fill="#c8e020"/>
<circle cx="176.0" cy="164.4" r="1.85" fill="#b2dd2d"/>
<circle cx="178.5" cy="164.4" r="1.85" fill="#9bd93c"/>
<circle cx="181.0" cy="164.4" r="1.85" fill="#86d549"/>
<circle cx="183.5" cy="164.4" r="1.85" fill="#69cd5b"/>
<circle cx="186.0" cy="164.4" r="1.85" fill="#54c568"/>
<circle cx="188.5" cy="164.4" r="1.85" fill="#46c06f"/>
<circle cx="191.0" cy="164.4" r="1.85" fill="#40bd72"/>
<circle cx="193.5" cy="164.4" r="1.85" fill="#48c16e"/>
<circle cx="196.0" cy="164.4" r="1.85" fill="#4ec36b"/>
<circle cx="198.5" cy="164.4" r="1.85" fill="#4ac16d"/>
<circle cx="201.0" cy="164.4" r="1.85" fill="#4cc26c"/>
<circle cx="203.5" cy="164.4" r="1.85" fill="#5ac864"/>
<circle cx="159.7" cy="166.6" r="1.85" fill="#b5de2b"/>
<circle cx="162.2" cy="166.6" r="1.85" fill="#bddf26"/>
<circle cx="164.7" cy="166.6" r="1.85" fill="#bddf26"/>
<circle cx="167.2" cy="166.6" r="1.85" fill="#c8e020"/>
<circle cx="169.7" cy="166.6" r="1.85" fill="#cde11d"/>
<circle cx="172.2" cy="166.6" r="1.85" fill="#c5e021"/>
<circle cx="174.7" cy="166.6" r="1.85" fill="#bade28"/>
<circle cx="177.2" cy="166.6" r="1.85" fill="#b0dd2f"/>
<circle cx="179.7" cy="166.6" r="1.85" fill="#a0da39"/>
<circle cx="182.2" cy="166.6" r="1.85" fill="#86d549"/>
<circle cx="184.7" cy="166.6" r="1.85" fill="#7ad151"/>
<circle cx="187.2" cy="166.6" r="1.85" fill="#69cd5b"/>
<circle cx="189.7" cy="166.6" r="1.85" fill="#60ca60"/>
<circle cx="192.2" cy="166.6" r="1.85" fill="#5ec962"/>
<circle cx="194.7" cy="166.6" r="1.85" fill="#69cd5b"/>
<circle cx="197.2" cy="166.6" r="1.85" fill="#69cd5b"/>
<circle cx="199.7" cy="166.6" r="1.85" fill="#67cc5c"/>
<circle cx="202.2" cy="166.6" r="1.85" fill="#67cc5c"/>
<circle cx="156.0" cy="168.7" r="1.85" fill="#b0dd2f"/>
<circle cx="158.5" cy="168.7" r="1.85" fill="#b0dd2f"/>
<circle cx="161.0" cy="168.7" r="1.85" fill="#b2dd2d"/>
<circle cx="163.5" cy="168.7" r="1.85" fill="#bddf26"/>
<circle cx="166.0" cy="168.7" r="1.85" fill="#bddf26"/>
<circle cx="168.5" cy="168.7" r="1.85" fill="#c0df25"/>
<circle cx="171.0" cy="168.7" r="1.85" fill="#c0df25"/>
<circle cx="173.5" cy="168.7" r="1.85" fill="#c2df23"/>
<circle cx="176.0" cy="168.7" r="1.85" fill="#addc30"/>
<circle cx="178.5" cy="168.7" r="1.85" fill="#a2da37"/>
<circle cx="181.0" cy="168.7" r="1.85" fill="#98d83e"/>
<circle cx="186.0" cy="168.7" r="1.85" fill="#89d548"/>
<circle cx="188.5" cy="168.7" r="1.85" fill="#7cd250"/>
<circle cx="191.0" cy="168.7" r="1.85" fill="#7ad151"/>
<circle cx="193.5" cy="168.7" r="1.85" fill="#7cd250"/>
<circle cx="196.0" cy="168.7" r="1.85" fill="#84d44b"/>
<circle cx="198.5" cy="168.7" r="1.85" fill="#7cd250"/>
<circle cx="201.0" cy="168.7" r="1.85" fill="#81d34d"/>
<circle cx="203.5" cy="168.7" r="1.85" fill="#7fd34e"/>
<circle cx="152.2" cy="170.9" r="1.85" fill="#a8db34"/>
<circle cx="154.7" cy="170.9" r="1.85" fill="#addc30"/>
<circle cx="157.2" cy="170.9" r="1.85" fill="#b2dd2d"/>
<circle cx="159.7" cy="170.9" r="1.85" fill="#b8de29"/>
<circle cx="162.2" cy="170.9" r="1.85" fill="#b2dd2d"/>
<circle cx="164.7" cy="170.9" r="1.85" fill="#b8de29"/>
<circle cx="167.2" cy="170.9" r="1.85" fill="#b8de29"/>
<circle cx="174.7" cy="170.9" r="1.85" fill="#bddf26"/>
<circle cx="177.2" cy="170.9" r="1.85" fill="#aadc32"/>
<circle cx="179.7" cy="170.9" r="1.85" fill="#a2da37"/>
<circle cx="187.2" cy="170.9" r="1.85" fill="#90d743"/>
<circle cx="189.7" cy="170.9" r="1.85" fill="#8ed645"/>
<circle cx="192.2" cy="170.9" r="1.85" fill="#86d549"/>
<circle cx="151.0" cy="173.1" r="1.85" fill="#a5db36"/>
<circle cx="153.5" cy="173.1" r="1.85" fill="#addc30"/>
<circle cx="156.0" cy="173.1" r="1.85" fill="#a5db36"/>
<circle cx="158.5" cy="173.1" r="1.85" fill="#b2dd2d"/>
<circle cx="161.0" cy="173.1" r="1.85" fill="#b2dd2d"/>
<circle cx="163.5" cy="173.1" r="1.85" fill="#b2dd2d"/>
<circle cx="166.0" cy="173.1" r="1.85" fill="#b0dd2f"/>
<circle cx="168.5" cy="173.1" r="1.85" fill="#bade28"/>
<circle cx="173.5" cy="173.1" r="1.85" fill="#bade28"/>
<circle cx="176.0" cy="173.1" r="1.85" fill="#b5de2b"/>
<circle cx="178.5" cy="173.1" r="1.85" fill="#aadc32"/>
<circle cx="181.0" cy="173.1" r="1.85" fill="#a0da39"/>
<circle cx="147.2" cy="175.2" r="1.85" fill="#aadc32"/>
<circle cx="149.7" cy="175.2" r="1.85" fill="#aadc32"/>
<circle cx="152.2" cy="175.2" r="1.85" fill="#a0da39"/>
<circle cx="154.7" cy="175.2" r="1.85" fill="#a2da37"/>
<circle cx="157.2" cy="175.2" r="1.85" fill="#aadc32"/>
<circle cx="159.7" cy="175.2" r="1.85" fill="#addc30"/>
<circle cx="162.2" cy="175.2" r="1.85" fill="#b0dd2f"/>
<circle cx="164.7" cy="175.2" r="1.85" fill="#b5de2b"/>
<circle cx="167.2" cy="175.2" r="1.85" fill="#b0dd2f"/>
<circle cx="169.7" cy="175.2" r="1.85" fill="#b2dd2d"/>
<circle cx="172.2" cy="175.2" r="1.85" fill="#b8de29"/>
<circle cx="174.7" cy="175.2" r="1.85" fill="#b8de29"/>
<circle cx="177.2" cy="175.2" r="1.85" fill="#addc30"/>
<circle cx="143.5" cy="177.4" r="1.85" fill="#a0da39"/>
<circle cx="146.0" cy="177.4" r="1.85" fill="#a2da37"/>
<circle cx="148.5" cy="177.4" r="1.85" fill="#a8db34"/>
<circle cx="151.0" cy="177.4" r="1.85" fill="#a5db36"/>
<circle cx="153.5" cy="177.4" r="1.85" fill="#a8db34"/>
<circle cx="156.0" cy="177.4" r="1.85" fill="#a5db36"/>
<circle cx="158.5" cy="177.4" r="1.85" fill="#a5db36"/>
<circle cx="161.0" cy="177.4" r="1.85" fill="#b0dd2f"/>
<circle cx="163.5" cy="177.4" r="1.85" fill="#a8db34"/>
<circle cx="166.0" cy="177.4" r="1.85" fill="#b0dd2f"/>
<circle cx="173.5" cy="177.4" r="1.85" fill="#aadc32"/>
<circle cx="176.0" cy="177.4" r="1.85" fill="#b2dd2d"/>
<circle cx="137.2" cy="179.6" r="1.85" fill="#9bd93c"/>
<circle cx="139.7" cy="179.6" r="1.85" fill="#9dd93b"/>
<circle cx="142.2" cy="179.6" r="1.85" fill="#a0da39"/>
<circle cx="157.2" cy="179.6" r="1.85" fill="#aadc32"/>
<circle cx="159.7" cy="179.6" r="1.85" fill="#b0dd2f"/>
<circle cx="162.2" cy="179.6" r="1.85" fill="#b0dd2f"/>
<circle cx="164.7" cy="179.6" r="1.85" fill="#a5db36"/>
<circle cx="167.2" cy="179.6" r="1.85" fill="#aadc32"/>
<circle cx="172.2" cy="179.6" r="1.85" fill="#aadc32"/>
<circle cx="174.7" cy="179.6" r="1.85" fill="#a8db34"/>
<circle cx="131.0" cy="181.7" r="1.85" fill="#a8db34"/>
<circle cx="133.5" cy="181.7" r="1.85" fill="#a0da39"/>
<circle cx="136.0" cy="181.7" r="1.85" fill="#a5db36"/>
<circle cx="138.5" cy="181.7" r="1.85" fill="#9dd93b"/>
<circle cx="158.5" cy="181.7" r="1.85" fill="#a5db36"/>
<circle cx="161.0" cy="181.7" r="1.85" fill="#addc30"/>
<circle cx="163.5" cy="181.7" r="1.85" fill="#a2da37"/>
<circle cx="166.0" cy="181.7" r="1.85" fill="#a8db34"/>
<circle cx="168.5" cy="181.7" r="1.85" fill="#addc30"/>
<circle cx="171.0" cy="181.7" r="1.85" fill="#a5db36"/>
<circle cx="173.5" cy="181.7" r="1.85" fill="#a8db34"/>
<circle cx="117.2" cy="183.9" r="1.85" fill="#a0da39"/>
<circle cx="119.7" cy="183.9" r="1.85" fill="#a0da39"/>
<circle cx="124.7" cy="183.9" r="1.85" fill="#a0da39"/>
<circle cx="127.2" cy="183.9" r="1.85" fill="#a0da39"/>
<circle cx="129.7" cy="183.9" r="1.85" fill="#9dd93b"/>
<circle cx="132.2" cy="183.9" r="1.85" fill="#9dd93b"/>
<circle cx="134.7" cy="183.9" r="1.85" fill="#9dd93b"/>
<circle cx="162.2" cy="183.9" r="1.85" fill="#a5db36"/>
<circle cx="164.7" cy="183.9" r="1.85" fill="#a5db36"/>
<circle cx="167.2" cy="183.9" r="1.85" fill="#a2da37"/>
<circle cx="169.7" cy="183.9" r="1.85" fill="#a2da37"/>
<circle cx="172.2" cy="183.9" r="1.85" fill="#aadc32"/>
<circle cx="116.0" cy="186.1" r="1.85" fill="#a5db36"/>
<circle cx="118.5" cy="186.1" r="1.85" fill="#a0da39"/>
<circle cx="121.0" cy="186.1" r="1.85" fill="#a5db36"/>
<circle cx="123.5" cy="186.1" r="1.85" fill="#9dd93b"/>
<circle cx="126.0" cy="186.1" r="1.85" fill="#a2da37"/>
<circle cx="128.5" cy="186.1" r="1.85" fill="#9dd93b"/>
<circle cx="131.0" cy="186.1" r="1.85" fill="#a8db34"/>
<circle cx="133.5" cy="186.1" r="1.85" fill="#9dd93b"/>
<circle cx="166.0" cy="186.1" r="1.85" fill="#a5db36"/>
<circle cx="117.2" cy="188.2" r="1.85" fill="#a5db36"/>
<circle cx="119.7" cy="188.2" r="1.85" fill="#a2da37"/>
<circle cx="122.2" cy="188.2" r="1.85" fill="#a0da39"/>
<circle cx="124.7" cy="188.2" r="1.85" fill="#a5db36"/>
<circle cx="127.2" cy="188.2" r="1.85" fill="#a0da39"/>
<circle cx="129.7" cy="188.2" r="1.85" fill="#9dd93b"/>
<circle cx="116.0" cy="190.4" r="1.85" fill="#a8db34"/>
<circle cx="118.5" cy="190.4" r="1.85" fill="#9dd93b"/>
<circle cx="121.0" cy="190.4" r="1.85" fill="#a5db36"/>
<circle cx="117.2" cy="192.6" r="1.85" fill="#a0da39"/>
<circle cx="119.7" cy="192.6" r="1.85" fill="#a2da37"/>
<circle cx="116.0" cy="194.7" r="1.85" fill="#a5db36"/>
<circle cx="118.5" cy="194.7" r="1.85" fill="#a0da39"/>
<circle cx="117.2" cy="196.9" r="1.85" fill="#a5db36"/>
<circle cx="119.7" cy="196.9" r="1.85" fill="#a2da37"/>
<circle cx="116.0" cy="199.1" r="1.85" fill="#9bd93c"/>
<circle cx="118.5" cy="199.1" r="1.85" fill="#a2da37"/>
<circle cx="115.0" cy="182.3" r="1.85" fill="#a0da39"/>
<circle cx="114.9" cy="184.9" r="1.85" fill="#9dd93b"/>
<circle cx="114.8" cy="187.4" r="1.85" fill="#a5db36"/>
<circle cx="114.7" cy="190.0" r="1.85" fill="#a2da37"/>
<circle cx="114.7" cy="192.9" r="1.85" fill="#9dd93b"/>
<circle cx="114.8" cy="195.8" r="1.85" fill="#a5db36"/>
<circle cx="114.8" cy="198.7" r="1.85" fill="#a5db36"/>
<circle cx="116.6" cy="200.2" r="1.85" fill="#a8db34"/>
<circle cx="119.6" cy="200.2" r="1.85" fill="#a8db34"/>
<circle cx="120.7" cy="198.5" r="1.85" fill="#a2da37"/>
<circle cx="120.9" cy="195.5" r="1.85" fill="#a0da39"/>
<circle cx="121.0" cy="192.4" r="1.85" fill="#a2da37"/>
<circle cx="121.0" cy="192.3" r="1.85" fill="#a5db36"/>
<circle cx="121.0" cy="192.1" r="1.85" fill="#9dd93b"/>
<circle cx="121.1" cy="191.9" r="1.85" fill="#a5db36"/>
<circle cx="121.2" cy="191.8" r="1.85" fill="#a5db36"/>
<circle cx="121.2" cy="191.7" r="1.85" fill="#a8db34"/>
<circle cx="121.3" cy="191.5" r="1.85" fill="#a2da37"/>
<circle cx="121.4" cy="191.4" r="1.85" fill="#9dd93b"/>
<circle cx="123.3" cy="189.4" r="1.85" fill="#9dd93b"/>
<circle cx="123.5" cy="189.3" r="1.85" fill="#a2da37"/>
<circle cx="123.6" cy="189.2" r="1.85" fill="#9dd93b"/>
<circle cx="123.7" cy="189.1" r="1.85" fill="#a0da39"/>
<circle cx="123.8" cy="189.0" r="1.85" fill="#9bd93c"/>
<circle cx="124.0" cy="189.0" r="1.85" fill="#a2da37"/>
<circle cx="124.1" cy="188.9" r="1.85" fill="#a2da37"/>
<circle cx="124.3" cy="188.9" r="1.85" fill="#a8db34"/>
<circle cx="124.4" cy="188.9" r="1.85" fill="#a0da39"/>
<circle cx="124.6" cy="188.9" r="1.85" fill="#9bd93c"/>
<circle cx="124.7" cy="188.9" r="1.85" fill="#a0da39"/>
<circle cx="126.7" cy="189.2" r="1.85" fill="#9dd93b"/>
<circle cx="128.7" cy="189.5" r="1.85" fill="#a0da39"/>
<circle cx="131.0" cy="188.1" r="1.85" fill="#9dd93b"/>
<circle cx="133.4" cy="186.7" r="1.85" fill="#a0da39"/>
<circle cx="135.1" cy="185.4" r="1.85" fill="#9dd93b"/>
<circle cx="136.9" cy="184.0" r="1.85" fill="#9dd93b"/>
<circle cx="138.6" cy="182.7" r="1.85" fill="#a2da37"/>
<circle cx="138.7" cy="182.7" r="1.85" fill="#a2da37"/>
<circle cx="141.3" cy="180.8" r="1.85" fill="#a5db36"/>
<circle cx="143.9" cy="178.9" r="1.85" fill="#a8db34"/>
<circle cx="144.0" cy="178.8" r="1.85" fill="#a5db36"/>
<circle cx="144.1" cy="178.7" r="1.85" fill="#a2da37"/>
<circle cx="144.3" cy="178.7" r="1.85" fill="#a5db36"/>
<circle cx="144.4" cy="178.6" r="1.85" fill="#a5db36"/>
<circle cx="144.6" cy="178.6" r="1.85" fill="#a0da39"/>
<circle cx="147.2" cy="178.3" r="1.85" fill="#a0da39"/>
<circle cx="149.8" cy="177.9" r="1.85" fill="#a8db34"/>
<circle cx="149.9" cy="177.9" r="1.85" fill="#a8db34"/>
<circle cx="150.1" cy="177.9" r="1.85" fill="#a8db34"/>
<circle cx="150.2" cy="177.9" r="1.85" fill="#9dd93b"/>
<circle cx="150.4" cy="177.9" r="1.85" fill="#aadc32"/>
<circle cx="150.5" cy="178.0" r="1.85" fill="#9dd93b"/>
<circle cx="153.5" cy="179.0" r="1.85" fill="#a8db34"/>
<circle cx="156.5" cy="180.0" r="1.85" fill="#aadc32"/>
<circle cx="156.7" cy="180.0" r="1.85" fill="#aadc32"/>
<circle cx="156.8" cy="180.1" r="1.85" fill="#a0da39"/>
<circle cx="156.9" cy="180.2" r="1.85" fill="#addc30"/>
<circle cx="157.1" cy="180.3" r="1.85" fill="#a5db36"/>
<circle cx="157.2" cy="180.4" r="1.85" fill="#a2da37"/>
<circle cx="159.0" cy="182.5" r="1.85" fill="#addc30"/>
<circle cx="160.9" cy="184.6" r="1.85" fill="#a5db36"/>
<circle cx="163.5" cy="185.4" r="1.85" fill="#a8db34"/>
<circle cx="166.1" cy="186.2" r="1.85" fill="#a0da39"/>
<circle cx="168.8" cy="185.6" r="1.85" fill="#aadc32"/>
<circle cx="171.5" cy="185.0" r="1.85" fill="#aadc32"/>
<circle cx="173.3" cy="183.5" r="1.85" fill="#aadc32"/>
<circle cx="175.2" cy="182.0" r="1.85" fill="#a5db36"/>
<circle cx="175.9" cy="180.0" r="1.85" fill="#aadc32"/>
<circle cx="176.7" cy="178.0" r="1.85" fill="#addc30"/>
<circle cx="177.5" cy="175.9" r="1.85" fill="#b0dd2f"/>
<circle cx="177.6" cy="175.8" r="1.85" fill="#aadc32"/>
<circle cx="177.6" cy="175.7" r="1.85" fill="#aadc32"/>
<circle cx="177.7" cy="175.5" r="1.85" fill="#aadc32"/>
<circle cx="177.8" cy="175.4" r="1.85" fill="#addc30"/>
<circle cx="177.9" cy="175.3" r="1.85" fill="#b0dd2f"/>
<circle cx="178.0" cy="175.2" r="1.85" fill="#addc30"/>
<circle cx="178.2" cy="175.1" r="1.85" fill="#b0dd2f"/>
<circle cx="178.3" cy="175.1" r="1.85" fill="#a8db34"/>
<circle cx="180.3" cy="174.1" r="1.85" fill="#aadc32"/>
<circle cx="182.3" cy="173.1" r="1.85" fill="#a0da39"/>
<circle cx="184.6" cy="172.1" r="1.85" fill="#98d83e"/>
<circle cx="184.7" cy="172.0" r="1.85" fill="#9bd93c"/>
<circle cx="184.9" cy="172.0" r="1.85" fill="#95d840"/>
<circle cx="187.3" cy="171.8" r="1.85" fill="#8bd646"/>
<circle cx="189.8" cy="171.6" r="1.85" fill="#8bd646"/>
<circle cx="192.3" cy="171.0" r="1.85" fill="#8bd646"/>
<circle cx="194.8" cy="170.5" r="1.85" fill="#86d549"/>
<circle cx="197.6" cy="169.2" r="1.85" fill="#86d549"/>
<circle cx="197.8" cy="169.1" r="1.85" fill="#81d34d"/>
<circle cx="197.9" cy="169.0" r="1.85" fill="#81d34d"/>
<circle cx="198.1" cy="169.0" r="1.85" fill="#89d548"/>
<circle cx="198.2" cy="169.0" r="1.85" fill="#81d34d"/>
<circle cx="198.4" cy="169.0" r="1.85" fill="#81d34d"/>
<circle cx="198.6" cy="169.0" r="1.85" fill="#7fd34e"/>
<circle cx="198.7" cy="169.1" r="1.85" fill="#81d34d"/>
<circle cx="201.6" cy="169.8" r="1.85" fill="#89d548"/>
<circle cx="203.6" cy="170.1" r="1.85" fill="#84d44b"/>
<circle cx="204.4" cy="168.7" r="1.85" fill="#7fd34e"/>
<circle cx="204.2" cy="166.6" r="1.85" fill="#6ece58"/>
<circle cx="204.0" cy="164.5" r="1.85" fill="#5ac864"/>
<circle cx="203.1" cy="161.9" r="1.85" fill="#2db27d"/>
<circle cx="201.4" cy="160.6" r="1.85" fill="#1fa187"/>
<circle cx="199.6" cy="159.3" r="1.85" fill="#23888e"/>
<circle cx="196.9" cy="158.9" r="1.85" fill="#26818e"/>
<circle cx="194.1" cy="158.4" r="1.85" fill="#287c8e"/>
<circle cx="191.7" cy="158.2" r="1.85" fill="#287c8e"/>
<circle cx="189.3" cy="157.9" r="1.85" fill="#24878e"/>
<circle cx="186.4" cy="158.5" r="1.85" fill="#1e9d89"/>
<circle cx="183.7" cy="159.5" r="1.85" fill="#38b977"/>
<circle cx="183.7" cy="159.5" r="1.85" fill="#3aba76"/>
<circle cx="181.1" cy="160.3" r="1.85" fill="#67cc5c"/>
<circle cx="178.6" cy="161.0" r="1.85" fill="#86d549"/>
<circle cx="175.7" cy="162.3" r="1.85" fill="#a8db34"/>
<circle cx="175.6" cy="162.3" r="1.85" fill="#a5db36"/>
<circle cx="175.5" cy="162.4" r="1.85" fill="#addc30"/>
<circle cx="173.4" cy="162.9" r="1.85" fill="#bddf26"/>
<circle cx="171.4" cy="163.4" r="1.85" fill="#c8e020"/>
<circle cx="171.2" cy="163.4" r="1.85" fill="#cae11f"/>
<circle cx="169.2" cy="163.6" r="1.85" fill="#d0e11c"/>
<circle cx="167.2" cy="163.9" r="1.85" fill="#c8e020"/>
<circle cx="164.4" cy="164.4" r="1.85" fill="#bddf26"/>
<circle cx="161.5" cy="164.9" r="1.85" fill="#b2dd2d"/>
<circle cx="158.9" cy="166.2" r="1.85" fill="#b0dd2f"/>
<circle cx="156.2" cy="167.5" r="1.85" fill="#addc30"/>
<circle cx="154.3" cy="168.9" r="1.85" fill="#a8db34"/>
<circle cx="152.4" cy="170.3" r="1.85" fill="#a8db34"/>
<circle cx="150.5" cy="172.2" r="1.85" fill="#a8db34"/>
<circle cx="148.6" cy="174.1" r="1.85" fill="#9dd93b"/>
<circle cx="148.5" cy="174.2" r="1.85" fill="#a2da37"/>
<circle cx="148.4" cy="174.3" r="1.85" fill="#a8db34"/>
<circle cx="148.2" cy="174.4" r="1.85" fill="#9dd93b"/>
<circle cx="145.2" cy="175.9" r="1.85" fill="#a8db34"/>
<circle cx="143.4" cy="176.9" r="1.85" fill="#a2da37"/>
<circle cx="141.6" cy="177.8" r="1.85" fill="#a0da39"/>
<circle cx="141.5" cy="177.9" r="1.85" fill="#a2da37"/>
<circle cx="141.4" cy="177.9" r="1.85" fill="#9dd93b"/>
<circle cx="139.2" cy="178.6" r="1.85" fill="#a0da39"/>
<circle cx="137.0" cy="179.3" r="1.85" fill="#a0da39"/>
<circle cx="134.8" cy="179.9" r="1.85" fill="#9bd93c"/>
<circle cx="132.6" cy="180.6" r="1.85" fill="#a2da37"/>
<circle cx="130.5" cy="181.2" r="1.85" fill="#a8db34"/>
<circle cx="128.3" cy="181.9" r="1.85" fill="#a8db34"/>
<circle cx="125.8" cy="183.2" r="1.85" fill="#9dd93b"/>
<circle cx="123.2" cy="184.4" r="1.85" fill="#a8db34"/>
<circle cx="123.1" cy="184.5" r="1.85" fill="#a8db34"/>
<circle cx="122.9" cy="184.5" r="1.85" fill="#a0da39"/>
<circle cx="122.8" cy="184.6" r="1.85" fill="#a2da37"/>
<circle cx="122.6" cy="184.6" r="1.85" fill="#a2da37"/>
<circle cx="122.4" cy="184.6" r="1.85" fill="#9dd93b"/>
<circle cx="122.3" cy="184.6" r="1.85" fill="#9dd93b"/>
<circle cx="122.1" cy="184.5" r="1.85" fill="#9dd93b"/>
<circle cx="121.9" cy="184.5" r="1.85" fill="#a5db36"/>
<circle cx="121.8" cy="184.4" r="1.85" fill="#9bd93c"/>
<circle cx="121.7" cy="184.4" r="1.85" fill="#a5db36"/>
<circle cx="118.7" cy="182.5" r="1.85" fill="#9dd93b"/>
<circle cx="115.9" cy="182.0" r="1.85" fill="#9dd93b"/>
<circle cx="115.0" cy="182.3" r="1.85" fill="#a0da39"/>
<circle cx="164.5" cy="202.9" r="1.85" fill="#95d840"/>
<circle cx="167.3" cy="202.9" r="1.85" fill="#a2da37"/>
<circle cx="170.2" cy="202.9" r="1.85" fill="#9dd93b"/>
<circle cx="173.0" cy="202.9" r="1.85" fill="#9bd93c"/>
<circle cx="175.8" cy="202.9" r="1.85" fill="#95d840"/>
<circle cx="178.7" cy="202.9" r="1.85" fill="#9bd93c"/>
<circle cx="181.5" cy="202.9" r="1.85" fill="#98d83e"/>
<circle cx="165.8" cy="204.2" r="1.85" fill="#95d840"/>
<circle cx="168.8" cy="204.2" r="1.85" fill="#a2da37"/>
<circle cx="171.8" cy="204.2" r="1.85" fill="#9bd93c"/>
<circle cx="174.8" cy="204.2" r="1.85" fill="#9dd93b"/>
<circle cx="177.8" cy="204.2" r="1.85" fill="#95d840"/>
<circle cx="180.8" cy="204.2" r="1.85" fill="#a0da39"/>
<circle cx="181.5" cy="198.9" r="1.85" fill="#9dd93b"/>
<circle cx="160.6" cy="198.3" r="1.85" fill="#a5db36"/>
<circle cx="136.2" cy="208.8" r="1.85" fill="#a5db36"/>
<circle cx="144.9" cy="207.0" r="1.85" fill="#a8db34"/>
<circle cx="149.0" cy="206.5" r="1.85" fill="#a5db36"/>
<circle cx="146.6" cy="208.8" r="1.85" fill="#a0da39"/>
<circle cx="146.6" cy="212.3" r="1.85" fill="#a0da39"/>
<circle cx="151.3" cy="211.1" r="1.85" fill="#9dd93b"/>
<circle cx="151.3" cy="213.4" r="1.85" fill="#9dd93b"/>
<circle cx="150.1" cy="214.6" r="1.85" fill="#a0da39"/>
<circle cx="150.1" cy="196.0" r="1.85" fill="#a2da37"/>
<circle cx="118.6" cy="201.2" r="1.85" fill="#9dd93b"/>
<circle cx="124.8" cy="200.6" r="1.85" fill="#9dd93b"/>
<circle cx="118.6" cy="205.6" r="1.85" fill="#9dd93b"/>
<circle cx="125.4" cy="205.6" r="1.85" fill="#a2da37"/>
<circle cx="127.3" cy="210.5" r="1.85" fill="#a0da39"/>
<circle cx="123.5" cy="214.3" r="1.85" fill="#a0da39"/>
<circle cx="127.9" cy="214.3" r="1.85" fill="#9dd93b"/>
<circle cx="181.2" cy="177.5" r="1.85" fill="#a8db34"/>
<circle cx="187.2" cy="177.5" r="1.85" fill="#98d83e"/>
<circle cx="190.2" cy="176.5" r="1.85" fill="#9dd93b"/>
<circle cx="196.3" cy="176.5" r="1.85" fill="#9dd93b"/>
<circle cx="176.1" cy="186.1" r="1.85" fill="#a5db36"/>
<circle cx="181.7" cy="184.6" r="1.85" fill="#a2da37"/>
<circle cx="180.2" cy="189.6" r="1.85" fill="#a2da37"/>
<circle cx="183.2" cy="189.6" r="1.85" fill="#a0da39"/>
<circle cx="184.2" cy="193.1" r="1.85" fill="#9bd93c"/>
<circle cx="187.7" cy="192.6" r="1.85" fill="#9dd93b"/>
<circle cx="186.7" cy="194.2" r="1.85" fill="#a0da39"/>
<circle cx="174.6" cy="191.6" r="1.85" fill="#a0da39"/>
<circle cx="167.6" cy="191.6" r="1.85" fill="#a0da39"/>
<circle cx="161.5" cy="191.6" r="1.85" fill="#a0da39"/>
<circle cx="146.6" cy="184.9" r="1.85" fill="#9bd93c"/>
<circle cx="153.6" cy="184.9" r="1.85" fill="#a5db36"/>
<circle cx="136.1" cy="195.3" r="1.85" fill="#9bd93c"/>
<circle cx="125.1" cy="195.6" r="1.85" fill="#a8db34"/>
<circle cx="127.1" cy="200.7" r="1.85" fill="#a8db34"/>
<circle cx="158.4" cy="186.1" r="1.85" fill="#a5db36"/>
<circle cx="159.9" cy="191.1" r="1.85" fill="#9bd93c"/>
<circle cx="126.6" cy="213.4" r="1.85" fill="#a0da39"/>
<circle cx="195.3" cy="170.6" r="1.85" fill="#86d549"/>
<circle cx="183.2" cy="173.2" r="1.85" fill="#9bd93c"/>
</g>
<g transform="translate(212.50,0)">
<text transform="translate(180.2,215.9) rotate(10)" font-size="9.5" fill="#111" textLength="18.5" lengthAdjust="spacingAndGlyphs">LOS</text>
<text transform="translate(170.5,223.0) rotate(12.2)" font-size="9.5" fill="#111" textLength="35.7" lengthAdjust="spacingAndGlyphs">direction</text>
<path d="M200.6 238.3 L175 233.6" stroke="#000" stroke-width="3.2" fill="none"/>
<path d="M182 230.1 L174.3 233.3 L179.6 239.2" stroke="#000" stroke-width="3.0" fill="none" stroke-linejoin="miter"/>
</g>
</g>
<rect x="280.10" y="154.50" width="141.30" height="88.00" fill="none" stroke="#262626" stroke-width="1"/>
<g stroke="#262626" stroke-width="0.9">
<line x1="309.50" y1="242.50" x2="309.50" y2="245.80"/>
<line x1="348.50" y1="242.50" x2="348.50" y2="245.80"/>
<line x1="388.50" y1="242.50" x2="388.50" y2="245.80"/>
</g>
<text x="309.05" y="256.70" font-size="10.70" fill="#111" text-anchor="middle" textLength="41.3" lengthAdjust="spacingAndGlyphs" >136.8°E</text>
<text x="348.35" y="256.70" font-size="10.70" fill="#111" text-anchor="middle" textLength="31.0" lengthAdjust="spacingAndGlyphs" >137°E</text>
<text x="388.40" y="256.70" font-size="10.70" fill="#111" text-anchor="middle" textLength="41.3" lengthAdjust="spacingAndGlyphs" >137.2°E</text>
<rect x="430.00" y="149.50" width="4.8" height="1.300" fill="#fbe723"/>
<rect x="430.00" y="150.50" width="4.8" height="1.300" fill="#f6e620"/>
<rect x="430.00" y="151.50" width="4.8" height="1.300" fill="#efe51c"/>
<rect x="430.00" y="152.50" width="4.8" height="1.300" fill="#e7e419"/>
<rect x="430.00" y="153.50" width="4.8" height="1.300" fill="#e2e418"/>
<rect x="430.00" y="154.50" width="4.8" height="1.300" fill="#dae319"/>
<rect x="430.00" y="155.50" width="4.8" height="1.300" fill="#d5e21a"/>
<rect x="430.00" y="156.50" width="4.8" height="1.300" fill="#cde11d"/>
<rect x="430.00" y="157.50" width="4.8" height="1.300" fill="#c5e021"/>
<rect x="430.00" y="158.50" width="4.8" height="1.300" fill="#c0df25"/>
<rect x="430.00" y="159.50" width="4.8" height="1.300" fill="#b8de29"/>
<rect x="430.00" y="160.50" width="4.8" height="1.300" fill="#b0dd2f"/>
<rect x="430.00" y="161.50" width="4.8" height="1.300" fill="#aadc32"/>
<rect x="430.00" y="162.50" width="4.8" height="1.300" fill="#a2da37"/>
<rect x="430.00" y="163.50" width="4.8" height="1.300" fill="#9dd93b"/>
<rect x="430.00" y="164.50" width="4.8" height="1.300" fill="#95d840"/>
<rect x="430.00" y="165.50" width="4.8" height="1.300" fill="#8ed645"/>
<rect x="430.00" y="166.50" width="4.8" height="1.300" fill="#89d548"/>
<rect x="430.00" y="167.50" width="4.8" height="1.300" fill="#81d34d"/>
<rect x="430.00" y="168.50" width="4.8" height="1.300" fill="#7cd250"/>
<rect x="430.00" y="169.50" width="4.8" height="1.300" fill="#75d054"/>
<rect x="430.00" y="170.50" width="4.8" height="1.300" fill="#6ece58"/>
<rect x="430.00" y="171.50" width="4.8" height="1.300" fill="#69cd5b"/>
<rect x="430.00" y="172.50" width="4.8" height="1.300" fill="#63cb5f"/>
<rect x="430.00" y="173.50" width="4.8" height="1.300" fill="#5ec962"/>
<rect x="430.00" y="174.50" width="4.8" height="1.300" fill="#58c765"/>
<rect x="430.00" y="175.50" width="4.8" height="1.300" fill="#52c569"/>
<rect x="430.00" y="176.50" width="4.8" height="1.300" fill="#4ec36b"/>
<rect x="430.00" y="177.50" width="4.8" height="1.300" fill="#48c16e"/>
<rect x="430.00" y="178.50" width="4.8" height="1.300" fill="#42be71"/>
<rect x="430.00" y="179.50" width="4.8" height="1.300" fill="#3fbc73"/>
<rect x="430.00" y="180.50" width="4.8" height="1.300" fill="#3aba76"/>
<rect x="430.00" y="181.50" width="4.8" height="1.300" fill="#37b878"/>
<rect x="430.00" y="182.50" width="4.8" height="1.300" fill="#32b67a"/>
<rect x="430.00" y="183.50" width="4.8" height="1.300" fill="#2eb37c"/>
<rect x="430.00" y="184.50" width="4.8" height="1.300" fill="#2cb17e"/>
<rect x="430.00" y="185.50" width="4.8" height="1.300" fill="#28ae80"/>
<rect x="430.00" y="186.50" width="4.8" height="1.300" fill="#26ad81"/>
<rect x="430.00" y="187.50" width="4.8" height="1.300" fill="#24aa83"/>
<rect x="430.00" y="188.50" width="4.8" height="1.300" fill="#22a785"/>
<rect x="430.00" y="189.50" width="4.8" height="1.300" fill="#21a585"/>
<rect x="430.00" y="190.50" width="4.8" height="1.300" fill="#1fa287"/>
<rect x="430.00" y="191.50" width="4.8" height="1.300" fill="#1fa088"/>
<rect x="430.00" y="192.50" width="4.8" height="1.300" fill="#1f9e89"/>
<rect x="430.00" y="193.50" width="4.8" height="1.300" fill="#1e9b8a"/>
<rect x="430.00" y="194.50" width="4.8" height="1.300" fill="#1f998a"/>
<rect x="430.00" y="195.50" width="4.8" height="1.300" fill="#1f968b"/>
<rect x="430.00" y="196.50" width="4.8" height="1.300" fill="#20938c"/>
<rect x="430.00" y="197.50" width="4.8" height="1.300" fill="#20928c"/>
<rect x="430.00" y="198.50" width="4.8" height="1.300" fill="#218f8d"/>
<rect x="430.00" y="199.50" width="4.8" height="1.300" fill="#228d8d"/>
<rect x="430.00" y="200.50" width="4.8" height="1.300" fill="#238a8d"/>
<rect x="430.00" y="201.50" width="4.8" height="1.300" fill="#24878e"/>
<rect x="430.00" y="202.50" width="4.8" height="1.300" fill="#25858e"/>
<rect x="430.00" y="203.50" width="4.8" height="1.300" fill="#26828e"/>
<rect x="430.00" y="204.50" width="4.8" height="1.300" fill="#26818e"/>
<rect x="430.00" y="205.50" width="4.8" height="1.300" fill="#277e8e"/>
<rect x="430.00" y="206.50" width="4.8" height="1.300" fill="#297b8e"/>
<rect x="430.00" y="207.50" width="4.8" height="1.300" fill="#29798e"/>
<rect x="430.00" y="208.50" width="4.8" height="1.300" fill="#2a768e"/>
<rect x="430.00" y="209.50" width="4.8" height="1.300" fill="#2c738e"/>
<rect x="430.00" y="210.50" width="4.8" height="1.300" fill="#2c718e"/>
<rect x="430.00" y="211.50" width="4.8" height="1.300" fill="#2e6f8e"/>
<rect x="430.00" y="212.50" width="4.8" height="1.300" fill="#2e6d8e"/>
<rect x="430.00" y="213.50" width="4.8" height="1.300" fill="#306a8e"/>
<rect x="430.00" y="214.50" width="4.8" height="1.300" fill="#31678e"/>
<rect x="430.00" y="215.50" width="4.8" height="1.300" fill="#32658e"/>
<rect x="430.00" y="216.50" width="4.8" height="1.300" fill="#33628d"/>
<rect x="430.00" y="217.50" width="4.8" height="1.300" fill="#34608d"/>
<rect x="430.00" y="218.50" width="4.8" height="1.300" fill="#365d8d"/>
<rect x="430.00" y="219.50" width="4.8" height="1.300" fill="#375a8c"/>
<rect x="430.00" y="220.50" width="4.8" height="1.300" fill="#38588c"/>
<rect x="430.00" y="221.50" width="4.8" height="1.300" fill="#3a548c"/>
<rect x="430.00" y="222.50" width="4.8" height="1.300" fill="#3b528b"/>
<rect x="430.00" y="223.50" width="4.8" height="1.300" fill="#3c4f8a"/>
<rect x="430.00" y="224.50" width="4.8" height="1.300" fill="#3e4c8a"/>
<rect x="430.00" y="225.50" width="4.8" height="1.300" fill="#3e4989"/>
<rect x="430.00" y="226.50" width="4.8" height="1.300" fill="#404688"/>
<rect x="430.00" y="227.50" width="4.8" height="1.300" fill="#414287"/>
<rect x="430.00" y="228.50" width="4.8" height="1.300" fill="#424086"/>
<rect x="430.00" y="229.50" width="4.8" height="1.300" fill="#433d84"/>
<rect x="430.00" y="230.50" width="4.8" height="1.300" fill="#443a83"/>
<rect x="430.00" y="231.50" width="4.8" height="1.300" fill="#453781"/>
<rect x="430.00" y="232.50" width="4.8" height="1.300" fill="#46337f"/>
<rect x="430.00" y="233.50" width="4.8" height="1.300" fill="#46307e"/>
<rect x="430.00" y="234.50" width="4.8" height="1.300" fill="#472d7b"/>
<rect x="430.00" y="235.50" width="4.8" height="1.300" fill="#472a7a"/>
<rect x="430.00" y="236.50" width="4.8" height="1.300" fill="#482677"/>
<rect x="430.00" y="237.50" width="4.8" height="1.300" fill="#482374"/>
<rect x="430.00" y="238.50" width="4.8" height="1.300" fill="#482071"/>
<rect x="430.00" y="239.50" width="4.8" height="1.300" fill="#481c6e"/>
<rect x="430.00" y="240.50" width="4.8" height="1.300" fill="#48186a"/>
<rect x="430.00" y="241.50" width="4.8" height="1.300" fill="#481668"/>
<rect x="430.00" y="242.50" width="4.8" height="1.300" fill="#471164"/>
<rect x="430.00" y="243.50" width="4.8" height="1.300" fill="#470e61"/>
<rect x="430.00" y="244.50" width="4.8" height="1.300" fill="#460a5d"/>
<rect x="430.00" y="245.50" width="4.8" height="1.300" fill="#450559"/>
<rect x="430.00" y="246.50" width="4.8" height="1.300" fill="#440256"/>
<rect x="430.00" y="149.50" width="4.8" height="98.00" fill="none" stroke="#262626" stroke-width="0.9"/>
<g stroke="#262626" stroke-width="0.9">
<line x1="434.80" y1="165.83" x2="437.80" y2="165.83"/>
<line x1="434.80" y1="198.50" x2="437.80" y2="198.50"/>
<line x1="434.80" y1="231.17" x2="437.80" y2="231.17"/>
</g>
<text x="441.40" y="169.13" font-size="9.20" fill="#111" text-anchor="start" textLength="5.1" lengthAdjust="spacingAndGlyphs" >0</text>
<text x="441.40" y="201.80" font-size="9.20" fill="#111" text-anchor="start" textLength="18.2" lengthAdjust="spacingAndGlyphs" >−10</text>
<text x="441.40" y="234.47" font-size="9.20" fill="#111" text-anchor="start" textLength="18.2" lengthAdjust="spacingAndGlyphs" >−20</text>
<text transform="translate(470.30,236.70) rotate(-90)" font-size="8.8" fill="#111" textLength="17.6" lengthAdjust="spacingAndGlyphs">LOS</text>
<text transform="translate(470.30,216.40) rotate(-90)" font-size="8.8" fill="#111" textLength="32.4" lengthAdjust="spacingAndGlyphs">change</text>
<text transform="translate(470.30,181.20) rotate(-90)" font-size="8.8" fill="#111" textLength="20.4" lengthAdjust="spacingAndGlyphs">(cm)</text>
<clipPath id="c12"><rect x="492.60" y="154.50" width="141.80" height="88.00"/></clipPath>
<g stroke="#a8a8a8" stroke-width="1" fill="none">
<line x1="521.80" y1="154.50" x2="521.80" y2="242.50"/>
<line x1="561.25" y1="154.50" x2="561.25" y2="242.50"/>
<line x1="600.70" y1="154.50" x2="600.70" y2="242.50"/>
<line x1="492.60" y1="184.00" x2="634.40" y2="184.00"/>
<line x1="492.60" y1="223.50" x2="634.40" y2="223.50"/>
</g>
<g clip-path="url(#c12)">
<g transform="translate(521.800,184.0) scale(1.00000,1.0128) translate(-96.0,-57.0)">
<use href="#coast"/>
</g>
<g transform="translate(521.800,0) scale(1.00000,1) translate(-96.6,0)">
<circle cx="183.5" cy="160.1" r="1.85" fill="#63cb5f"/>
<circle cx="186.0" cy="160.1" r="1.85" fill="#58c765"/>
<circle cx="188.5" cy="160.1" r="1.85" fill="#63cb5f"/>
<circle cx="191.0" cy="160.1" r="1.85" fill="#5cc863"/>
<circle cx="193.5" cy="160.1" r="1.85" fill="#2fb47c"/>
<circle cx="196.0" cy="160.1" r="1.85" fill="#3fbc73"/>
<circle cx="198.5" cy="160.1" r="1.85" fill="#3aba76"/>
<circle cx="177.2" cy="162.2" r="1.85" fill="#86d549"/>
<circle cx="179.7" cy="162.2" r="1.85" fill="#7cd250"/>
<circle cx="182.2" cy="162.2" r="1.85" fill="#6ece58"/>
<circle cx="184.7" cy="162.2" r="1.85" fill="#5ec962"/>
<circle cx="187.2" cy="162.2" r="1.85" fill="#65cb5e"/>
<circle cx="189.7" cy="162.2" r="1.85" fill="#5ec962"/>
<circle cx="192.2" cy="162.2" r="1.85" fill="#3fbc73"/>
<circle cx="194.7" cy="162.2" r="1.85" fill="#31b57b"/>
<circle cx="197.2" cy="162.2" r="1.85" fill="#3aba76"/>
<circle cx="199.7" cy="162.2" r="1.85" fill="#40bd72"/>
<circle cx="202.2" cy="162.2" r="1.85" fill="#3aba76"/>
<circle cx="166.0" cy="164.4" r="1.85" fill="#65cb5e"/>
<circle cx="168.5" cy="164.4" r="1.85" fill="#8bd646"/>
<circle cx="171.0" cy="164.4" r="1.85" fill="#81d34d"/>
<circle cx="173.5" cy="164.4" r="1.85" fill="#8bd646"/>
<circle cx="176.0" cy="164.4" r="1.85" fill="#7fd34e"/>
<circle cx="178.5" cy="164.4" r="1.85" fill="#70cf57"/>
<circle cx="181.0" cy="164.4" r="1.85" fill="#7fd34e"/>
<circle cx="183.5" cy="164.4" r="1.85" fill="#69cd5b"/>
<circle cx="186.0" cy="164.4" r="1.85" fill="#40bd72"/>
<circle cx="188.5" cy="164.4" r="1.85" fill="#60ca60"/>
<circle cx="191.0" cy="164.4" r="1.85" fill="#63cb5f"/>
<circle cx="193.5" cy="164.4" r="1.85" fill="#37b878"/>
<circle cx="196.0" cy="164.4" r="1.85" fill="#2ab07f"/>
<circle cx="198.5" cy="164.4" r="1.85" fill="#31b57b"/>
<circle cx="201.0" cy="164.4" r="1.85" fill="#37b878"/>
<circle cx="203.5" cy="164.4" r="1.85" fill="#42be71"/>
<circle cx="159.7" cy="166.6" r="1.85" fill="#69cd5b"/>
<circle cx="162.2" cy="166.6" r="1.85" fill="#63cb5f"/>
<circle cx="164.7" cy="166.6" r="1.85" fill="#6ccd5a"/>
<circle cx="167.2" cy="166.6" r="1.85" fill="#7cd250"/>
<circle cx="169.7" cy="166.6" r="1.85" fill="#86d549"/>
<circle cx="172.2" cy="166.6" r="1.85" fill="#90d743"/>
<circle cx="174.7" cy="166.6" r="1.85" fill="#8ed645"/>
<circle cx="177.2" cy="166.6" r="1.85" fill="#8bd646"/>
<circle cx="179.7" cy="166.6" r="1.85" fill="#89d548"/>
<circle cx="182.2" cy="166.6" r="1.85" fill="#60ca60"/>
<circle cx="184.7" cy="166.6" r="1.85" fill="#54c568"/>
<circle cx="187.2" cy="166.6" r="1.85" fill="#48c16e"/>
<circle cx="189.7" cy="166.6" r="1.85" fill="#56c667"/>
<circle cx="192.2" cy="166.6" r="1.85" fill="#48c16e"/>
<circle cx="194.7" cy="166.6" r="1.85" fill="#38b977"/>
<circle cx="197.2" cy="166.6" r="1.85" fill="#38b977"/>
<circle cx="199.7" cy="166.6" r="1.85" fill="#2fb47c"/>
<circle cx="202.2" cy="166.6" r="1.85" fill="#4ec36b"/>
<circle cx="156.0" cy="168.7" r="1.85" fill="#67cc5c"/>
<circle cx="158.5" cy="168.7" r="1.85" fill="#7ad151"/>
<circle cx="161.0" cy="168.7" r="1.85" fill="#89d548"/>
<circle cx="163.5" cy="168.7" r="1.85" fill="#6ccd5a"/>
<circle cx="166.0" cy="168.7" r="1.85" fill="#7cd250"/>
<circle cx="168.5" cy="168.7" r="1.85" fill="#7cd250"/>
<circle cx="171.0" cy="168.7" r="1.85" fill="#90d743"/>
<circle cx="173.5" cy="168.7" r="1.85" fill="#77d153"/>
<circle cx="176.0" cy="168.7" r="1.85" fill="#7fd34e"/>
<circle cx="178.5" cy="168.7" r="1.85" fill="#77d153"/>
<circle cx="181.0" cy="168.7" r="1.85" fill="#6ccd5a"/>
<circle cx="186.0" cy="168.7" r="1.85" fill="#70cf57"/>
<circle cx="188.5" cy="168.7" r="1.85" fill="#5ac864"/>
<circle cx="191.0" cy="168.7" r="1.85" fill="#65cb5e"/>
<circle cx="193.5" cy="168.7" r="1.85" fill="#48c16e"/>
<circle cx="196.0" cy="168.7" r="1.85" fill="#58c765"/>
<circle cx="198.5" cy="168.7" r="1.85" fill="#4cc26c"/>
<circle cx="201.0" cy="168.7" r="1.85" fill="#5ec962"/>
<circle cx="203.5" cy="168.7" r="1.85" fill="#4cc26c"/>
<circle cx="152.2" cy="170.9" r="1.85" fill="#6ccd5a"/>
<circle cx="154.7" cy="170.9" r="1.85" fill="#6ece58"/>
<circle cx="157.2" cy="170.9" r="1.85" fill="#6ece58"/>
<circle cx="159.7" cy="170.9" r="1.85" fill="#89d548"/>
<circle cx="162.2" cy="170.9" r="1.85" fill="#84d44b"/>
<circle cx="164.7" cy="170.9" r="1.85" fill="#75d054"/>
<circle cx="167.2" cy="170.9" r="1.85" fill="#6ccd5a"/>
<circle cx="174.7" cy="170.9" r="1.85" fill="#6ccd5a"/>
<circle cx="177.2" cy="170.9" r="1.85" fill="#67cc5c"/>
<circle cx="179.7" cy="170.9" r="1.85" fill="#69cd5b"/>
<circle cx="187.2" cy="170.9" r="1.85" fill="#67cc5c"/>
<circle cx="189.7" cy="170.9" r="1.85" fill="#73d056"/>
<circle cx="192.2" cy="170.9" r="1.85" fill="#69cd5b"/>
<circle cx="151.0" cy="173.1" r="1.85" fill="#81d34d"/>
<circle cx="153.5" cy="173.1" r="1.85" fill="#70cf57"/>
<circle cx="156.0" cy="173.1" r="1.85" fill="#77d153"/>
<circle cx="158.5" cy="173.1" r="1.85" fill="#6ccd5a"/>
<circle cx="161.0" cy="173.1" r="1.85" fill="#8bd646"/>
<circle cx="163.5" cy="173.1" r="1.85" fill="#84d44b"/>
<circle cx="166.0" cy="173.1" r="1.85" fill="#9bd93c"/>
<circle cx="168.5" cy="173.1" r="1.85" fill="#7fd34e"/>
<circle cx="173.5" cy="173.1" r="1.85" fill="#6ece58"/>
<circle cx="176.0" cy="173.1" r="1.85" fill="#70cf57"/>
<circle cx="178.5" cy="173.1" r="1.85" fill="#84d44b"/>
<circle cx="181.0" cy="173.1" r="1.85" fill="#75d054"/>
<circle cx="147.2" cy="175.2" r="1.85" fill="#67cc5c"/>
<circle cx="149.7" cy="175.2" r="1.85" fill="#98d83e"/>
<circle cx="152.2" cy="175.2" r="1.85" fill="#8bd646"/>
<circle cx="154.7" cy="175.2" r="1.85" fill="#75d054"/>
<circle cx="157.2" cy="175.2" r="1.85" fill="#77d153"/>
<circle cx="159.7" cy="175.2" r="1.85" fill="#6ece58"/>
<circle cx="162.2" cy="175.2" r="1.85" fill="#77d153"/>
<circle cx="164.7" cy="175.2" r="1.85" fill="#81d34d"/>
<circle cx="167.2" cy="175.2" r="1.85" fill="#95d840"/>
<circle cx="169.7" cy="175.2" r="1.85" fill="#89d548"/>
<circle cx="172.2" cy="175.2" r="1.85" fill="#7fd34e"/>
<circle cx="174.7" cy="175.2" r="1.85" fill="#6ece58"/>
<circle cx="177.2" cy="175.2" r="1.85" fill="#6ece58"/>
<circle cx="143.5" cy="177.4" r="1.85" fill="#84d44b"/>
<circle cx="146.0" cy="177.4" r="1.85" fill="#70cf57"/>
<circle cx="148.5" cy="177.4" r="1.85" fill="#7ad151"/>
<circle cx="151.0" cy="177.4" r="1.85" fill="#89d548"/>
<circle cx="153.5" cy="177.4" r="1.85" fill="#6ece58"/>
<circle cx="156.0" cy="177.4" r="1.85" fill="#63cb5f"/>
<circle cx="158.5" cy="177.4" r="1.85" fill="#6ece58"/>
<circle cx="161.0" cy="177.4" r="1.85" fill="#77d153"/>
<circle cx="163.5" cy="177.4" r="1.85" fill="#86d549"/>
<circle cx="166.0" cy="177.4" r="1.85" fill="#73d056"/>
<circle cx="173.5" cy="177.4" r="1.85" fill="#75d054"/>
<circle cx="176.0" cy="177.4" r="1.85" fill="#81d34d"/>
<circle cx="137.2" cy="179.6" r="1.85" fill="#95d840"/>
<circle cx="139.7" cy="179.6" r="1.85" fill="#a5db36"/>
<circle cx="142.2" cy="179.6" r="1.85" fill="#9bd93c"/>
<circle cx="157.2" cy="179.6" r="1.85" fill="#56c667"/>
<circle cx="159.7" cy="179.6" r="1.85" fill="#6ece58"/>
<circle cx="162.2" cy="179.6" r="1.85" fill="#73d056"/>
<circle cx="164.7" cy="179.6" r="1.85" fill="#75d054"/>
<circle cx="167.2" cy="179.6" r="1.85" fill="#8bd646"/>
<circle cx="172.2" cy="179.6" r="1.85" fill="#8ed645"/>
<circle cx="174.7" cy="179.6" r="1.85" fill="#81d34d"/>
<circle cx="131.0" cy="181.7" r="1.85" fill="#90d743"/>
<circle cx="133.5" cy="181.7" r="1.85" fill="#a8db34"/>
<circle cx="136.0" cy="181.7" r="1.85" fill="#86d549"/>
<circle cx="138.5" cy="181.7" r="1.85" fill="#98d83e"/>
<circle cx="158.5" cy="181.7" r="1.85" fill="#70cf57"/>
<circle cx="161.0" cy="181.7" r="1.85" fill="#58c765"/>
<circle cx="163.5" cy="181.7" r="1.85" fill="#70cf57"/>
<circle cx="166.0" cy="181.7" r="1.85" fill="#63cb5f"/>
<circle cx="168.5" cy="181.7" r="1.85" fill="#7cd250"/>
<circle cx="171.0" cy="181.7" r="1.85" fill="#84d44b"/>
<circle cx="173.5" cy="181.7" r="1.85" fill="#8ed645"/>
<circle cx="117.2" cy="183.9" r="1.85" fill="#a5db36"/>
<circle cx="119.7" cy="183.9" r="1.85" fill="#9bd93c"/>
<circle cx="124.7" cy="183.9" r="1.85" fill="#addc30"/>
<circle cx="127.2" cy="183.9" r="1.85" fill="#a5db36"/>
<circle cx="129.7" cy="183.9" r="1.85" fill="#b2dd2d"/>
<circle cx="132.2" cy="183.9" r="1.85" fill="#95d840"/>
<circle cx="134.7" cy="183.9" r="1.85" fill="#b2dd2d"/>
<circle cx="162.2" cy="183.9" r="1.85" fill="#63cb5f"/>
<circle cx="164.7" cy="183.9" r="1.85" fill="#77d153"/>
<circle cx="167.2" cy="183.9" r="1.85" fill="#6ccd5a"/>
<circle cx="169.7" cy="183.9" r="1.85" fill="#81d34d"/>
<circle cx="172.2" cy="183.9" r="1.85" fill="#8bd646"/>
<circle cx="116.0" cy="186.1" r="1.85" fill="#a0da39"/>
<circle cx="118.5" cy="186.1" r="1.85" fill="#9dd93b"/>
<circle cx="121.0" cy="186.1" r="1.85" fill="#84d44b"/>
<circle cx="123.5" cy="186.1" r="1.85" fill="#9dd93b"/>
<circle cx="126.0" cy="186.1" r="1.85" fill="#98d83e"/>
<circle cx="128.5" cy="186.1" r="1.85" fill="#a8db34"/>
<circle cx="131.0" cy="186.1" r="1.85" fill="#a0da39"/>
<circle cx="133.5" cy="186.1" r="1.85" fill="#aadc32"/>
<circle cx="166.0" cy="186.1" r="1.85" fill="#69cd5b"/>
<circle cx="117.2" cy="188.2" r="1.85" fill="#b8de29"/>
<circle cx="119.7" cy="188.2" r="1.85" fill="#b2dd2d"/>
<circle cx="122.2" cy="188.2" r="1.85" fill="#93d741"/>
<circle cx="124.7" cy="188.2" r="1.85" fill="#98d83e"/>
<circle cx="127.2" cy="188.2" r="1.85" fill="#aadc32"/>
<circle cx="129.7" cy="188.2" r="1.85" fill="#a8db34"/>
<circle cx="116.0" cy="190.4" r="1.85" fill="#9bd93c"/>
<circle cx="118.5" cy="190.4" r="1.85" fill="#9dd93b"/>
<circle cx="121.0" cy="190.4" r="1.85" fill="#a8db34"/>
<circle cx="117.2" cy="192.6" r="1.85" fill="#aadc32"/>
<circle cx="119.7" cy="192.6" r="1.85" fill="#9bd93c"/>
<circle cx="116.0" cy="194.7" r="1.85" fill="#aadc32"/>
<circle cx="118.5" cy="194.7" r="1.85" fill="#7fd34e"/>
<circle cx="117.2" cy="196.9" r="1.85" fill="#84d44b"/>
<circle cx="119.7" cy="196.9" r="1.85" fill="#7ad151"/>
<circle cx="116.0" cy="199.1" r="1.85" fill="#9dd93b"/>
<circle cx="118.5" cy="199.1" r="1.85" fill="#7fd34e"/>
<circle cx="115.0" cy="182.3" r="1.85" fill="#9dd93b"/>
<circle cx="114.9" cy="184.9" r="1.85" fill="#bade28"/>
<circle cx="114.8" cy="187.4" r="1.85" fill="#b8de29"/>
<circle cx="114.7" cy="190.0" r="1.85" fill="#9dd93b"/>
<circle cx="114.7" cy="192.9" r="1.85" fill="#aadc32"/>
<circle cx="114.8" cy="195.8" r="1.85" fill="#addc30"/>
<circle cx="114.8" cy="198.7" r="1.85" fill="#a5db36"/>
<circle cx="116.6" cy="200.2" r="1.85" fill="#95d840"/>
<circle cx="119.6" cy="200.2" r="1.85" fill="#7ad151"/>
<circle cx="120.7" cy="198.5" r="1.85" fill="#86d549"/>
<circle cx="120.9" cy="195.5" r="1.85" fill="#90d743"/>
<circle cx="121.0" cy="192.4" r="1.85" fill="#98d83e"/>
<circle cx="121.0" cy="192.3" r="1.85" fill="#8ed645"/>
<circle cx="121.0" cy="192.1" r="1.85" fill="#98d83e"/>
<circle cx="121.1" cy="191.9" r="1.85" fill="#9bd93c"/>
<circle cx="121.2" cy="191.8" r="1.85" fill="#9dd93b"/>
<circle cx="121.2" cy="191.7" r="1.85" fill="#a5db36"/>
<circle cx="121.3" cy="191.5" r="1.85" fill="#9bd93c"/>
<circle cx="121.4" cy="191.4" r="1.85" fill="#b0dd2f"/>
<circle cx="123.3" cy="189.4" r="1.85" fill="#95d840"/>
<circle cx="123.5" cy="189.3" r="1.85" fill="#a8db34"/>
<circle cx="123.6" cy="189.2" r="1.85" fill="#a2da37"/>
<circle cx="123.7" cy="189.1" r="1.85" fill="#b2dd2d"/>
<circle cx="123.8" cy="189.0" r="1.85" fill="#b0dd2f"/>
<circle cx="124.0" cy="189.0" r="1.85" fill="#9dd93b"/>
<circle cx="124.1" cy="188.9" r="1.85" fill="#95d840"/>
<circle cx="124.3" cy="188.9" r="1.85" fill="#b5de2b"/>
<circle cx="124.4" cy="188.9" r="1.85" fill="#a2da37"/>
<circle cx="124.6" cy="188.9" r="1.85" fill="#9dd93b"/>
<circle cx="124.7" cy="188.9" r="1.85" fill="#98d83e"/>
<circle cx="126.7" cy="189.2" r="1.85" fill="#a0da39"/>
<circle cx="128.7" cy="189.5" r="1.85" fill="#a0da39"/>
<circle cx="131.0" cy="188.1" r="1.85" fill="#addc30"/>
<circle cx="133.4" cy="186.7" r="1.85" fill="#93d741"/>
<circle cx="135.1" cy="185.4" r="1.85" fill="#9bd93c"/>
<circle cx="136.9" cy="184.0" r="1.85" fill="#98d83e"/>
<circle cx="138.6" cy="182.7" r="1.85" fill="#9dd93b"/>
<circle cx="138.7" cy="182.7" r="1.85" fill="#9dd93b"/>
<circle cx="141.3" cy="180.8" r="1.85" fill="#8ed645"/>
<circle cx="143.9" cy="178.9" r="1.85" fill="#9dd93b"/>
<circle cx="144.0" cy="178.8" r="1.85" fill="#a0da39"/>
<circle cx="144.1" cy="178.7" r="1.85" fill="#a0da39"/>
<circle cx="144.3" cy="178.7" r="1.85" fill="#84d44b"/>
<circle cx="144.4" cy="178.6" r="1.85" fill="#98d83e"/>
<circle cx="144.6" cy="178.6" r="1.85" fill="#84d44b"/>
<circle cx="147.2" cy="178.3" r="1.85" fill="#70cf57"/>
<circle cx="149.8" cy="177.9" r="1.85" fill="#89d548"/>
<circle cx="149.9" cy="177.9" r="1.85" fill="#81d34d"/>
<circle cx="150.1" cy="177.9" r="1.85" fill="#77d153"/>
<circle cx="150.2" cy="177.9" r="1.85" fill="#77d153"/>
<circle cx="150.4" cy="177.9" r="1.85" fill="#86d549"/>
<circle cx="150.5" cy="178.0" r="1.85" fill="#6ece58"/>
<circle cx="153.5" cy="179.0" r="1.85" fill="#77d153"/>
<circle cx="156.5" cy="180.0" r="1.85" fill="#60ca60"/>
<circle cx="156.7" cy="180.0" r="1.85" fill="#58c765"/>
<circle cx="156.8" cy="180.1" r="1.85" fill="#63cb5f"/>
<circle cx="156.9" cy="180.2" r="1.85" fill="#6ece58"/>
<circle cx="157.1" cy="180.3" r="1.85" fill="#77d153"/>
<circle cx="157.2" cy="180.4" r="1.85" fill="#65cb5e"/>
<circle cx="159.0" cy="182.5" r="1.85" fill="#7cd250"/>
<circle cx="160.9" cy="184.6" r="1.85" fill="#69cd5b"/>
<circle cx="163.5" cy="185.4" r="1.85" fill="#60ca60"/>
<circle cx="166.1" cy="186.2" r="1.85" fill="#5cc863"/>
<circle cx="168.8" cy="185.6" r="1.85" fill="#84d44b"/>
<circle cx="171.5" cy="185.0" r="1.85" fill="#8bd646"/>
<circle cx="173.3" cy="183.5" r="1.85" fill="#7ad151"/>
<circle cx="175.2" cy="182.0" r="1.85" fill="#7ad151"/>
<circle cx="175.9" cy="180.0" r="1.85" fill="#86d549"/>
<circle cx="176.7" cy="178.0" r="1.85" fill="#69cd5b"/>
<circle cx="177.5" cy="175.9" r="1.85" fill="#6ece58"/>
<circle cx="177.6" cy="175.8" r="1.85" fill="#67cc5c"/>
<circle cx="177.6" cy="175.7" r="1.85" fill="#69cd5b"/>
<circle cx="177.7" cy="175.5" r="1.85" fill="#89d548"/>
<circle cx="177.8" cy="175.4" r="1.85" fill="#6ece58"/>
<circle cx="177.9" cy="175.3" r="1.85" fill="#77d153"/>
<circle cx="178.0" cy="175.2" r="1.85" fill="#75d054"/>
<circle cx="178.2" cy="175.1" r="1.85" fill="#86d549"/>
<circle cx="178.3" cy="175.1" r="1.85" fill="#77d153"/>
<circle cx="180.3" cy="174.1" r="1.85" fill="#93d741"/>
<circle cx="182.3" cy="173.1" r="1.85" fill="#7ad151"/>
<circle cx="184.6" cy="172.1" r="1.85" fill="#73d056"/>
<circle cx="184.7" cy="172.0" r="1.85" fill="#67cc5c"/>
<circle cx="184.9" cy="172.0" r="1.85" fill="#7ad151"/>
<circle cx="187.3" cy="171.8" r="1.85" fill="#7cd250"/>
<circle cx="189.8" cy="171.6" r="1.85" fill="#84d44b"/>
<circle cx="192.3" cy="171.0" r="1.85" fill="#6ccd5a"/>
<circle cx="194.8" cy="170.5" r="1.85" fill="#5ec962"/>
<circle cx="197.6" cy="169.2" r="1.85" fill="#58c765"/>
<circle cx="197.8" cy="169.1" r="1.85" fill="#5ec962"/>
<circle cx="197.9" cy="169.0" r="1.85" fill="#5cc863"/>
<circle cx="198.1" cy="169.0" r="1.85" fill="#60ca60"/>
<circle cx="198.2" cy="169.0" r="1.85" fill="#60ca60"/>
<circle cx="198.4" cy="169.0" r="1.85" fill="#56c667"/>
<circle cx="198.6" cy="169.0" r="1.85" fill="#5ec962"/>
<circle cx="198.7" cy="169.1" r="1.85" fill="#63cb5f"/>
<circle cx="201.6" cy="169.8" r="1.85" fill="#67cc5c"/>
<circle cx="203.6" cy="170.1" r="1.85" fill="#4cc26c"/>
<circle cx="204.4" cy="168.7" r="1.85" fill="#54c568"/>
<circle cx="204.2" cy="166.6" r="1.85" fill="#58c765"/>
<circle cx="204.0" cy="164.5" r="1.85" fill="#3dbc74"/>
<circle cx="203.1" cy="161.9" r="1.85" fill="#32b67a"/>
<circle cx="201.4" cy="160.6" r="1.85" fill="#48c16e"/>
<circle cx="199.6" cy="159.3" r="1.85" fill="#54c568"/>
<circle cx="196.9" cy="158.9" r="1.85" fill="#34b679"/>
<circle cx="194.1" cy="158.4" r="1.85" fill="#44bf70"/>
<circle cx="191.7" cy="158.2" r="1.85" fill="#3fbc73"/>
<circle cx="189.3" cy="157.9" r="1.85" fill="#48c16e"/>
<circle cx="186.4" cy="158.5" r="1.85" fill="#5cc863"/>
<circle cx="183.7" cy="159.5" r="1.85" fill="#67cc5c"/>
<circle cx="183.7" cy="159.5" r="1.85" fill="#5ec962"/>
<circle cx="181.1" cy="160.3" r="1.85" fill="#63cb5f"/>
<circle cx="178.6" cy="161.0" r="1.85" fill="#84d44b"/>
<circle cx="175.7" cy="162.3" r="1.85" fill="#89d548"/>
<circle cx="175.6" cy="162.3" r="1.85" fill="#7fd34e"/>
<circle cx="175.5" cy="162.4" r="1.85" fill="#7cd250"/>
<circle cx="173.4" cy="162.9" r="1.85" fill="#9bd93c"/>
<circle cx="171.4" cy="163.4" r="1.85" fill="#98d83e"/>
<circle cx="171.2" cy="163.4" r="1.85" fill="#89d548"/>
<circle cx="169.2" cy="163.6" r="1.85" fill="#89d548"/>
<circle cx="167.2" cy="163.9" r="1.85" fill="#84d44b"/>
<circle cx="164.4" cy="164.4" r="1.85" fill="#63cb5f"/>
<circle cx="161.5" cy="164.9" r="1.85" fill="#65cb5e"/>
<circle cx="158.9" cy="166.2" r="1.85" fill="#5cc863"/>
<circle cx="156.2" cy="167.5" r="1.85" fill="#60ca60"/>
<circle cx="154.3" cy="168.9" r="1.85" fill="#7fd34e"/>
<circle cx="152.4" cy="170.3" r="1.85" fill="#7cd250"/>
<circle cx="150.5" cy="172.2" r="1.85" fill="#77d153"/>
<circle cx="148.6" cy="174.1" r="1.85" fill="#89d548"/>
<circle cx="148.5" cy="174.2" r="1.85" fill="#6ccd5a"/>
<circle cx="148.4" cy="174.3" r="1.85" fill="#7cd250"/>
<circle cx="148.2" cy="174.4" r="1.85" fill="#89d548"/>
<circle cx="145.2" cy="175.9" r="1.85" fill="#60ca60"/>
<circle cx="143.4" cy="176.9" r="1.85" fill="#7fd34e"/>
<circle cx="141.6" cy="177.8" r="1.85" fill="#7cd250"/>
<circle cx="141.5" cy="177.9" r="1.85" fill="#95d840"/>
<circle cx="141.4" cy="177.9" r="1.85" fill="#95d840"/>
<circle cx="139.2" cy="178.6" r="1.85" fill="#81d34d"/>
<circle cx="137.0" cy="179.3" r="1.85" fill="#8bd646"/>
<circle cx="134.8" cy="179.9" r="1.85" fill="#9dd93b"/>
<circle cx="132.6" cy="180.6" r="1.85" fill="#a8db34"/>
<circle cx="130.5" cy="181.2" r="1.85" fill="#a0da39"/>
<circle cx="128.3" cy="181.9" r="1.85" fill="#9bd93c"/>
<circle cx="125.8" cy="183.2" r="1.85" fill="#8bd646"/>
<circle cx="123.2" cy="184.4" r="1.85" fill="#9bd93c"/>
<circle cx="123.1" cy="184.5" r="1.85" fill="#8ed645"/>
<circle cx="122.9" cy="184.5" r="1.85" fill="#89d548"/>
<circle cx="122.8" cy="184.6" r="1.85" fill="#a2da37"/>
<circle cx="122.6" cy="184.6" r="1.85" fill="#8ed645"/>
<circle cx="122.4" cy="184.6" r="1.85" fill="#95d840"/>
<circle cx="122.3" cy="184.6" r="1.85" fill="#89d548"/>
<circle cx="122.1" cy="184.5" r="1.85" fill="#95d840"/>
<circle cx="121.9" cy="184.5" r="1.85" fill="#a8db34"/>
<circle cx="121.8" cy="184.4" r="1.85" fill="#8bd646"/>
<circle cx="121.7" cy="184.4" r="1.85" fill="#a0da39"/>
<circle cx="118.7" cy="182.5" r="1.85" fill="#9bd93c"/>
<circle cx="115.9" cy="182.0" r="1.85" fill="#b2dd2d"/>
<circle cx="115.0" cy="182.3" r="1.85" fill="#9dd93b"/>
<circle cx="164.5" cy="202.9" r="1.85" fill="#42be71"/>
<circle cx="167.3" cy="202.9" r="1.85" fill="#42be71"/>
<circle cx="170.2" cy="202.9" r="1.85" fill="#32b67a"/>
<circle cx="173.0" cy="202.9" r="1.85" fill="#4ac16d"/>
<circle cx="175.8" cy="202.9" r="1.85" fill="#40bd72"/>
<circle cx="178.7" cy="202.9" r="1.85" fill="#42be71"/>
<circle cx="181.5" cy="202.9" r="1.85" fill="#3dbc74"/>
<circle cx="165.8" cy="204.2" r="1.85" fill="#3bbb75"/>
<circle cx="168.8" cy="204.2" r="1.85" fill="#3bbb75"/>
<circle cx="171.8" cy="204.2" r="1.85" fill="#32b67a"/>
<circle cx="174.8" cy="204.2" r="1.85" fill="#32b67a"/>
<circle cx="177.8" cy="204.2" r="1.85" fill="#38b977"/>
<circle cx="180.8" cy="204.2" r="1.85" fill="#35b779"/>
<circle cx="181.5" cy="198.9" r="1.85" fill="#75d054"/>
<circle cx="160.6" cy="198.3" r="1.85" fill="#8ed645"/>
<circle cx="136.2" cy="208.8" r="1.85" fill="#7ad151"/>
<circle cx="144.9" cy="207.0" r="1.85" fill="#63cb5f"/>
<circle cx="149.0" cy="206.5" r="1.85" fill="#77d153"/>
<circle cx="146.6" cy="208.8" r="1.85" fill="#6ece58"/>
<circle cx="146.6" cy="212.3" r="1.85" fill="#70cf57"/>
<circle cx="151.3" cy="211.1" r="1.85" fill="#69cd5b"/>
<circle cx="151.3" cy="213.4" r="1.85" fill="#7cd250"/>
<circle cx="150.1" cy="214.6" r="1.85" fill="#75d054"/>
<circle cx="150.1" cy="196.0" r="1.85" fill="#6ccd5a"/>
<circle cx="118.6" cy="201.2" r="1.85" fill="#84d44b"/>
<circle cx="124.8" cy="200.6" r="1.85" fill="#b5de2b"/>
<circle cx="118.6" cy="205.6" r="1.85" fill="#98d83e"/>
<circle cx="125.4" cy="205.6" r="1.85" fill="#93d741"/>
<circle cx="127.3" cy="210.5" r="1.85" fill="#a2da37"/>
<circle cx="123.5" cy="214.3" r="1.85" fill="#7cd250"/>
<circle cx="127.9" cy="214.3" r="1.85" fill="#a5db36"/>
<circle cx="181.2" cy="177.5" r="1.85" fill="#6ece58"/>
<circle cx="187.2" cy="177.5" r="1.85" fill="#7ad151"/>
<circle cx="190.2" cy="176.5" r="1.85" fill="#7ad151"/>
<circle cx="196.3" cy="176.5" r="1.85" fill="#73d056"/>
<circle cx="176.1" cy="186.1" r="1.85" fill="#65cb5e"/>
<circle cx="181.7" cy="184.6" r="1.85" fill="#56c667"/>
<circle cx="180.2" cy="189.6" r="1.85" fill="#58c765"/>
<circle cx="183.2" cy="189.6" r="1.85" fill="#67cc5c"/>
<circle cx="184.2" cy="193.1" r="1.85" fill="#69cd5b"/>
<circle cx="187.7" cy="192.6" r="1.85" fill="#70cf57"/>
<circle cx="186.7" cy="194.2" r="1.85" fill="#73d056"/>
<circle cx="174.6" cy="191.6" r="1.85" fill="#7ad151"/>
<circle cx="167.6" cy="191.6" r="1.85" fill="#63cb5f"/>
<circle cx="161.5" cy="191.6" r="1.85" fill="#73d056"/>
<circle cx="146.6" cy="184.9" r="1.85" fill="#73d056"/>
<circle cx="153.6" cy="184.9" r="1.85" fill="#8bd646"/>
<circle cx="136.1" cy="195.3" r="1.85" fill="#69cd5b"/>
<circle cx="125.1" cy="195.6" r="1.85" fill="#81d34d"/>
<circle cx="127.1" cy="200.7" r="1.85" fill="#b5de2b"/>
<circle cx="158.4" cy="186.1" r="1.85" fill="#89d548"/>
<circle cx="159.9" cy="191.1" r="1.85" fill="#77d153"/>
<circle cx="126.6" cy="213.4" r="1.85" fill="#a0da39"/>
<circle cx="195.3" cy="170.6" r="1.85" fill="#4ac16d"/>
<circle cx="183.2" cy="173.2" r="1.85" fill="#67cc5c"/>
</g>
<g transform="translate(425.20,0)">
<text transform="translate(180.2,215.9) rotate(10)" font-size="9.5" fill="#111" textLength="18.5" lengthAdjust="spacingAndGlyphs">LOS</text>
<text transform="translate(170.5,223.0) rotate(12.2)" font-size="9.5" fill="#111" textLength="35.7" lengthAdjust="spacingAndGlyphs">direction</text>
<path d="M200.6 238.3 L175 233.6" stroke="#000" stroke-width="3.2" fill="none"/>
<path d="M182 230.1 L174.3 233.3 L179.6 239.2" stroke="#000" stroke-width="3.0" fill="none" stroke-linejoin="miter"/>
</g>
</g>
<rect x="492.60" y="154.50" width="141.80" height="88.00" fill="none" stroke="#262626" stroke-width="1"/>
<g stroke="#262626" stroke-width="0.9">
<line x1="521.50" y1="242.50" x2="521.50" y2="245.80"/>
<line x1="561.50" y1="242.50" x2="561.50" y2="245.80"/>
<line x1="600.50" y1="242.50" x2="600.50" y2="245.80"/>
</g>
<text x="521.05" y="256.70" font-size="10.70" fill="#111" text-anchor="middle" textLength="41.3" lengthAdjust="spacingAndGlyphs" >136.8°E</text>
<text x="561.35" y="256.70" font-size="10.70" fill="#111" text-anchor="middle" textLength="31.0" lengthAdjust="spacingAndGlyphs" >137°E</text>
<text x="600.40" y="256.70" font-size="10.70" fill="#111" text-anchor="middle" textLength="41.3" lengthAdjust="spacingAndGlyphs" >137.2°E</text>
<rect x="643.00" y="149.50" width="4.8" height="1.300" fill="#fbe723"/>
<rect x="643.00" y="150.50" width="4.8" height="1.300" fill="#f6e620"/>
<rect x="643.00" y="151.50" width="4.8" height="1.300" fill="#efe51c"/>
<rect x="643.00" y="152.50" width="4.8" height="1.300" fill="#e7e419"/>
<rect x="643.00" y="153.50" width="4.8" height="1.300" fill="#e2e418"/>
<rect x="643.00" y="154.50" width="4.8" height="1.300" fill="#dae319"/>
<rect x="643.00" y="155.50" width="4.8" height="1.300" fill="#d5e21a"/>
<rect x="643.00" y="156.50" width="4.8" height="1.300" fill="#cde11d"/>
<rect x="643.00" y="157.50" width="4.8" height="1.300" fill="#c5e021"/>
<rect x="643.00" y="158.50" width="4.8" height="1.300" fill="#c0df25"/>
<rect x="643.00" y="159.50" width="4.8" height="1.300" fill="#b8de29"/>
<rect x="643.00" y="160.50" width="4.8" height="1.300" fill="#b0dd2f"/>
<rect x="643.00" y="161.50" width="4.8" height="1.300" fill="#aadc32"/>
<rect x="643.00" y="162.50" width="4.8" height="1.300" fill="#a2da37"/>
<rect x="643.00" y="163.50" width="4.8" height="1.300" fill="#9dd93b"/>
<rect x="643.00" y="164.50" width="4.8" height="1.300" fill="#95d840"/>
<rect x="643.00" y="165.50" width="4.8" height="1.300" fill="#8ed645"/>
<rect x="643.00" y="166.50" width="4.8" height="1.300" fill="#89d548"/>
<rect x="643.00" y="167.50" width="4.8" height="1.300" fill="#81d34d"/>
<rect x="643.00" y="168.50" width="4.8" height="1.300" fill="#7cd250"/>
<rect x="643.00" y="169.50" width="4.8" height="1.300" fill="#75d054"/>
<rect x="643.00" y="170.50" width="4.8" height="1.300" fill="#6ece58"/>
<rect x="643.00" y="171.50" width="4.8" height="1.300" fill="#69cd5b"/>
<rect x="643.00" y="172.50" width="4.8" height="1.300" fill="#63cb5f"/>
<rect x="643.00" y="173.50" width="4.8" height="1.300" fill="#5ec962"/>
<rect x="643.00" y="174.50" width="4.8" height="1.300" fill="#58c765"/>
<rect x="643.00" y="175.50" width="4.8" height="1.300" fill="#52c569"/>
<rect x="643.00" y="176.50" width="4.8" height="1.300" fill="#4ec36b"/>
<rect x="643.00" y="177.50" width="4.8" height="1.300" fill="#48c16e"/>
<rect x="643.00" y="178.50" width="4.8" height="1.300" fill="#42be71"/>
<rect x="643.00" y="179.50" width="4.8" height="1.300" fill="#3fbc73"/>
<rect x="643.00" y="180.50" width="4.8" height="1.300" fill="#3aba76"/>
<rect x="643.00" y="181.50" width="4.8" height="1.300" fill="#37b878"/>
<rect x="643.00" y="182.50" width="4.8" height="1.300" fill="#32b67a"/>
<rect x="643.00" y="183.50" width="4.8" height="1.300" fill="#2eb37c"/>
<rect x="643.00" y="184.50" width="4.8" height="1.300" fill="#2cb17e"/>
<rect x="643.00" y="185.50" width="4.8" height="1.300" fill="#28ae80"/>
<rect x="643.00" y="186.50" width="4.8" height="1.300" fill="#26ad81"/>
<rect x="643.00" y="187.50" width="4.8" height="1.300" fill="#24aa83"/>
<rect x="643.00" y="188.50" width="4.8" height="1.300" fill="#22a785"/>
<rect x="643.00" y="189.50" width="4.8" height="1.300" fill="#21a585"/>
<rect x="643.00" y="190.50" width="4.8" height="1.300" fill="#1fa287"/>
<rect x="643.00" y="191.50" width="4.8" height="1.300" fill="#1fa088"/>
<rect x="643.00" y="192.50" width="4.8" height="1.300" fill="#1f9e89"/>
<rect x="643.00" y="193.50" width="4.8" height="1.300" fill="#1e9b8a"/>
<rect x="643.00" y="194.50" width="4.8" height="1.300" fill="#1f998a"/>
<rect x="643.00" y="195.50" width="4.8" height="1.300" fill="#1f968b"/>
<rect x="643.00" y="196.50" width="4.8" height="1.300" fill="#20938c"/>
<rect x="643.00" y="197.50" width="4.8" height="1.300" fill="#20928c"/>
<rect x="643.00" y="198.50" width="4.8" height="1.300" fill="#218f8d"/>
<rect x="643.00" y="199.50" width="4.8" height="1.300" fill="#228d8d"/>
<rect x="643.00" y="200.50" width="4.8" height="1.300" fill="#238a8d"/>
<rect x="643.00" y="201.50" width="4.8" height="1.300" fill="#24878e"/>
<rect x="643.00" y="202.50" width="4.8" height="1.300" fill="#25858e"/>
<rect x="643.00" y="203.50" width="4.8" height="1.300" fill="#26828e"/>
<rect x="643.00" y="204.50" width="4.8" height="1.300" fill="#26818e"/>
<rect x="643.00" y="205.50" width="4.8" height="1.300" fill="#277e8e"/>
<rect x="643.00" y="206.50" width="4.8" height="1.300" fill="#297b8e"/>
<rect x="643.00" y="207.50" width="4.8" height="1.300" fill="#29798e"/>
<rect x="643.00" y="208.50" width="4.8" height="1.300" fill="#2a768e"/>
<rect x="643.00" y="209.50" width="4.8" height="1.300" fill="#2c738e"/>
<rect x="643.00" y="210.50" width="4.8" height="1.300" fill="#2c718e"/>
<rect x="643.00" y="211.50" width="4.8" height="1.300" fill="#2e6f8e"/>
<rect x="643.00" y="212.50" width="4.8" height="1.300" fill="#2e6d8e"/>
<rect x="643.00" y="213.50" width="4.8" height="1.300" fill="#306a8e"/>
<rect x="643.00" y="214.50" width="4.8" height="1.300" fill="#31678e"/>
<rect x="643.00" y="215.50" width="4.8" height="1.300" fill="#32658e"/>
<rect x="643.00" y="216.50" width="4.8" height="1.300" fill="#33628d"/>
<rect x="643.00" y="217.50" width="4.8" height="1.300" fill="#34608d"/>
<rect x="643.00" y="218.50" width="4.8" height="1.300" fill="#365d8d"/>
<rect x="643.00" y="219.50" width="4.8" height="1.300" fill="#375a8c"/>
<rect x="643.00" y="220.50" width="4.8" height="1.300" fill="#38588c"/>
<rect x="643.00" y="221.50" width="4.8" height="1.300" fill="#3a548c"/>
<rect x="643.00" y="222.50" width="4.8" height="1.300" fill="#3b528b"/>
<rect x="643.00" y="223.50" width="4.8" height="1.300" fill="#3c4f8a"/>
<rect x="643.00" y="224.50" width="4.8" height="1.300" fill="#3e4c8a"/>
<rect x="643.00" y="225.50" width="4.8" height="1.300" fill="#3e4989"/>
<rect x="643.00" y="226.50" width="4.8" height="1.300" fill="#404688"/>
<rect x="643.00" y="227.50" width="4.8" height="1.300" fill="#414287"/>
<rect x="643.00" y="228.50" width="4.8" height="1.300" fill="#424086"/>
<rect x="643.00" y="229.50" width="4.8" height="1.300" fill="#433d84"/>
<rect x="643.00" y="230.50" width="4.8" height="1.300" fill="#443a83"/>
<rect x="643.00" y="231.50" width="4.8" height="1.300" fill="#453781"/>
<rect x="643.00" y="232.50" width="4.8" height="1.300" fill="#46337f"/>
<rect x="643.00" y="233.50" width="4.8" height="1.300" fill="#46307e"/>
<rect x="643.00" y="234.50" width="4.8" height="1.300" fill="#472d7b"/>
<rect x="643.00" y="235.50" width="4.8" height="1.300" fill="#472a7a"/>
<rect x="643.00" y="236.50" width="4.8" height="1.300" fill="#482677"/>
<rect x="643.00" y="237.50" width="4.8" height="1.300" fill="#482374"/>
<rect x="643.00" y="238.50" width="4.8" height="1.300" fill="#482071"/>
<rect x="643.00" y="239.50" width="4.8" height="1.300" fill="#481c6e"/>
<rect x="643.00" y="240.50" width="4.8" height="1.300" fill="#48186a"/>
<rect x="643.00" y="241.50" width="4.8" height="1.300" fill="#481668"/>
<rect x="643.00" y="242.50" width="4.8" height="1.300" fill="#471164"/>
<rect x="643.00" y="243.50" width="4.8" height="1.300" fill="#470e61"/>
<rect x="643.00" y="244.50" width="4.8" height="1.300" fill="#460a5d"/>
<rect x="643.00" y="245.50" width="4.8" height="1.300" fill="#450559"/>
<rect x="643.00" y="246.50" width="4.8" height="1.300" fill="#440256"/>
<rect x="643.00" y="149.50" width="4.8" height="98.00" fill="none" stroke="#262626" stroke-width="0.9"/>
<g stroke="#262626" stroke-width="0.9">
<line x1="647.80" y1="165.83" x2="650.80" y2="165.83"/>
<line x1="647.80" y1="198.50" x2="650.80" y2="198.50"/>
<line x1="647.80" y1="231.17" x2="650.80" y2="231.17"/>
</g>
<text x="654.40" y="169.13" font-size="9.20" fill="#111" text-anchor="start" textLength="5.1" lengthAdjust="spacingAndGlyphs" >0</text>
<text x="654.40" y="201.80" font-size="9.20" fill="#111" text-anchor="start" textLength="18.2" lengthAdjust="spacingAndGlyphs" >−10</text>
<text x="654.40" y="234.47" font-size="9.20" fill="#111" text-anchor="start" textLength="18.2" lengthAdjust="spacingAndGlyphs" >−20</text>
<text transform="translate(683.30,236.70) rotate(-90)" font-size="8.8" fill="#111" textLength="17.6" lengthAdjust="spacingAndGlyphs">LOS</text>
<text transform="translate(683.30,216.40) rotate(-90)" font-size="8.8" fill="#111" textLength="32.4" lengthAdjust="spacingAndGlyphs">change</text>
<text transform="translate(683.30,181.20) rotate(-90)" font-size="8.8" fill="#111" textLength="20.4" lengthAdjust="spacingAndGlyphs">(cm)</text>
</svg></body></html>
